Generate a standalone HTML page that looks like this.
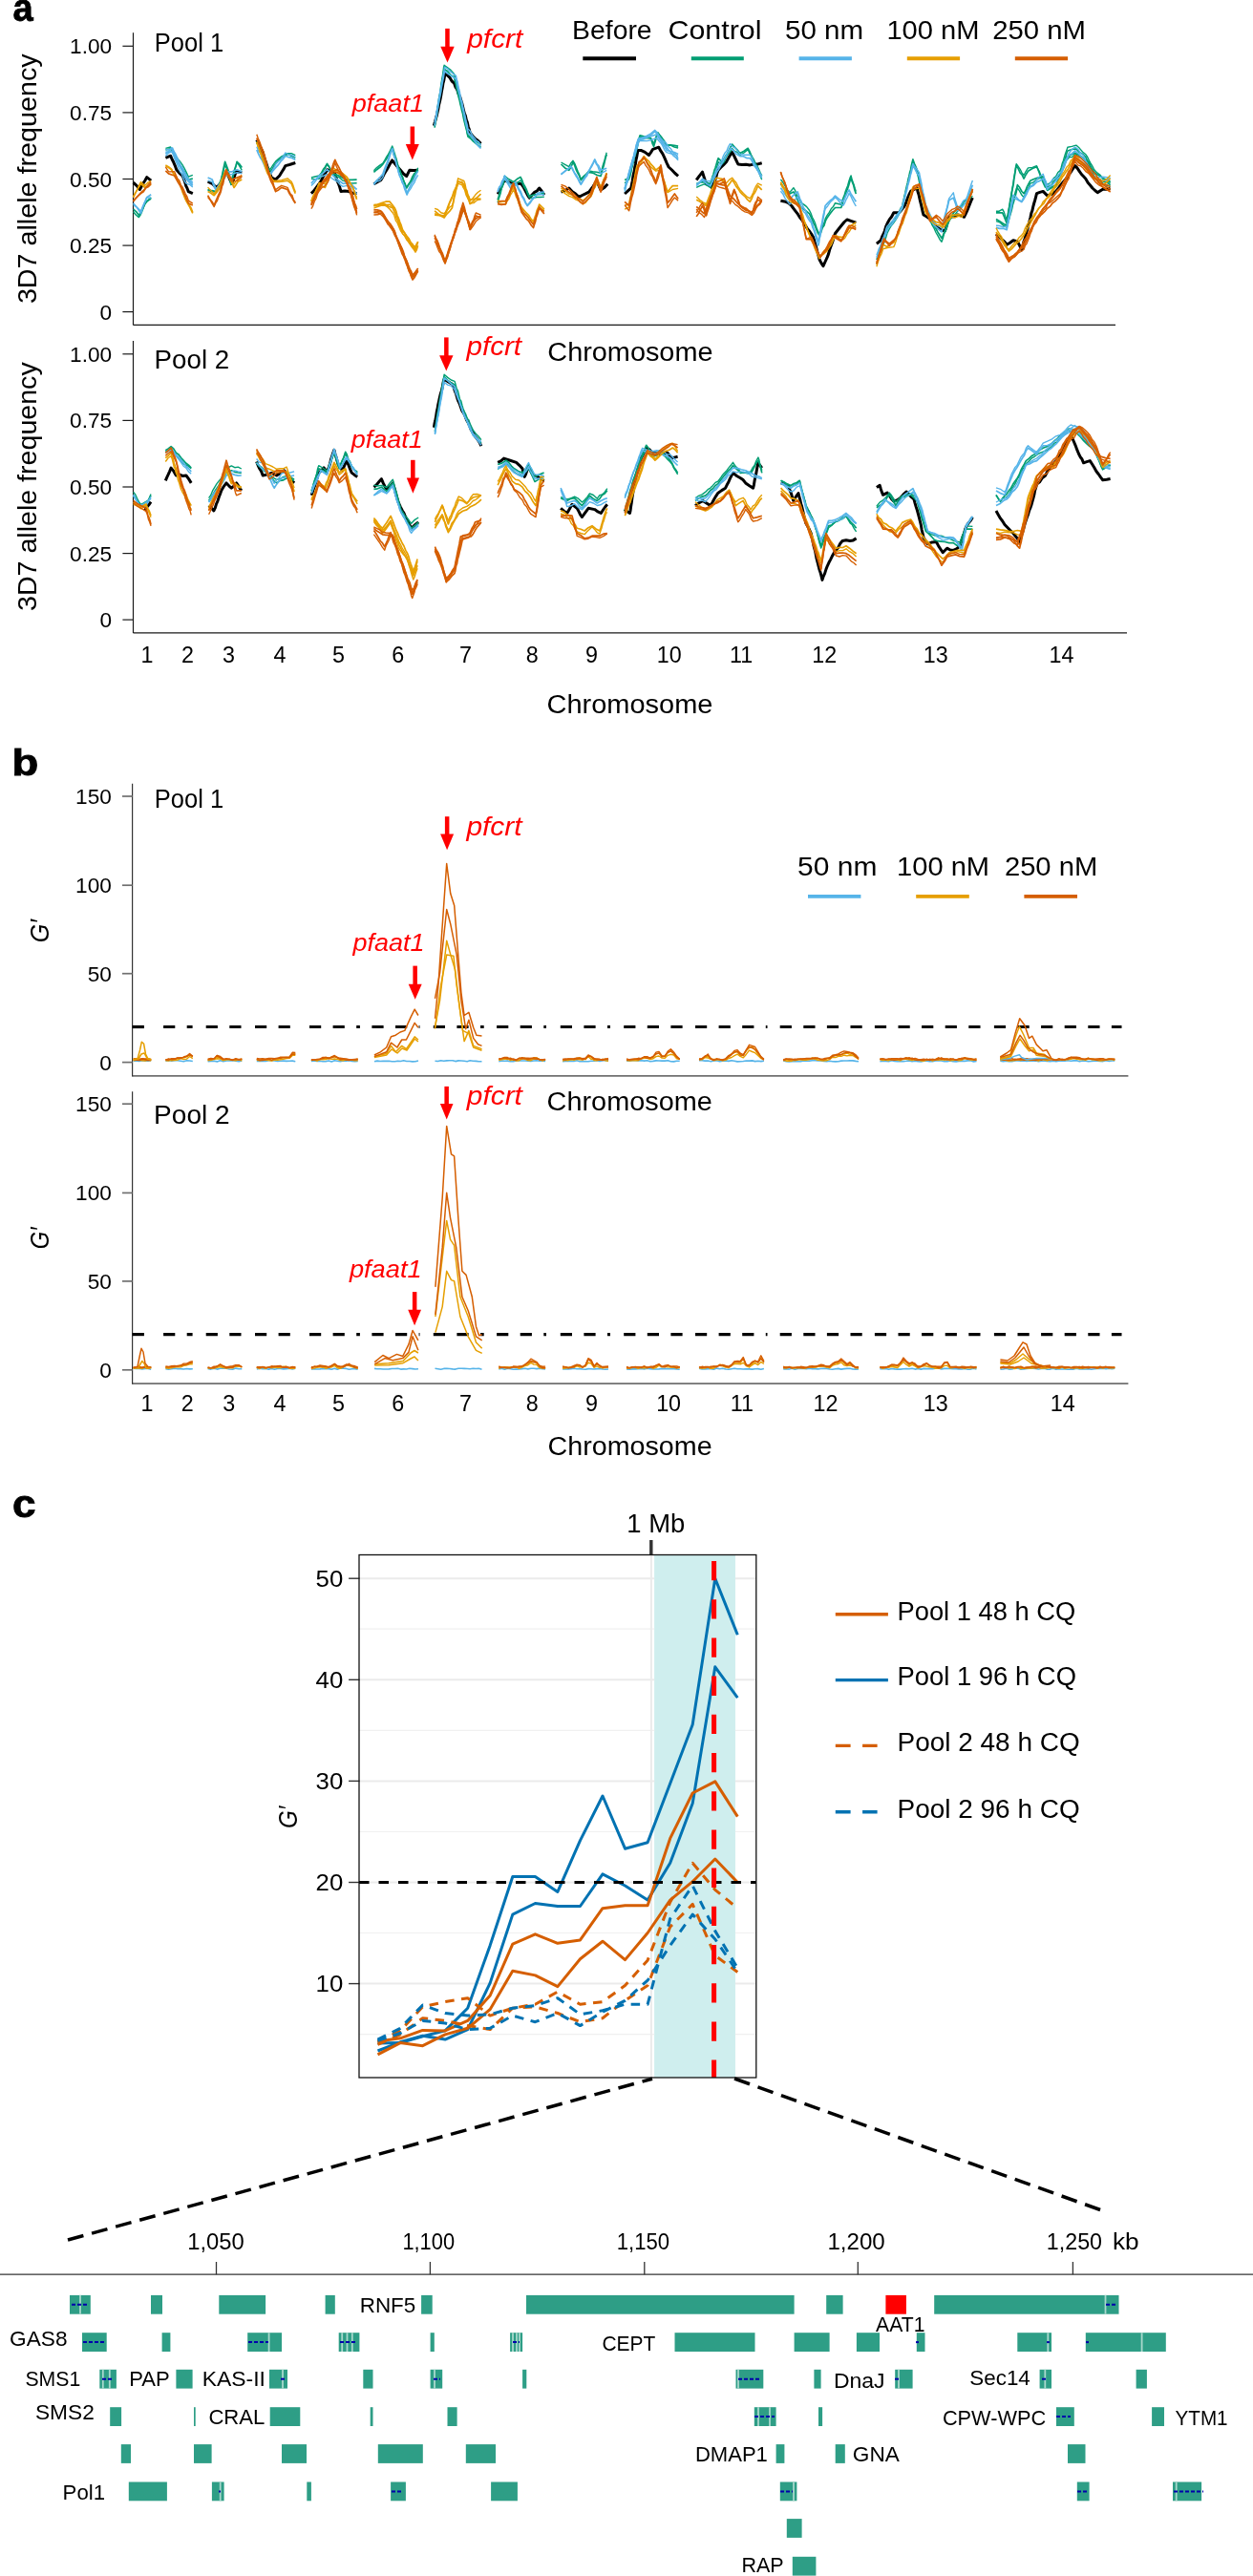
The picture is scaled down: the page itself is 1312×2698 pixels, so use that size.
<!DOCTYPE html>
<html><head><meta charset="utf-8"><style>
html,body{margin:0;padding:0;background:#fff;}
svg{display:block;font-family:"Liberation Sans", sans-serif;will-change:transform;}
</style></head><body>
<svg width="1312" height="2698" viewBox="0 0 1312 2698">
<rect width="1312" height="2698" fill="#fff"/>
<text x="13.6" y="21.5" font-size="41" fill="#000" text-anchor="start" font-weight="bold" textLength="21.2" lengthAdjust="spacingAndGlyphs" stroke="#000" stroke-width="0.8">a</text>
<line x1="139.5" y1="34.3" x2="139.5" y2="340.4" stroke="#1a1a1a" stroke-width="1.2" />
<line x1="139.5" y1="340.4" x2="1168" y2="340.4" stroke="#1a1a1a" stroke-width="1.2" />
<line x1="128.4" y1="48.3" x2="139.5" y2="48.3" stroke="#1a1a1a" stroke-width="1.2" />
<text x="117.1" y="56.3" font-size="22.6" fill="#000" text-anchor="end" >1.00</text>
<line x1="128.4" y1="117.9" x2="139.5" y2="117.9" stroke="#1a1a1a" stroke-width="1.2" />
<text x="117.1" y="125.9" font-size="22.6" fill="#000" text-anchor="end" >0.75</text>
<line x1="128.4" y1="187.5" x2="139.5" y2="187.5" stroke="#1a1a1a" stroke-width="1.2" />
<text x="117.1" y="195.5" font-size="22.6" fill="#000" text-anchor="end" >0.50</text>
<line x1="128.4" y1="257.1" x2="139.5" y2="257.1" stroke="#1a1a1a" stroke-width="1.2" />
<text x="117.1" y="265.1" font-size="22.6" fill="#000" text-anchor="end" >0.25</text>
<line x1="128.4" y1="326.6" x2="139.5" y2="326.6" stroke="#1a1a1a" stroke-width="1.2" />
<text x="117.1" y="334.6" font-size="22.6" fill="#000" text-anchor="end" >0</text>
<line x1="139.5" y1="357.1" x2="139.5" y2="662.9" stroke="#1a1a1a" stroke-width="1.2" />
<line x1="139.5" y1="662.9" x2="1180" y2="662.9" stroke="#1a1a1a" stroke-width="1.2" />
<line x1="128.4" y1="370.8" x2="139.5" y2="370.8" stroke="#1a1a1a" stroke-width="1.2" />
<text x="117.1" y="378.8" font-size="22.6" fill="#000" text-anchor="end" >1.00</text>
<line x1="128.4" y1="440.4" x2="139.5" y2="440.4" stroke="#1a1a1a" stroke-width="1.2" />
<text x="117.1" y="448.4" font-size="22.6" fill="#000" text-anchor="end" >0.75</text>
<line x1="128.4" y1="510" x2="139.5" y2="510" stroke="#1a1a1a" stroke-width="1.2" />
<text x="117.1" y="518" font-size="22.6" fill="#000" text-anchor="end" >0.50</text>
<line x1="128.4" y1="579.6" x2="139.5" y2="579.6" stroke="#1a1a1a" stroke-width="1.2" />
<text x="117.1" y="587.6" font-size="22.6" fill="#000" text-anchor="end" >0.25</text>
<line x1="128.4" y1="649.1" x2="139.5" y2="649.1" stroke="#1a1a1a" stroke-width="1.2" />
<text x="117.1" y="657.1" font-size="22.6" fill="#000" text-anchor="end" >0</text>
<text x="161.8" y="53.9" font-size="27.4" fill="#000" text-anchor="start" textLength="72.3" lengthAdjust="spacingAndGlyphs" >Pool 1</text>
<text x="161.6" y="385.7" font-size="27.4" fill="#000" text-anchor="start" textLength="78.6" lengthAdjust="spacingAndGlyphs" >Pool 2</text>
<text x="573.3" y="378.2" font-size="27" fill="#000" text-anchor="start" textLength="173.2" lengthAdjust="spacingAndGlyphs" >Chromosome</text>
<text x="37.7" y="318.1" font-size="28.5" fill="#000" text-anchor="start" textLength="261.7" lengthAdjust="spacingAndGlyphs" transform="rotate(-90 37.7 318.1)" >3D7 allele frequency</text>
<text x="37.7" y="640" font-size="28.5" fill="#000" text-anchor="start" textLength="260.7" lengthAdjust="spacingAndGlyphs" transform="rotate(-90 37.7 640)" >3D7 allele frequency</text>
<text x="599.1" y="40.7" font-size="27.4" fill="#000" text-anchor="start" textLength="83.5" lengthAdjust="spacingAndGlyphs" >Before</text>
<text x="699.5" y="40.7" font-size="27.4" fill="#000" text-anchor="start" textLength="98" lengthAdjust="spacingAndGlyphs" >Control</text>
<text x="822" y="40.7" font-size="27.4" fill="#000" text-anchor="start" textLength="82.2" lengthAdjust="spacingAndGlyphs" >50 nm</text>
<text x="928.4" y="40.7" font-size="27.4" fill="#000" text-anchor="start" textLength="97.2" lengthAdjust="spacingAndGlyphs" >100 nM</text>
<text x="1039.2" y="40.7" font-size="27.4" fill="#000" text-anchor="start" textLength="97.8" lengthAdjust="spacingAndGlyphs" >250 nM</text>
<line x1="610.3" y1="61.3" x2="666" y2="61.3" stroke="#000000" stroke-width="4" />
<line x1="723.8" y1="61.3" x2="778.8" y2="61.3" stroke="#009E73" stroke-width="4" />
<line x1="836.6" y1="61.3" x2="891.9" y2="61.3" stroke="#56B4E9" stroke-width="4" />
<line x1="949.8" y1="61.3" x2="1005.1" y2="61.3" stroke="#E69F00" stroke-width="4" />
<line x1="1062.8" y1="61.3" x2="1118.1" y2="61.3" stroke="#D55E00" stroke-width="4" />
<text x="154.1" y="693.7" font-size="23.3" fill="#000" text-anchor="middle" >1</text>
<text x="196.4" y="693.7" font-size="23.3" fill="#000" text-anchor="middle" >2</text>
<text x="239.6" y="693.7" font-size="23.3" fill="#000" text-anchor="middle" >3</text>
<text x="292.9" y="693.7" font-size="23.3" fill="#000" text-anchor="middle" >4</text>
<text x="354.6" y="693.7" font-size="23.3" fill="#000" text-anchor="middle" >5</text>
<text x="416.8" y="693.7" font-size="23.3" fill="#000" text-anchor="middle" >6</text>
<text x="487.4" y="693.7" font-size="23.3" fill="#000" text-anchor="middle" >7</text>
<text x="557.2" y="693.7" font-size="23.3" fill="#000" text-anchor="middle" >8</text>
<text x="619.4" y="693.7" font-size="23.3" fill="#000" text-anchor="middle" >9</text>
<text x="700.8" y="693.7" font-size="23.3" fill="#000" text-anchor="middle" >10</text>
<text x="776.2" y="693.7" font-size="23.3" fill="#000" text-anchor="middle" >11</text>
<text x="863.2" y="693.7" font-size="23.3" fill="#000" text-anchor="middle" >12</text>
<text x="979.8" y="693.7" font-size="23.3" fill="#000" text-anchor="middle" >13</text>
<text x="1111.5" y="693.7" font-size="23.3" fill="#000" text-anchor="middle" >14</text>
<text x="572.6" y="746.6" font-size="27" fill="#000" text-anchor="start" textLength="173.8" lengthAdjust="spacingAndGlyphs" >Chromosome</text>
<rect x="466.2" y="29.9" width="4.5" height="19.8" fill="#ff0000" />
<polygon points="461.3,48.7 475.7,48.7 468.5,65.5" fill="#ff0000"/>
<text x="489.2" y="50" font-size="27.5" fill="#ff0000" text-anchor="start" font-style="italic" textLength="58.2" lengthAdjust="spacingAndGlyphs" >pfcrt</text>
<rect x="429.6" y="132.5" width="4.5" height="19.4" fill="#ff0000" />
<polygon points="424.8,150.9 438.8,150.9 431.8,167.6" fill="#ff0000"/>
<text x="368.7" y="117.4" font-size="26.5" fill="#ff0000" text-anchor="start" font-style="italic" textLength="75.3" lengthAdjust="spacingAndGlyphs" >pfaat1</text>
<rect x="465.1" y="353.4" width="4.5" height="19.9" fill="#ff0000" />
<polygon points="460.1,372.3 474.5,372.3 467.3,388.5" fill="#ff0000"/>
<text x="488.5" y="372.3" font-size="27.5" fill="#ff0000" text-anchor="start" font-style="italic" textLength="57.6" lengthAdjust="spacingAndGlyphs" >pfcrt</text>
<rect x="430.1" y="481.8" width="4.5" height="19.7" fill="#ff0000" />
<polygon points="425.8,500.5 439,500.5 432.4,516.7" fill="#ff0000"/>
<text x="367.8" y="469.3" font-size="26.5" fill="#ff0000" text-anchor="start" font-style="italic" textLength="74.9" lengthAdjust="spacingAndGlyphs" >pfaat1</text>
<polyline points="139.6,191.2 143,194.4 146.4,198.5 148.2,195.3 150.1,191.8 151.9,189 153.7,185.6 158.2,189.1" fill="none" stroke="#000000" stroke-width="3.0" stroke-linejoin="round" />
<polyline points="173.4,165.3 178.6,163.2 180.2,167 181.7,169.8 183.2,173.3 184.8,177.7 187.9,181.4 191,184 192.3,186.9 193.5,190.2 194.8,194.8 196,197.2 197.3,200.6 201.8,202.6" fill="none" stroke="#000000" stroke-width="3.0" stroke-linejoin="round" />
<polyline points="217.6,190.2 222.2,192.3 226.3,196.4 229.4,193.8 232.5,190.2 233.9,186.7 235.3,183.5 236.7,179.8 238.8,183.4 240.8,188.3 242.9,192.3 244.3,188.7 245.7,184 247.1,179.8 253.3,180.8" fill="none" stroke="#000000" stroke-width="3.0" stroke-linejoin="round" />
<polyline points="268.8,146.6 270.5,150.5 272.3,153.8 274,157 275.3,160 276.5,164.9 277.8,168.3 279,171.6 280.3,175.6 281.7,178.3 283,183.1 284.4,186 288.6,188.1 292.7,184 294.8,180.5 296.8,177.4 298.9,173.6 303.1,172.5 309.3,170.5" fill="none" stroke="#000000" stroke-width="3.0" stroke-linejoin="round" />
<polyline points="325.9,202.6 328.7,199.8 331.4,196.1 334.2,192.3 336.3,189.3 338.4,184.8 340.4,181.8 342.5,177.7 346.6,179.7 350.8,181.9 352,186.3 353.3,190 354.5,192.5 355.8,196.3 357,200.6 361.1,200.1 365.3,200.6 369.5,202.3 373.6,202.6" fill="none" stroke="#000000" stroke-width="3.0" stroke-linejoin="round" />
<polyline points="391.4,192.8 395,190.6 398.7,188.7 400.7,185.4 402.7,181.4 404.7,178.3 406.7,174.7 408.7,171.1 410.7,167.9 413.6,171.5 416.5,175 419.4,178.3 422.5,182 425.7,184.5 428.8,178.3 433.2,178.6 437.7,178.3" fill="none" stroke="#000000" stroke-width="3.0" stroke-linejoin="round" />
<polyline points="454.3,131.6 455.2,128.8 456.1,125.1 457.1,121.8 458,117.8 458.9,114 459.6,109.7 460.3,107.1 461.1,103.5 461.8,99.7 462.5,95.4 463.2,91.9 463.9,87.4 464.7,84.6 465.4,80.5 466.1,76.6 468.5,78.9 470.8,81.1 473.1,85 475.5,87 477.1,91.4 478.6,93.6 480.1,98.4 481.7,101.5 482.6,104.8 483.6,107.7 484.5,111.4 485.5,115.5 486.4,119.1 487.4,121.2 488.3,125.5 489.3,128 490.2,132.4 491.2,135.2 492.1,138.9 495,142.4 497.8,145.4 500.6,147.5 503.5,150.3" fill="none" stroke="#000000" stroke-width="3.0" stroke-linejoin="round" />
<polyline points="521.1,203.2 522.9,200.4 524.8,195.6 526.6,191.6 528.4,188.7 533,190.9 537.7,192.8 541.9,192.1 546,192.8 548.1,195.9 550.1,199.9 552.2,203.9 554.3,207.3 556.9,204.2 559.5,201.4 562.1,200.2 564.7,197 567.3,200.3 569.9,204.2" fill="none" stroke="#000000" stroke-width="3.0" stroke-linejoin="round" />
<polyline points="587.5,201.1 591.6,199.8 595.8,197 599.3,200.7 602.7,203 606.2,206.3 609.7,204.5 613.1,202.9 616.6,201.1 618.7,198.5 620.8,195.6 622.8,192.6 624.9,189.7 627,194.5 629,199 632.6,196.6 636.3,192.8" fill="none" stroke="#000000" stroke-width="3.0" stroke-linejoin="round" />
<polyline points="654.1,203 657.5,199.9 660.8,196.8 661.5,193.1 662.1,190 662.8,185.6 663.4,182.2 664.1,179.7 664.7,175.3 665.4,171.8 666,167.4 666.7,164.4 667.3,161.1 668,157.4 671.6,157.6 675.3,159.4 679.4,162.5 681.5,159.6 683.6,156.3 689.8,154.2 691.9,158.2 693.9,161.2 696,165.7 698.1,170.6 700.2,175 703.5,178 706.8,181.5 710.1,184.3" fill="none" stroke="#000000" stroke-width="3.0" stroke-linejoin="round" />
<polyline points="729.2,188.5 732.4,184.1 735.5,180.2 736.9,184.7 738.2,188.8 739.6,192.6 742.7,193.9 745.8,196.8 747.1,192.4 748.3,189.6 749.6,186.3 750.8,181.4 752.1,178.1 754.9,175.3 757.6,172.7 760.4,169.8 762.5,166 764.5,162.6 766.6,159.4 768.7,163.3 770.7,167.5 772.8,171.9 777,172.4 781.1,172.2 785.3,172.9 789.4,172 793.6,171.9 797.7,170.8" fill="none" stroke="#000000" stroke-width="3.0" stroke-linejoin="round" />
<polyline points="817.4,210.3 822.6,211.3 825.7,212.6 828.8,215.5 832,219.8 835.1,223.8 837.2,227.3 839.2,229.7 841.3,232.7 843.4,236.2 845.5,239.8 847.5,242 849.6,245.1 851.7,248.7 852.7,252.4 853.8,256.6 854.8,259.5 855.8,263.6 856.9,267.4 857.9,271.5 860,275.6 862,278.7 864.1,274 866.2,269.4 867.4,266.4 868.6,261.8 869.8,258.5 870.9,255.4 872.1,252.2 873.3,248 874.5,244.5 878.6,239.3 881.4,235.8 884.1,232.5 886.9,230 891.6,231.6 896.3,233.1" fill="none" stroke="#000000" stroke-width="3.0" stroke-linejoin="round" />
<polyline points="917.9,255.2 922.3,251.8 923.7,247.7 925,245.2 926.4,241.7 927.7,237.1 929.1,234 931.3,229.9 933.6,227 935.8,222.8 941.3,222.8 944.1,219.7 946.9,216.1 948.6,212.7 950.2,208 951.9,203.7 953.6,200.4 957,198.4 960.3,197.1 961.1,201.1 962,203.7 962.8,207.3 963.6,210.9 964.5,214.4 965.3,217.9 966.2,222.2 967,225 970,226.7 973,228.7 976,231.7 979,235.4 981.9,238.3 984.9,240.7 989.4,241.8 990.5,239 991.6,234.4 992.8,231.6 993.9,227.3 998.3,226.8 1002.8,225 1006.1,225.7 1009.5,227.3 1011,224.3 1012.5,221.1 1014,217.5 1015.4,213.9 1016.9,210.2 1018.4,207.2" fill="none" stroke="#000000" stroke-width="3.0" stroke-linejoin="round" />
<polyline points="1043,245.1 1045.8,247.6 1048.6,250.3 1051.4,252.8 1054.2,256.3 1057.6,254.2 1060.9,251.8 1065.4,253 1067.6,257.1 1069.8,261.9 1070.9,258.2 1072,252.8 1073.2,249.9 1074.3,245.1 1075.2,241.9 1076.2,238.7 1077.1,235.1 1078,231.6 1079,227.6 1079.9,223.1 1080.8,220.8 1081.8,216.3 1082.7,213 1083.6,210 1084.6,206.3 1085.5,202.7 1088.8,201.4 1092.2,200.4 1096.6,204.9 1101.1,203.4 1105.6,200.4 1107.8,197.8 1110,194.6 1112.3,191.7 1114.5,189.3 1116.7,186.7 1119,183 1121.2,180.3 1123.5,176.5 1125.7,173.6 1127.9,175.9 1130.2,179.3 1132.4,182.5 1134.6,184.8 1136.8,187.2 1139.1,191.2 1141.3,193.7 1143.9,197 1146.6,199.5 1149.2,201.6 1154.7,198.2 1158.7,198.2 1162.6,197.1" fill="none" stroke="#000000" stroke-width="3.0" stroke-linejoin="round" />
<polyline points="139.6,219.2 142.5,221.6 145.4,225.5 147.5,222.1 149.6,218.8 151.6,213.8 153.7,210.9 158.2,206.8" fill="none" stroke="#009E73" stroke-width="1.7" stroke-linejoin="round" />
<polyline points="139.6,221.7 142.5,225.3 145.4,227.6 147.1,225.1 148.7,221.6 150.4,216.7 152,213.4 153.7,211.1 158.2,208.1" fill="none" stroke="#009E73" stroke-width="1.4" stroke-linejoin="round" />
<polyline points="173.4,157 178.6,155.9 180.7,159.7 182.7,162.8 184.8,167.4 186.9,170.8 188.9,173.6 191,176.7 193.1,179.8 195.2,183.4 197.3,188.1 201.8,187.1" fill="none" stroke="#009E73" stroke-width="1.7" stroke-linejoin="round" />
<polyline points="173.4,155.4 178.6,154 180.7,157.7 182.7,161.6 184.8,164.6 186.9,167.3 188.9,169.6 191,172.7 193.1,176.4 195.2,180.5 197.3,185.2 201.8,183.4" fill="none" stroke="#009E73" stroke-width="1.4" stroke-linejoin="round" />
<polyline points="217.6,198.5 221.9,199.7 226.3,200.6 228,196.9 229.8,192.1 231.5,188.1 232.3,184.8 233.1,180.8 234,176.8 234.8,172.9 235.6,169.4 237.2,173.5 238.8,177.7 239.8,182.2 240.9,185.9 241.9,190.2 242.9,187 244,183.2 245,179.4 246,176.4 247.1,173.2 248.1,169.4 250.7,171.8 253.3,175.6" fill="none" stroke="#009E73" stroke-width="1.7" stroke-linejoin="round" />
<polyline points="217.6,199 221.9,200.8 226.3,200.7 228,197.4 229.8,193.9 231.5,189.4 232.5,185.4 233.6,181 234.6,176.4 235.6,173.2 237.2,176.2 238.8,179.9 239.6,183.4 240.4,187.4 241.1,190.7 241.9,193.6 242.8,190.2 243.7,186.3 244.6,183.2 245.4,180.1 246.3,176.8 247.2,173.6 248.1,169.8 250.7,173.8 253.3,178.3" fill="none" stroke="#009E73" stroke-width="1.4" stroke-linejoin="round" />
<polyline points="268.8,148.7 270.3,153 271.7,155.9 273.2,160.5 274.6,162.9 276.1,167.4 277.7,170.4 279.2,174.6 280.8,178.6 282.3,181.9 284.4,178.1 286.5,174.6 288.6,171.5 291.7,167.7 294.8,165.3 297.9,164 301,161.1 305.1,163.3 309.3,165.3" fill="none" stroke="#009E73" stroke-width="1.7" stroke-linejoin="round" />
<polyline points="268.8,148 270.3,151.2 271.7,155.2 273.2,159.9 274.6,164.1 276.1,167.4 278.2,170.9 280.2,174.5 282.3,178.4 284.4,175.1 286.5,171.9 288.6,169.1 291.7,166.3 294.8,163.8 301,160.7 305.1,160.7 309.3,162.6" fill="none" stroke="#009E73" stroke-width="1.4" stroke-linejoin="round" />
<polyline points="325.9,186 330,185 334.2,184 336.3,181.6 338.4,177.6 340.4,175 342.5,171.5 344.6,174.4 346.6,178.7 348.7,181.9 355,184 359.1,186.5 363.3,188.1 368.5,188.4 373.6,188.1" fill="none" stroke="#009E73" stroke-width="1.7" stroke-linejoin="round" />
<polyline points="325.9,187.4 330,187.6 334.2,187.4 336.3,184.3 338.4,178.9 340.4,176.4 342.5,172 344.6,175.1 346.6,179.8 348.7,183.7 355,185.7 359.1,189.2 363.3,190.7 368.5,192 373.6,191.7" fill="none" stroke="#009E73" stroke-width="1.4" stroke-linejoin="round" />
<polyline points="391.4,180.4 394.5,177.7 397.7,175.3 400.8,172.1 402.8,169.1 404.8,166.2 406.7,162.5 408.7,159.3 410.7,155.9 411.8,160.1 412.9,163.3 414,165.7 415.2,169.1 416.3,173.3 417.4,176.2 418.8,179.2 420.2,183.2 421.5,186.2 422.9,190 424.3,194.1 425.7,197 427.7,193.8 429.7,191.1 431.7,188 433.7,184.1 435.7,181.5 437.7,178.3" fill="none" stroke="#009E73" stroke-width="1.7" stroke-linejoin="round" />
<polyline points="391.4,178.8 394.5,175.6 397.7,173.1 400.8,171.1 402.8,167.9 404.8,164.2 406.7,161.3 408.7,157.4 410.7,153 411.8,156.1 412.9,159.6 414,163.3 415.2,166.8 416.3,171.5 417.4,174.7 418.8,179.1 420.2,182.8 421.5,185 422.9,189.9 424.3,192.4 425.7,196.4 427.7,192.8 429.7,190 431.7,185.1 433.7,181.7 435.7,179.9 437.7,175.7" fill="none" stroke="#009E73" stroke-width="1.4" stroke-linejoin="round" />
<polyline points="455.1,133.7 455.7,129.8 456.3,126.3 456.9,123 457.5,119.6 458,114.9 458.6,111.8 459.2,108.4 459.8,104.9 460.4,100.8 461,97.8 461.6,94.8 462.2,90.3 462.7,87 463.3,82.7 463.9,79.3 464.5,76.4 465.1,72.5 468.6,74.6 472,78.7 475.5,80.8 476.3,84.9 477.1,87.1 477.9,91.9 478.7,94.4 479.5,98.5 480.3,101.9 481.1,104.7 481.9,108.7 482.8,112.1 483.6,115.8 484.4,118.4 485.2,122.7 486,126.5 486.8,129.5 487.6,132.7 488.4,135.5 489.2,139.5 490,143 492.7,145 495.4,147.9 498.1,150.1 500.8,152.2 503.5,154.4" fill="none" stroke="#009E73" stroke-width="1.7" stroke-linejoin="round" />
<polyline points="455.1,131.8 455.7,127.4 456.2,124.9 456.8,122.2 457.3,118 457.9,114.5 458.4,110.5 459,106.7 459.5,102.9 460.1,100 460.7,97.2 461.2,93.5 461.8,88.6 462.3,85.3 462.9,82.5 463.4,79.1 464,75.1 464.5,71 465.1,68.3 468.6,70.9 472,73.4 475.5,77.5 476.3,80.3 477.1,84.6 477.9,87.7 478.7,92.2 479.5,95.4 480.3,99.8 481.1,103.5 481.9,106 482.8,110.4 483.6,112.3 484.4,116.8 485.2,121.5 486,123.2 486.8,127.8 487.6,131.6 488.4,134.9 489.2,139.2 490,141.9 493.4,143.4 496.8,147.1 500.1,149.2 503.5,151.4" fill="none" stroke="#009E73" stroke-width="1.4" stroke-linejoin="round" />
<polyline points="521.1,209.4 522.1,206.1 523.2,202.1 524.2,199.5 525.3,194.6 526.3,191.8 527.4,188.6 528.4,184.5 531.5,187 534.6,188.7 537.7,190.7 541.4,187.6 545,185.5 546.5,188.3 548.1,192.7 549.6,195.2 551.2,198.4 552.8,202.5 554.3,205.3 558.2,204.4 562.1,203.6 566,203.4 569.9,202.1" fill="none" stroke="#009E73" stroke-width="1.7" stroke-linejoin="round" />
<polyline points="521.1,212.3 522.1,208.8 523.2,205.5 524.2,202.3 525.3,197.1 526.3,195.3 527.4,191.5 528.4,187.6 531.5,190.1 534.6,192.7 537.7,195.2 541.4,191.9 545,188.9 546.9,191.8 548.7,196.2 550.6,198.8 552.4,203.5 554.3,207.1 558.2,207.2 562.1,206.5 566,206.5 569.9,206.1" fill="none" stroke="#009E73" stroke-width="1.4" stroke-linejoin="round" />
<polyline points="587.5,172 591.6,175.9 595.8,178.3 597.9,174.8 600,170 601.7,173.2 603.3,177.9 605,181.4 606.6,184.2 608.3,188.7 611.1,185.7 613.8,182.7 616.6,180.4 620.7,181.1 624.9,183.2 629,184.5 630,181.4 631.1,176.6 632.1,173.7 633.1,169.6 634.2,164.9 635.2,161.7" fill="none" stroke="#009E73" stroke-width="1.7" stroke-linejoin="round" />
<polyline points="587.5,170 591.6,172.4 595.8,174.7 597.9,170.7 600,168.3 601.7,171.1 603.3,175 605,179.2 606.6,182.9 608.3,187.5 611.1,184.6 613.8,182.2 616.6,178.9 620.7,179.8 624.9,180.3 629,181.3 630,178.1 631.1,173.7 632.1,170.5 633.1,167.5 634.2,163.2 635.2,159.8" fill="none" stroke="#009E73" stroke-width="1.4" stroke-linejoin="round" />
<polyline points="654.1,188.5 658.7,186.4 659.6,182.5 660.5,180.2 661.3,176.5 662.2,172.5 663.1,169 664,165.9 664.8,162.5 665.7,158.5 666.6,154.7 667.5,151.6 668.3,149.1 669.2,144.7 670.1,141.8 673.9,142.8 677.7,143.4 681.5,144.9 684.6,151.1 686,146.5 687.4,142.3 688.8,138.7 691.1,141.9 693.5,144.9 695.8,148.1 698.1,152.2 702.1,151.9 706.1,152.3 710.1,153.2" fill="none" stroke="#009E73" stroke-width="1.7" stroke-linejoin="round" />
<polyline points="654.1,191.7 658.7,187.9 659.6,185.3 660.5,181.8 661.3,176.9 662.2,173.8 663.1,169.9 664,166.8 664.8,162.8 665.7,161.1 666.6,157 667.5,154 668.3,149.4 669.2,147.5 670.1,142.9 673.9,144.6 677.7,144.9 681.5,144.9 683,150.4 684.6,153.8 685.6,150.2 686.7,146.8 687.8,142.1 688.8,139.5 691.1,142.3 693.5,147 695.8,148.6 698.1,152.2 702.1,152.2 706.1,154 710.1,155" fill="none" stroke="#009E73" stroke-width="1.4" stroke-linejoin="round" />
<polyline points="729.2,192.6 733.4,190.9 737.5,190.6 743.8,192.6 744.8,189.4 745.9,185.2 746.9,182.8 748,178.4 749,175.8 750,172.4 751.1,168.6 752.1,165.7 756.2,169.8 757.9,166.7 759.7,163.3 761.4,161.1 763.1,157.7 764.9,154 766.6,151.1 769.4,154.2 772.1,157.1 774.9,160.5 779,158.2 783.2,155.3 784.8,158.3 786.4,162.1 788,165.2 789.6,168 791.3,172.1 792.9,174.1 794.5,177.7 796.1,181.1 797.7,184.3" fill="none" stroke="#009E73" stroke-width="1.7" stroke-linejoin="round" />
<polyline points="729.2,196.3 733.4,194.4 737.5,192.8 740.6,194.5 743.8,196.5 744.8,193.6 745.9,189.5 746.9,187.2 748,183.1 749,180.3 750,177.3 751.1,173.5 752.1,169.7 756.2,171.9 758.3,169.6 760.4,164.3 762.4,161.3 764.5,159.3 766.6,155.4 769.4,158.5 772.1,159.3 774.9,162.5 779,160 783.2,156.6 784.8,160.5 786.4,163.2 788,167.3 789.6,171.3 791.3,173.1 792.9,177.8 794.5,180.1 796.1,184.5 797.7,188.1" fill="none" stroke="#009E73" stroke-width="1.4" stroke-linejoin="round" />
<polyline points="817.4,192.6 819.8,195.8 822.1,198 824.4,201.2 826.8,203 830.9,200.9 832.6,203.4 834.2,207.1 835.9,211.3 837.5,214.8 839.2,217.5 843.4,220.4 847.5,223.8 849,226.8 850.5,230.2 852,234.1 853.4,236.4 854.9,240.4 856.4,244.1 857.9,246.6 859.6,243.6 861.2,238.5 862.9,236.2 864.5,231 866.2,227.9 869,224.1 871.7,220.5 874.5,217.5 880.7,217.5 881.9,214.6 883,210.6 884.2,207.1 885.3,204.3 886.5,199.9 887.6,197.4 888.8,193.8 889.9,189.8 891.1,186.4 892.4,190.7 893.7,194 895,199.3 896.3,203" fill="none" stroke="#009E73" stroke-width="1.7" stroke-linejoin="round" />
<polyline points="817.4,187.8 819.8,191 822.1,195 824.4,198.7 826.8,201.6 830.9,196.7 832.6,199.4 834.2,204.1 835.9,206.2 837.5,209.2 839.2,212.7 842,214.4 844.7,216.6 847.5,220.2 849,223.2 850.5,227.5 852,230.3 853.4,233.5 854.9,238.2 856.4,242.1 857.9,244.7 859.6,241.2 861.2,236.7 862.9,233.7 864.5,228.3 866.2,225.4 868.3,222.3 870.4,218.5 872.4,216.6 874.5,212.7 880.7,214.2 881.9,209.9 883,206.9 884.2,204 885.3,200.2 886.5,197 887.6,194.5 888.8,190 889.9,186.6 891.1,183.9 892.1,188 893.2,191.1 894.2,193.8 895.3,197.7 896.3,200.6" fill="none" stroke="#009E73" stroke-width="1.4" stroke-linejoin="round" />
<polyline points="917.9,272 919,269.2 920.1,265.1 921.3,261.4 922.4,258.8 923.5,255.1 924.6,252.5 925.7,249.3 926.9,245.1 928,241.9 929.1,238.4 932.5,234.3 935.8,231.7 937.6,229.3 939.4,224.7 941.1,223 942.9,218.5 944.7,216.1 945.5,212 946.3,209.1 947.1,204.9 947.9,202 948.7,198 949.5,194.5 950.3,191.5 951.1,187.2 951.9,184.4 952.7,180.5 953.5,177.9 954.3,173.4 955.1,170.3 955.9,166.9 957.4,171.3 958.8,174.3 960.3,178.1 961.1,181.1 961.9,185 962.8,189 963.6,191.6 964.4,195.2 965.2,199.3 966,202.5 966.8,206.4 967.7,209.1 968.5,213.3 969.3,216.1 970.6,219.6 972,224.1 973.3,226.4 974.7,231.2 976,234 978,236.8 980,239.5 982,243.2 984,246.3 986,249.6 987.3,246.8 988.6,243.3 990,240.2 991.3,236.2 992.6,232.1 993.9,229.5 996.1,226.9 998.3,223.3 1000.6,220.3 1002.8,218.3 1005.8,216.1 1008.7,211.6 1011.7,209.4 1013.9,207.2 1016.2,203.9 1018.4,200.4" fill="none" stroke="#009E73" stroke-width="1.7" stroke-linejoin="round" />
<polyline points="917.9,276.6 919.1,272.8 920.4,268.8 921.6,264.7 922.9,261.9 924.1,258.6 925.4,255.1 926.6,252 927.9,248.1 929.1,243.8 931.3,239.7 933.6,236 935.8,233.3 938,230.1 940.2,226.4 942.5,222.1 944.7,218.3 945.5,215.5 946.3,211.3 947.1,207.1 947.9,203.3 948.7,199.4 949.5,197.2 950.3,194.2 951.1,190.7 951.9,186.2 952.7,183 953.5,180 954.3,176.2 955.1,172.2 955.9,168.4 957.4,172.5 958.8,177 960.3,181.3 961.1,184 961.9,187.4 962.8,192 963.6,196.1 964.4,198.5 965.2,201.6 966,204.9 966.8,208.6 967.7,212.7 968.5,215.4 969.3,218.9 970.6,223.3 972,224.9 973.3,228.6 974.7,232.4 976,235.7 978,239 980,243.5 982,246.9 984,250.7 986,253.2 987.3,249.8 988.6,244.9 990,242.5 991.3,238.7 992.6,235 993.9,231.3 996.9,227.4 999.8,224.9 1002.8,221 1005.8,218.9 1008.7,214 1011.7,211.8 1015,208.8 1018.4,205.1" fill="none" stroke="#009E73" stroke-width="1.4" stroke-linejoin="round" />
<polyline points="1043,222.8 1049.7,222.8 1051.2,226.3 1052.7,230.3 1054.2,234 1054.8,231.1 1055.4,227.6 1056,223.6 1056.6,219.3 1057.1,216.9 1057.7,212.2 1058.3,208.9 1058.9,206.1 1059.5,201.7 1060.1,198.1 1060.7,195.6 1061.3,192.1 1061.8,187.5 1062.4,184.1 1063,180.4 1063.6,176.6 1064.2,173.6 1066.2,176.6 1068.2,181.1 1070.1,183 1072.1,187 1074.3,182.7 1076.5,179.2 1081,176.5 1085.5,174.7 1087,177.6 1088.5,181.8 1090,185.7 1091.4,189.4 1092.9,192.7 1094.4,196 1097.8,195.4 1101.1,193.7 1103.3,190.1 1105.6,187.8 1107.8,186.1 1110.1,182.6 1111.2,178.4 1112.3,175.2 1113.4,172 1114.6,168.2 1115.7,165.1 1116.8,160.8 1117.9,158 1122.3,156.5 1126.8,155.8 1130.2,159.5 1133.5,161.2 1136.9,164.7 1138.7,168.5 1140.4,170.4 1142.2,174.8 1143.9,177.5 1145.7,180.3 1148.7,182.8 1151.7,184.2 1154.7,187 1158.7,188.5 1162.6,191.5" fill="none" stroke="#009E73" stroke-width="1.7" stroke-linejoin="round" />
<polyline points="1043,221.3 1046.3,221.2 1049.7,219.2 1051.2,221.9 1052.7,226.4 1054.2,230.5 1054.8,226.2 1055.4,223.5 1056,219.1 1056.6,216.7 1057.1,214 1057.7,208.8 1058.3,207 1058.9,202.7 1059.5,199.8 1060.1,195.9 1060.7,193.1 1061.3,188.8 1061.8,185.2 1062.4,182.1 1063,178.1 1063.6,174.3 1064.2,171.6 1066.2,174.5 1068.2,177.3 1070.1,181.1 1072.1,183.5 1074.3,179.3 1076.5,175.9 1081,175.4 1085.5,173.7 1087,177.6 1088.5,179.9 1090,184.4 1091.4,188 1092.9,189.9 1094.4,193.6 1097.8,192.7 1101.1,190.3 1103.3,186.6 1105.6,184.7 1107.8,180.5 1110.1,178.6 1111.2,175.4 1112.3,170.9 1113.4,168.3 1114.6,164 1115.7,160.4 1116.8,157.6 1117.9,154.3 1122.3,153.4 1126.8,152.1 1130.2,155.1 1133.5,159 1136.9,161.8 1138.7,164.5 1140.4,168.1 1142.2,171.5 1143.9,174.1 1145.7,177.7 1148.7,180.9 1151.7,183 1154.7,186.6 1158.7,188.1 1162.6,189.8" fill="none" stroke="#009E73" stroke-width="1.4" stroke-linejoin="round" />
<polyline points="1043,229.5 1046.7,231.8 1050.5,234.2 1054.2,236.2 1055.1,232.8 1056.1,229.4 1057,226 1057.9,222.4 1058.9,218.2 1059.8,215.3 1060.7,211.2 1061.7,208.6 1062.6,204 1063.5,200.3 1064.5,197.4 1065.4,193.7 1067.6,196.3 1069.9,200.5 1072.1,202.7 1073.8,199.7 1075.4,195.6 1077.1,192.5 1078.8,189.3 1082.2,187.8 1085.5,186.5 1088.8,185.7 1092.2,184.8 1093.3,188.6 1094.4,191 1095.5,195 1096.6,198.2 1101.1,196 1105.6,193.7 1107,190.9 1108.4,185.7 1109.8,182.7 1111.2,179.3 1112.6,175.8 1114,171.6 1115.4,167.9 1116.8,164.7 1121.2,162.3 1125.7,160.2 1129,162 1132.4,164 1135.8,167 1139.1,169.2 1140.8,172.4 1142.4,177 1144,180.3 1145.7,184.8 1149.1,187 1152.5,188.2 1155.8,190.2 1159.2,191.1 1162.6,193.7" fill="none" stroke="#009E73" stroke-width="1.7" stroke-linejoin="round" />
<polyline points="1043,231.6 1046.7,232.8 1050.5,236.1 1054.2,238.2 1055.1,235.7 1056.1,231.4 1057,228.4 1057.9,225.1 1058.9,221.7 1059.8,218.4 1060.7,213.9 1061.7,211 1062.6,206.3 1063.5,204.6 1064.5,200 1065.4,196.8 1067.6,200.1 1069.9,204.3 1072.1,206.7 1073.8,202.6 1075.4,198.7 1077.1,196.5 1078.8,192.1 1082.2,190.8 1085.5,188.1 1088.8,186.4 1092.2,185.9 1093.3,189 1094.4,191.7 1095.5,196.9 1096.6,199.6 1101.1,196.9 1105.6,195.7 1107,191.7 1108.4,188.4 1109.8,185.2 1111.2,181.5 1112.6,178.5 1114,175 1115.4,171 1116.8,167.7 1119.8,164.6 1122.7,164.5 1125.7,161.3 1129,163.9 1132.4,164.7 1135.8,167.7 1139.1,170 1140.4,173.9 1141.7,177.7 1143.1,179 1144.4,182.2 1145.7,186.6 1149.1,188.3 1152.5,189.9 1155.8,192.7 1159.2,194.3 1162.6,195.3" fill="none" stroke="#009E73" stroke-width="1.4" stroke-linejoin="round" />
<polyline points="139.6,213 143.3,217 147.5,221.3 149.1,217.4 150.6,213.9 152.1,210.6 153.7,206.8 158.2,203.7" fill="none" stroke="#56B4E9" stroke-width="1.7" stroke-linejoin="round" />
<polyline points="139.6,214.5 143.3,217.3 145.4,220.6 147.5,223.8 148.7,220.5 150,216.1 151.2,213 152.5,210.1 153.7,206.8 158.2,207.3" fill="none" stroke="#56B4E9" stroke-width="1.4" stroke-linejoin="round" />
<polyline points="173.4,161.1 176.5,158.6 179.6,154.9 181.1,158.3 182.5,161.2 184,165.6 185.4,168.4 186.9,171.5 188.6,174.9 190.2,177.7 191.9,181.1 193.5,185.4 195.2,188.1 198.5,189.6 201.8,192.3" fill="none" stroke="#56B4E9" stroke-width="1.7" stroke-linejoin="round" />
<polyline points="173.4,163.3 176.5,160.3 179.6,158.7 181.1,161.2 182.5,165.4 184,168.6 185.4,171.8 186.9,175.9 188.6,180 190.2,181.8 191.9,186.4 193.5,190 195.2,192.3 198.5,193.3 201.8,196" fill="none" stroke="#56B4E9" stroke-width="1.4" stroke-linejoin="round" />
<polyline points="173.4,159.1 177.1,159.2 180.7,158 182.4,161.4 184,164.6 185.7,168.1 187.3,171.4 189,175.7 191.1,179.3 193.2,182.8 195.2,187.1 197.3,190.2 201.8,194.3" fill="none" stroke="#56B4E9" stroke-width="1.7" stroke-linejoin="round" />
<polyline points="173.4,156.6 177.1,156.8 180.7,154.9 182.4,159 184,161.5 185.7,165.3 187.3,168.6 189,172.9 191.1,175.8 193.2,180.2 195.2,183.3 197.3,187.6 201.8,190.5" fill="none" stroke="#56B4E9" stroke-width="1.4" stroke-linejoin="round" />
<polyline points="217.6,186 222.2,188.1 223.6,192.1 224.9,194.8 226.3,198.5 228.4,195 230.4,192.3 232.5,188.4 234.6,184 236.7,179.8 242.9,179.8 248.1,177.7 253.3,179.8" fill="none" stroke="#56B4E9" stroke-width="1.7" stroke-linejoin="round" />
<polyline points="217.6,189.2 222.2,190.6 224.2,195.9 226.3,199.4 230.4,196.1 232.5,192.5 234.6,187.4 236.7,183.9 242.9,182.5 248.1,180.7 253.3,181.6" fill="none" stroke="#56B4E9" stroke-width="1.4" stroke-linejoin="round" />
<polyline points="268.8,157 270.6,161.1 272.5,165 274.3,167.6 276.1,171.5 278.2,176.5 280.2,179.8 282.3,184 285.5,179.3 288.6,175.7 291.2,172.9 293.8,169.2 296.3,166.7 298.9,163.2 302.4,164.7 305.8,165.4 309.3,167.4" fill="none" stroke="#56B4E9" stroke-width="1.7" stroke-linejoin="round" />
<polyline points="268.8,153.7 270.6,158.1 272.5,160.4 274.3,163.9 276.1,168.5 277.7,172.5 279.2,175.5 280.8,178.4 282.3,182.3 284.4,179.8 286.5,176.5 288.6,172.3 291.2,169.3 293.8,167.2 296.3,163.8 298.9,160 302.4,162 305.8,162.6 309.3,164.5" fill="none" stroke="#56B4E9" stroke-width="1.4" stroke-linejoin="round" />
<polyline points="325.9,192.3 328.7,188.8 331.4,187.1 334.2,184 338.4,181.2 342.5,177.7 345.3,180.2 348,183.2 350.8,186 355,189.3 359.1,192.3 363.2,191.9 367.4,192.3 370.5,195.7 373.6,198.5" fill="none" stroke="#56B4E9" stroke-width="1.7" stroke-linejoin="round" />
<polyline points="325.9,194.5 328.7,191.7 331.4,188.3 334.2,185.6 338.4,184.4 342.5,182.3 345.3,184.7 348,187.1 350.8,188.9 353.6,190.3 356.3,193.6 359.1,195.4 363.2,194.4 367.4,195.1 370.5,199.2 373.6,203.1" fill="none" stroke="#56B4E9" stroke-width="1.4" stroke-linejoin="round" />
<polyline points="391.4,192.8 393.8,189.6 396.1,187.4 398.4,185.1 400.8,182.4 402,178.7 403.3,175.3 404.5,172.3 405.8,169.2 407,165.2 408.2,161.8 409.5,158.4 410.7,155.5 411.7,158.4 412.6,162.4 413.6,165.6 414.5,169.5 415.5,173.6 416.4,176.5 417.4,180.4 418.8,184.5 420.3,188.3 421.8,191.5 423.2,194.5 424.7,198.1 426.1,202.1 427.8,198.6 429.4,195.3 431.1,191.7 432.7,189.7 434.4,185.2 436,181.9 437.7,179.3" fill="none" stroke="#56B4E9" stroke-width="1.7" stroke-linejoin="round" />
<polyline points="391.4,193.4 394.5,190.1 397.7,189.3 400.8,185.9 402,182 403.3,178.3 404.5,174.9 405.8,171.2 407,168.4 408.2,163.5 409.5,159.5 410.7,156.2 411.7,159.2 412.6,164.1 413.6,166 414.5,169.2 415.5,173.6 416.4,176.1 417.4,180.7 418.6,184.7 419.9,186.6 421.1,191.3 422.4,193.5 423.6,198 424.9,201.2 426.1,204.2 428,200.2 430,197.6 431.9,194 433.8,191.4 435.8,186.6 437.7,183.4" fill="none" stroke="#56B4E9" stroke-width="1.4" stroke-linejoin="round" />
<polyline points="455.1,131.6 455.8,127.4 456.4,124 457.1,121.6 457.7,116.6 458.4,113.6 459,109.8 459.7,106 460.3,102.8 460.9,100 461.6,96.3 462.2,92 462.9,88.1 463.6,84.5 464.2,81.9 464.9,77.4 465.5,74.5 468.5,76.9 471.5,78.9 474.5,80.8 477.5,82.8 478.3,86.6 479.1,89.9 479.8,93.6 480.6,96.7 481.4,99.8 482.2,104.4 483,106.7 483.8,111.1 484.5,114.2 485.3,117.1 486.1,121.1 486.9,125.2 487.7,128.9 488.4,131.7 489.2,134.7 490,138.9 492.2,141.2 494.5,143.7 496.8,147.3 499,150.7 501.2,153.1 503.5,155.5" fill="none" stroke="#56B4E9" stroke-width="1.7" stroke-linejoin="round" />
<polyline points="455.1,128.2 455.8,124.3 456.4,122 457.1,116.4 457.7,114 458.4,109.5 459,105.5 459.7,102.6 460.3,99.3 460.9,94.9 461.6,91.8 462.2,88.3 462.9,85 463.6,82.1 464.2,77.1 464.9,74.6 465.5,70.1 468.5,71.8 471.5,74.9 474.5,77.3 477.5,79.3 478.3,83.4 479.1,85.6 479.8,89.6 480.6,93.3 481.4,96.3 482.2,101.2 483,104.7 483.8,106.4 484.5,110.7 485.3,113.8 486.1,117.7 486.9,120.6 487.7,124.7 488.4,127.7 489.2,130.7 490,135.1 492.2,137.1 494.5,141.7 496.8,144.4 499,147.4 501.2,148.7 503.5,152.7" fill="none" stroke="#56B4E9" stroke-width="1.4" stroke-linejoin="round" />
<polyline points="521.1,201.1 522.9,196.7 524.8,194 526.6,189.5 528.4,186.6 530.5,190.1 532.5,193.5 534.6,197 539.8,192.8 541.6,195.3 543.3,199.1 545.1,202.2 546.9,206.3 548.7,209.1 550.4,212.8 552.2,215.6 554.8,213 557.4,209.1 560,206.4 562.6,203.2 566.2,203.5 569.9,204.2" fill="none" stroke="#56B4E9" stroke-width="1.7" stroke-linejoin="round" />
<polyline points="521.1,200.1 522.6,196.1 524,194.6 525.5,189.9 526.9,187.9 528.4,183.8 530.5,187.2 532.5,190.5 534.6,193.9 539.8,190.6 541.6,193.8 543.3,197.6 545.1,200.1 546.9,204.8 548.7,207.6 550.4,212 552.2,214.9 554.8,211.6 557.4,208.3 560,206.5 562.6,202.4 566.2,201.3 569.9,201" fill="none" stroke="#56B4E9" stroke-width="1.4" stroke-linejoin="round" />
<polyline points="587.5,182.4 591,179.6 594.4,177.1 597.9,174.1 599.6,177.7 601.4,180.7 603.1,183 604.8,185.9 606.6,189.3 608.3,192.8 610.4,189.3 612.4,185.7 614.5,182.4 616.2,179.7 617.8,176.6 619.5,173.3 621.1,170.3 622.8,166.9 624.9,171.5 626.9,173.8 629,178.3 635.2,176.2" fill="none" stroke="#56B4E9" stroke-width="1.7" stroke-linejoin="round" />
<polyline points="587.5,183.1 591,179.9 594.4,177.2 597.9,174.5 599.6,176.6 601.4,181.3 603.1,184.5 604.8,186.9 606.6,190.8 608.3,193.5 610.4,190 612.4,186.8 614.5,184.4 616.2,180.5 617.8,177.1 619.5,174.7 621.1,171.5 622.8,167.9 624.3,171.9 625.9,174 627.5,178.9 629,181.8 632.1,180.1 635.2,178.4" fill="none" stroke="#56B4E9" stroke-width="1.4" stroke-linejoin="round" />
<polyline points="654.1,198.9 655,195.2 656,192 656.9,188.4 657.8,184.6 658.7,181.4 659.7,178.4 660.6,175 661.5,171.9 662.4,167.3 663.4,164.9 664.3,161.3 665.2,157.7 666.1,154.7 667.1,149.9 668,147 672.7,145.9 677.4,143.9 681.5,141.4 685.7,137.6 687.8,139.9 689.9,143.5 691.9,146.9 694,149.1 696.8,152.2 699.5,156.5 702.3,159.4 704.9,162.8 707.5,164.8 710.1,167.7" fill="none" stroke="#56B4E9" stroke-width="1.7" stroke-linejoin="round" />
<polyline points="654.1,197.8 655,194.6 656,190.5 656.9,187.5 657.8,183.3 658.7,179.6 659.7,176.3 660.6,172.9 661.5,169.8 662.4,167.3 663.4,163.9 664.3,159.2 665.2,156.6 666.1,151.7 667.1,149.3 668,145.7 672.7,144.5 677.4,142.1 681.5,139.9 685.7,136.3 688.5,139.3 691.2,144.2 694,147.3 696.8,149 699.5,153.2 702.3,155.7 704.9,159.9 707.5,162.1 710.1,166.1" fill="none" stroke="#56B4E9" stroke-width="1.4" stroke-linejoin="round" />
<polyline points="654.1,197.8 655.1,193.7 656.1,190.4 657.1,187.4 658.1,184.2 659.1,179.9 660.1,176.3 661.1,172.9 662.1,169.1 663.1,165.6 664.1,162.7 665.1,159.5 666.1,155.4 667.1,151.6 668.1,148.5 669.1,144.9 673.2,144 677.4,143.6 681.5,142.8 687.7,140.8 689.8,144.6 691.9,147.5 693.9,150.7 696,153.6 698.1,157.4 702.1,158.5 706.1,159.5 710.1,161.5" fill="none" stroke="#56B4E9" stroke-width="1.7" stroke-linejoin="round" />
<polyline points="654.1,200.7 655.1,197.3 656.1,192.6 657.1,190.9 658.1,186.2 659.1,182.3 660.1,179.1 661.1,175.1 662.1,172 663.1,168.9 664.1,165.1 665.1,161.4 666.1,157.7 667.1,154.6 668.1,151.7 669.1,147.6 673.2,147.2 677.4,147.6 681.5,146.7 687.7,144.5 689.8,147.5 691.9,149.7 693.9,152.9 696,157.4 698.1,159.7 702.1,160.9 706.1,161.8 710.1,163.3" fill="none" stroke="#56B4E9" stroke-width="1.4" stroke-linejoin="round" />
<polyline points="729.2,194.7 732.4,191.6 735.5,188.5 739.6,192.2 743.8,194.7 745.5,191.2 747.1,187.8 748.8,184.5 750.4,180.6 752.1,178.1 753.9,174.9 755.6,171.6 757.4,168.3 759.2,165 761,161.8 762.7,158.9 764.5,155.3 768,157.6 771.4,161.6 774.9,163.6 778.4,163.7 781.8,165.6 785.3,165.7 787.4,168.6 789.4,173.1 791.5,175.7 793.6,178.8 795.6,183 797.7,186.4" fill="none" stroke="#56B4E9" stroke-width="1.7" stroke-linejoin="round" />
<polyline points="729.2,193 732.4,190.8 735.5,187.2 739.6,189.6 743.8,189.7 745.9,186.3 748,182.9 750,178.4 752.1,174.4 753.9,170.1 755.6,168.5 757.4,163.3 759.2,159.9 761,158.1 762.7,153.5 764.5,150.5 767.1,153.6 769.7,154.9 772.3,158.1 774.9,161.4 780.1,162.3 785.3,162.3 787.1,164.4 788.8,168.6 790.6,172.7 792.4,174.2 794.2,178.4 795.9,181.6 797.7,184.2" fill="none" stroke="#56B4E9" stroke-width="1.4" stroke-linejoin="round" />
<polyline points="817.4,196.8 819.8,200.1 822.1,203.4 824.4,206.4 826.8,209.2 829.6,205.7 832.3,203.2 835.1,200.9 836.3,204.3 837.6,208.3 838.8,210.4 840.1,214.3 841.3,217.5 843.4,220.6 845.5,225.4 847.5,228.4 849.6,232.1 850.8,235.6 852,239.3 853.2,241.9 854.5,246.3 855.7,249.8 856.9,252.8 857.6,249.6 858.3,245 859.1,241.2 859.8,237.3 860.5,234.8 861.2,230.3 861.9,226.5 862.7,223 863.4,219.5 864.1,215.5 866.7,212.6 869.3,210 871.9,208.1 874.5,205.1 878.6,208.6 882.8,211.3 884.9,206.8 886.9,202.4 889,198.9 890.8,202.7 892.6,205.5 894.5,208.4 896.3,211.3" fill="none" stroke="#56B4E9" stroke-width="1.7" stroke-linejoin="round" />
<polyline points="817.4,200.3 819.8,203.1 822.1,207.9 824.4,210.6 826.8,213.9 829.6,211.8 832.3,209.3 835.1,206 836.6,210.4 838.2,214.5 839.8,218.7 841.3,221.4 843.4,223.6 845.5,227.9 847.5,231.2 849.6,233.6 850.6,237.6 851.7,240.1 852.7,242.9 853.8,247.8 854.8,250.9 855.9,254.8 856.9,257.2 857.6,254.6 858.2,249.6 858.9,247.8 859.5,244.1 860.2,240 860.8,235.6 861.5,233.1 862.1,228.3 862.8,225.4 863.4,221.5 864.1,218.7 866.7,215.7 869.3,211.8 871.9,209.4 874.5,206.8 877.3,209.2 880,212.7 882.8,215.3 884.3,213 885.9,209.2 887.5,206.3 889,202.5 890.8,205.1 892.6,209.2 894.5,212.8 896.3,216" fill="none" stroke="#56B4E9" stroke-width="1.4" stroke-linejoin="round" />
<polyline points="917.9,269.7 919.3,265.8 920.7,263.2 922.1,258.8 923.5,254.8 924.9,251.1 926.3,247.2 927.7,244.9 929.1,240.7 931.3,237.2 933.5,235.6 935.8,231.8 938,229.5 940.2,225.7 942.5,221.8 944.7,218.3 945.6,214.3 946.4,211.2 947.3,208.5 948.1,204.5 949,201.1 949.9,197.7 950.7,193.4 951.6,190.9 952.5,187.6 953.3,183.6 954.2,180.6 955,177.1 955.9,173.6 958.1,177.1 960.4,181.5 962.6,184.8 963.3,188.3 964.1,192 964.8,195.9 965.6,200 966.3,203.3 967.1,207.1 967.8,210.7 968.6,213.8 969.3,218.3 971.1,222.1 972.9,225.9 974.6,228.4 976.4,233.3 978.2,236.2 982.1,239.4 986,242.9 986.9,239 987.8,234.7 988.6,232.5 989.5,228.5 990.4,224.1 991.3,219.8 992.1,217.1 993,213 993.9,209.4 998.3,207.2 999.4,210.1 1000.5,213.2 1001.7,217.1 1002.8,220.6 1005.8,218.3 1008.7,215.3 1011.7,211.6 1013,207.5 1014.4,205.1 1015.7,200.6 1017.1,197.1 1018.4,193.7" fill="none" stroke="#56B4E9" stroke-width="1.7" stroke-linejoin="round" />
<polyline points="917.9,267.1 919.1,263.9 920.4,260.3 921.6,258 922.9,254.5 924.1,250.5 925.4,247.7 926.6,244.4 927.9,239.4 929.1,236.8 932.1,234 935,230.4 938,226.2 940.2,223.8 942.5,219.9 944.7,215.9 945.6,212.3 946.4,208.5 947.3,206 948.1,201.6 949,199.4 949.9,195.6 950.7,192.7 951.6,188.3 952.5,184.7 953.3,182.6 954.2,178.7 955,174.7 955.9,171.5 958.1,174.8 960.4,177.6 962.6,180.9 963.3,185 964.1,188.4 964.8,191.6 965.6,196.8 966.3,200.3 967.1,203.8 967.8,206.4 968.6,210 969.3,214.4 971.1,218.7 972.9,222.6 974.6,226.1 976.4,228.9 978.2,233.3 982.1,236.4 986,238.5 986.9,235.1 987.8,231.3 988.6,228.4 989.5,224.6 990.4,221.6 991.3,218.4 992.1,215.5 993,210.2 993.9,207.6 996.1,204.9 998.3,201.8 999.4,206.8 1000.5,210.2 1001.7,214 1002.8,217.8 1005.8,215.4 1008.7,210.4 1011.7,208.2 1013,205 1014.4,200.8 1015.7,196.9 1017.1,192.5 1018.4,189.1" fill="none" stroke="#56B4E9" stroke-width="1.4" stroke-linejoin="round" />
<polyline points="1043,238.4 1046.7,239.4 1050.5,239.3 1054.2,240.7 1054.9,237 1055.7,232.9 1056.4,230.2 1057.2,226.3 1057.9,222 1058.7,218.8 1059.4,214.5 1060.2,211 1060.9,207.2 1065.3,208.9 1069.8,211.6 1071.6,209.1 1073.4,205.8 1075.2,202.7 1077,198.5 1078.8,196 1082.2,194.3 1085.5,190.7 1088.8,189.4 1092.2,187 1093.7,190.7 1095.1,193.8 1096.6,198.2 1099.3,195.4 1102,193.5 1104.7,190.4 1107.4,187.2 1110.1,184.8 1111.6,181.6 1113.1,177.1 1114.5,174.3 1116,169.8 1117.5,165.5 1119,162.5 1122.3,161 1125.7,158 1128.7,160.3 1131.6,163.5 1134.6,166.9 1136.4,170.7 1138.3,173 1140.2,177 1142,180.9 1143.8,183.8 1145.7,187 1150.2,187.9 1154.7,189.3 1158.7,188.6 1162.6,187" fill="none" stroke="#56B4E9" stroke-width="1.7" stroke-linejoin="round" />
<polyline points="1043,236.2 1046.7,236.5 1050.5,237.8 1054.2,237.3 1054.9,234.3 1055.7,229.3 1056.4,226.9 1057.2,222.4 1057.9,218.3 1058.7,214.2 1059.4,212 1060.2,208 1060.9,204.2 1063.9,206 1066.8,209.4 1069.8,210.9 1071.6,207.1 1073.4,204.5 1075.2,200.6 1077,198 1078.8,195.2 1081.5,193.5 1084.2,190.1 1086.8,186.7 1089.5,184.3 1092.2,182.3 1093.7,186.7 1095.1,189.8 1096.6,194.3 1099.3,192.5 1102,188 1104.7,187.2 1107.4,184 1110.1,181 1111.6,178.4 1113.1,174 1114.5,170.1 1116,167 1117.5,164.6 1119,161 1122.3,156.5 1125.7,154.1 1128.7,156.2 1131.6,160.6 1134.6,162.9 1136.2,167 1137.8,170.1 1139.4,173.3 1140.9,175.9 1142.5,179.8 1144.1,182.6 1145.7,185.4 1150.2,185.5 1154.7,185.3 1158.7,185.6 1162.6,186.3" fill="none" stroke="#56B4E9" stroke-width="1.4" stroke-linejoin="round" />
<polyline points="139.6,206.8 141.6,202.4 143.6,198.9 145.5,195.5 147.5,192.3 151.6,196.4 154.9,194.8 158.2,193.3" fill="none" stroke="#E69F00" stroke-width="1.7" stroke-linejoin="round" />
<polyline points="139.6,205.9 141.6,202.4 143.6,199 145.5,194.4 147.5,190.5 151.6,194.5 154.9,191.2 158.2,189.6" fill="none" stroke="#E69F00" stroke-width="1.4" stroke-linejoin="round" />
<polyline points="173.4,173.6 176.5,175.6 179.6,177.7 181.4,181.4 183.2,184.6 185.1,187.8 186.9,190.2 188.3,192.9 189.7,196.9 191.1,201.1 192.4,204.1 193.8,208 195.2,210.9 196.8,213.5 198.5,216.5 200.2,220.2 201.8,223.4" fill="none" stroke="#E69F00" stroke-width="1.7" stroke-linejoin="round" />
<polyline points="173.4,172.9 176.5,174.5 179.6,177 181.4,181 183.2,182.7 185.1,187.6 186.9,190 188.6,194 190.2,196.6 191.9,202.3 193.5,204.6 195.2,208.8 196.8,211.2 198.5,215 200.2,217.8 201.8,222.2" fill="none" stroke="#E69F00" stroke-width="1.4" stroke-linejoin="round" />
<polyline points="217.6,200.6 220.9,202.3 224.2,204.7 227.3,200.9 230.4,196.4 231.7,193.9 232.9,190 234.2,187 235.4,183.6 236.7,179.8 238.4,183.5 240,186.3 241.7,189.4 243.3,192.5 245,196.4 247.1,193.4 249.1,190.2 253.3,188.1" fill="none" stroke="#E69F00" stroke-width="1.7" stroke-linejoin="round" />
<polyline points="217.6,196.1 220.9,199.7 224.2,203 226.3,199.6 228.3,196.2 230.4,192.8 232,188.2 233.6,185 235.1,180.7 236.7,178 238.8,182.6 240.8,186.1 242.9,189.4 245,193.1 247.1,189.6 249.1,187 253.3,183.6" fill="none" stroke="#E69F00" stroke-width="1.4" stroke-linejoin="round" />
<polyline points="268.8,148.7 269.9,151.6 271.1,154.9 272.2,159 273.4,161.8 274.6,166 275.7,168.8 276.9,171.6 278,175.6 279.2,179.3 280.3,181.9 283.4,185.5 286.5,190.2 290.6,190.5 294.8,190.2 301,189.1 305.2,192.3 306.6,196 307.9,199.3 309.3,202.6" fill="none" stroke="#E69F00" stroke-width="1.7" stroke-linejoin="round" />
<polyline points="268.8,148.8 270.1,153.2 271.4,155.7 272.6,159.7 273.9,162 275.2,166.3 276.5,169.5 277.7,173.2 279,177 280.3,179.5 282.4,181.8 284.4,187 286.5,189.2 290.6,189.2 294.8,188.7 301,186.8 305.2,190.2 306.6,193.3 307.9,197.3 309.3,201" fill="none" stroke="#E69F00" stroke-width="1.4" stroke-linejoin="round" />
<polyline points="325.9,210.9 327.6,206.5 329.2,203 330.9,200.3 332.5,196.4 334.2,192.3 337.3,194.9 340.4,196.4 342.1,192.1 343.7,188.3 345.4,185 347,181.4 348.7,177.7 351.9,180.1 355,181.9 359.1,183.6 363.3,186 365.4,189.8 367.4,193.1 369.5,196.4 370.9,200.2 372.2,205.2 373.6,208.9" fill="none" stroke="#E69F00" stroke-width="1.7" stroke-linejoin="round" />
<polyline points="325.9,210.7 327.6,205.8 329.2,203.5 330.9,198.9 332.5,196.1 334.2,191.4 340.4,192.8 342.1,189.2 343.7,185.3 345.4,183.2 347,179.4 348.7,175.6 351.9,177.9 355,179.7 359.1,181.7 363.3,185.4 365.4,189.1 367.4,193.4 369.5,196.1 370.9,200.6 372.2,204.2 373.6,206.8" fill="none" stroke="#E69F00" stroke-width="1.4" stroke-linejoin="round" />
<polyline points="391.4,214.6 395.5,214.1 399.7,212.6 403.9,211.2 408,211.1 410.6,214.2 413.2,217.7 414.6,220.8 416,225.8 417.4,228.7 418.7,232.6 420.1,235.9 421.5,240.5 423.4,243.4 425.4,247.1 427.3,250.5 429.2,253.6 431.1,256.8 433.1,258.4 435,262.3 436.4,257.2 437.7,253" fill="none" stroke="#E69F00" stroke-width="1.7" stroke-linejoin="round" />
<polyline points="391.4,215.5 395.5,216.1 399.7,214.1 403.9,214.4 408,214.3 413.2,218.4 414.4,221.4 415.6,226.4 416.8,228.7 417.9,232.4 419.1,236.2 420.3,241.6 421.5,244.6 423.8,247.3 426,250.7 428.2,254.2 430.5,257.7 432.8,260.7 435,264.2 436.4,261.7 437.7,257.4" fill="none" stroke="#E69F00" stroke-width="1.4" stroke-linejoin="round" />
<polyline points="391.4,215.6 395.2,214.7 399,214.2 402.8,213.6 407,216.2 411.1,217.7 412.5,220.8 413.9,224.1 415.2,228.6 416.6,231.3 418,235.7 419.4,238.5 421.5,242 423.7,244.2 425.8,247.1 428,249.7 430.1,253.9 432.3,256.2 434.4,259.2 437.1,254" fill="none" stroke="#E69F00" stroke-width="1.7" stroke-linejoin="round" />
<polyline points="391.4,218.2 395.2,216.7 399,215.3 402.8,215.1 405.6,216.7 408.3,219.3 411.1,222.7 412.8,225.5 414.4,231.1 416.1,233.4 417.7,237.4 419.4,241.6 421.5,244.7 423.7,246.6 425.8,251.2 428,253.5 430.1,256.5 432.3,258.8 434.4,261.6 437.1,257" fill="none" stroke="#E69F00" stroke-width="1.4" stroke-linejoin="round" />
<polyline points="455.1,220.8 458.4,223.6 461.8,226.2 465.1,228.1 467.9,224.1 470.6,221.4 473.4,217.7 474.2,213.9 474.9,211.4 475.7,206.8 476.5,204 477.3,199.7 478.1,197 478.8,192.8 479.6,189.7 485.8,192.8 486.9,195.9 487.9,199.4 489,203 490,207.5 491.1,209.9 492.1,213.6 495,211.1 497.8,208.1 500.6,205.9 503.5,203.2" fill="none" stroke="#E69F00" stroke-width="1.7" stroke-linejoin="round" />
<polyline points="455.1,218.4 458.4,219.5 461.8,222.8 465.1,223.7 467.9,220.6 470.6,217.2 473.4,215.2 474.2,212.7 474.9,208.1 475.7,205 476.5,200.7 477.3,196.7 478.1,193.5 478.8,191.1 479.6,186.8 485.8,189.5 486.9,192.5 487.9,197.5 489,199.7 490,204.5 491.1,206.4 492.1,210.6 495,207.7 497.8,204.1 500.6,201.3 503.5,199.2" fill="none" stroke="#E69F00" stroke-width="1.4" stroke-linejoin="round" />
<polyline points="455.1,223.9 460.1,225 465.1,226 466.6,222.3 468,219 469.5,215 470.9,211.6 472.4,208.1 473.8,205.5 475.2,200.6 476.7,197.6 478.2,194.8 479.6,190.7 483.8,190.7 485.5,194.6 487.1,197.8 488.8,202.7 490.4,205 492.1,209.4 495.9,208.5 499.7,208 503.5,208.4" fill="none" stroke="#E69F00" stroke-width="1.7" stroke-linejoin="round" />
<polyline points="455.1,225.2 460.1,225.9 465.1,226.9 466.6,224 468,220.9 469.5,217 470.9,212.3 472.4,209.6 473.8,205.6 475.2,202.3 476.7,199.1 478.2,196.8 479.6,192.3 483.8,193.7 485.2,196.7 486.6,199 488,204.1 489.3,206.7 490.7,209.3 492.1,213 495.9,212.6 499.7,209.5 503.5,208.9" fill="none" stroke="#E69F00" stroke-width="1.4" stroke-linejoin="round" />
<polyline points="521.1,210 525.2,211 529.4,211 531.1,207 532.7,205 534.4,200.9 536,198.7 537.7,195 539.1,198.8 540.5,201.7 541.9,205.2 543.2,209.5 544.6,213.6 546,217 548.5,220 551,223 553.5,225.3 556,229.4 558.5,232 559.7,228.6 561,224.8 562.2,220.4 563.5,217.7 564.7,214 567.3,216.6 569.9,219" fill="none" stroke="#E69F00" stroke-width="1.7" stroke-linejoin="round" />
<polyline points="521.1,213.3 525.2,213.4 529.4,214.3 531.1,210.2 532.7,208.8 534.4,204.4 536,201.9 537.7,198.7 539.1,202 540.5,206.3 541.9,208.7 543.2,213.5 544.6,216.2 546,220.7 548.5,224.5 551,225.4 553.5,229 556,231.4 558.5,234.7 559.7,231.2 561,227.8 562.2,223.9 563.5,220.6 564.7,217.4 569.9,220.4" fill="none" stroke="#E69F00" stroke-width="1.4" stroke-linejoin="round" />
<polyline points="587.5,197 591.6,199.6 595.8,203 599.4,204.3 603,207.3 606.7,208 610.3,210 613.1,208.3 615.8,205.3 618.6,203 620.2,199 621.8,194.2 623.3,190 624.9,186.7 627,191.4 629,196 630.5,192.4 632.1,188.2 633.7,184.9 635.2,181" fill="none" stroke="#E69F00" stroke-width="1.7" stroke-linejoin="round" />
<polyline points="587.5,199.4 591.6,202.6 595.8,205.4 599.4,206.7 603,209.1 606.7,210.7 610.3,213.7 613.1,212.3 615.8,208.8 618.6,206.3 620.2,203 621.8,198.1 623.3,195.8 624.9,190.9 627,195.2 629,198.6 630.5,193.4 632.1,189.4 633.7,186.3 635.2,182.3" fill="none" stroke="#E69F00" stroke-width="1.4" stroke-linejoin="round" />
<polyline points="654.1,215.5 658.7,213.4 659.5,209.5 660.2,206.5 661,203.2 661.7,199 662.5,194.9 663.2,192 664,187.7 664.7,185.3 665.5,180.6 666.2,177 667,174 669.4,170.7 671.8,167.4 674.2,163.6 676.6,166.5 679.1,168.6 681.5,171.9 684.1,174.5 686.7,178.1 690.8,175 692,178.6 693.2,182.9 694.4,186.8 695.5,189.8 696.7,194.1 697.9,197.5 699.1,200.9 701.7,197.5 704.3,194.7 710.1,194.7" fill="none" stroke="#E69F00" stroke-width="1.7" stroke-linejoin="round" />
<polyline points="654.1,219.1 658.7,217 659.5,212.9 660.2,209 661,206.3 661.7,202.4 662.5,199.2 663.2,194.3 664,192.3 664.7,187.7 665.5,184.1 666.2,181.1 667,177 669.4,173.5 671.8,169.5 674.2,165.9 676.6,168.5 679.1,171.8 681.5,174.9 686.7,179.1 690.8,178.4 692,180.7 693.2,184.5 694.4,189.1 695.5,190.8 696.7,194.1 697.9,199.1 699.1,201.6 704.3,198.5 710.1,197.4" fill="none" stroke="#E69F00" stroke-width="1.4" stroke-linejoin="round" />
<polyline points="729.2,209.2 732.7,211.1 736.1,213.4 739.6,215.5 741.1,212.1 742.6,208.7 744.1,204.5 745.5,201.7 747,196.9 748.5,194.7 750,190.6 756.2,188.5 758.3,192.3 760.4,196.8 763.5,192.9 766.6,188.5 768.7,191.3 770.8,195.1 772.8,197.6 774.9,200.9 777.5,203.7 780.1,205.8 782.7,209.2 785.3,211.3 787,208.4 788.6,204.2 790.3,201.8 791.9,198.7 793.6,194.7 797.7,198.9" fill="none" stroke="#E69F00" stroke-width="1.7" stroke-linejoin="round" />
<polyline points="729.2,206 732.7,209.2 736.1,211.8 739.6,213.5 740.9,209.9 742.2,206.4 743.5,203.2 744.8,199.3 746.1,196.4 747.4,193.9 748.7,188.7 750,186.2 756.2,187.3 760.4,191.9 763.5,188.4 766.6,186.2 768.7,189 770.8,191.3 772.8,195.4 774.9,198.6 778.4,202.5 781.8,205.8 785.3,207.9 787,205.1 788.6,202.1 790.3,197.5 791.9,194.4 793.6,192.1 797.7,194.2" fill="none" stroke="#E69F00" stroke-width="1.4" stroke-linejoin="round" />
<polyline points="817.4,190.6 819.3,193.9 821.2,197.2 823,200.8 824.9,203.6 826.8,207.2 830.2,210.1 833.7,212.1 837.1,215.5 838.3,219.2 839.5,222.8 840.7,225.9 841.8,230.4 843,233.6 844.2,236.9 845.4,240.4 846.8,244.2 848.2,247.2 849.6,250.7 851,253.9 852.3,256.5 853.7,259.8 855.1,262.8 856.5,266.2 857.9,269.4 860.5,266.2 863.1,262.5 865.7,260.8 868.3,257 870.4,253.2 872.4,249.8 874.5,246.6 878.6,248.2 882.8,248.7 884.9,245.3 887,242.6 889,238.7 891.1,236.2 896.3,233.1" fill="none" stroke="#E69F00" stroke-width="1.7" stroke-linejoin="round" />
<polyline points="817.4,191.7 819.3,196 821.2,198.6 823,203.6 824.9,207.4 826.8,210.2 830.2,212.6 833.7,213.9 837.1,217.4 838.3,219.9 839.5,224.7 840.7,228.3 841.8,231.4 843,234.3 844.2,237.8 845.4,241.1 846.8,243.5 848.2,247.9 849.6,252.1 851,253.7 852.3,257.9 853.7,261.7 855.1,264.6 856.5,267.2 857.9,270.9 860.5,267.4 863.1,265.6 865.7,263.2 868.3,259.3 870.4,256.4 872.4,251.7 874.5,248.1 878.6,250.2 882.8,251.1 884.9,248.9 887,245.1 889,243.1 891.1,239.6 896.3,235.7" fill="none" stroke="#E69F00" stroke-width="1.4" stroke-linejoin="round" />
<polyline points="917.9,276.4 919,272.9 920.1,269.2 921.2,265.6 922.4,263.4 923.5,260.1 924.6,256.3 929.1,258.5 932.5,255.6 935.8,254.1 937.5,249.5 939.1,246 940.8,241.9 942.5,238.4 943.6,235.4 944.7,231.2 945.9,228.5 947,225.1 948.1,221.4 949.2,218.3 950.3,215.2 951.4,210.8 952.5,207.2 953.7,203.7 954.8,199.6 955.9,196 959.2,194.3 962.6,193.7 963.6,198.3 964.5,201.8 965.5,205.3 966.4,209.1 967.4,213.1 968.3,216.4 969.3,220.6 971.5,222.9 973.8,226.6 976,229.5 979.7,232.4 983.5,233.3 987.2,236.2 989.4,234.2 991.7,230.4 993.9,228.6 996.1,225 999.8,225.4 1003.6,224.6 1007.3,225 1008.7,221.2 1010.1,218.9 1011.5,215.7 1012.8,212.1 1014.2,208.4 1015.6,205 1017,202 1018.4,198.2" fill="none" stroke="#E69F00" stroke-width="1.7" stroke-linejoin="round" />
<polyline points="917.9,279.3 919.2,274.8 920.6,270.8 921.9,267.9 923.3,265.1 924.6,260.7 929.1,259.5 935.8,258.6 937.1,255.6 938.5,251.5 939.8,247.4 941.2,244.6 942.5,240.3 943.8,236.2 945.2,234 946.5,229.7 947.9,225.4 949.2,223 950.2,219 951.1,216.4 952.1,211.9 953,209.4 954,205.7 954.9,200.9 955.9,198.4 962.6,197.1 963.6,200.5 964.5,204.8 965.5,209.2 966.4,211.2 967.4,216.1 968.3,220.1 969.3,223.3 971.5,225.8 973.8,230.6 976,232.7 979.7,235.5 983.5,235.6 987.2,238.4 989.4,236.4 991.7,232.2 993.9,230.5 996.1,227.1 999.8,228 1003.6,226.3 1007.3,227.4 1008.7,223.4 1010.1,220.8 1011.5,216.9 1012.8,214.8 1014.2,210.5 1015.6,205.8 1017,203.2 1018.4,199.9" fill="none" stroke="#E69F00" stroke-width="1.4" stroke-linejoin="round" />
<polyline points="1043,242.9 1045.2,245.9 1047.5,249.2 1049.7,253.2 1051.9,257 1054.2,259.9 1056.4,263 1059.1,260.9 1061.8,257.9 1064.4,254.9 1067.1,252.7 1069.8,249.6 1071.6,247 1073.4,243.9 1075.2,240 1077,237 1078.8,234 1080.6,230.7 1082.4,227.6 1084.1,224.7 1085.9,220.8 1087.7,218.3 1090.4,215.3 1093.1,212.8 1095.7,208.2 1098.4,206.3 1101.1,202.7 1103.3,198.9 1105.6,195.3 1107.8,193.3 1110,190 1112.3,185.4 1114.5,182.6 1116.4,179.6 1118.2,177.4 1120.1,173.8 1122,170.9 1123.8,167.1 1125.7,164.7 1128.7,167.9 1131.6,170.1 1134.6,173.6 1137.4,177.5 1140.2,180.5 1142.9,184.2 1145.7,187 1148.7,188.5 1151.7,191.1 1154.7,193.7 1158.7,191 1162.6,187" fill="none" stroke="#E69F00" stroke-width="1.7" stroke-linejoin="round" />
<polyline points="1043,238.7 1044.9,242.5 1046.8,245.3 1048.7,247.9 1050.7,252.7 1052.6,255.4 1054.5,259.4 1056.4,261.7 1059.1,258 1061.8,255 1064.4,252.8 1067.1,248.7 1069.8,246.4 1071.6,243.9 1073.4,239.1 1075.2,235.6 1077,232.8 1078.8,230 1081,228 1083.2,223.9 1085.5,222 1087.7,218 1089.9,216 1092.2,211.2 1094.4,209.3 1096.6,206.7 1098.9,202.9 1101.1,199.6 1103.3,196.4 1105.6,192.6 1107.8,190.4 1110,186.6 1112.3,182.7 1114.5,179.7 1116.7,175.2 1119,173.1 1121.2,168.3 1123.5,166.2 1125.7,162.4 1128.7,165.2 1131.6,169.1 1134.6,171.4 1136.8,173.3 1139,176.4 1141.3,179.2 1143.5,182.5 1145.7,185.6 1150.2,186.8 1154.7,189.9 1158.7,187.7 1162.6,183.6" fill="none" stroke="#E69F00" stroke-width="1.4" stroke-linejoin="round" />
<polyline points="139.6,211 142.2,207.7 144.9,205 147.5,202.6 150.2,200.8 152.8,196.8 155.5,195.4 158.2,192.3" fill="none" stroke="#D55E00" stroke-width="1.7" stroke-linejoin="round" />
<polyline points="139.6,210 142.2,207.4 144.9,204.5 147.5,201.6 150.2,199.4 152.8,196.5 155.5,192.9 158.2,190.6" fill="none" stroke="#D55E00" stroke-width="1.4" stroke-linejoin="round" />
<polyline points="173.4,178.8 176.5,181.9 182.7,184 184.8,187.9 186.8,191.6 188.9,194.8 191,198.5 192.6,202.8 194.2,205.5 195.7,209.5 197.3,213 201.8,215.1" fill="none" stroke="#D55E00" stroke-width="1.7" stroke-linejoin="round" />
<polyline points="173.4,174.8 176.5,179.9 182.7,179.8 184.4,183.8 186,187.3 187.7,188.9 189.3,193.6 191,195.9 192.6,199.4 194.2,203 195.7,205.5 197.3,210.1 201.8,213.2" fill="none" stroke="#D55E00" stroke-width="1.4" stroke-linejoin="round" />
<polyline points="217.6,204.7 219.8,208.7 222,211.2 224.2,215.1 225.8,211.1 227.3,207.5 228.9,203.8 230.5,200.6 231.5,196.4 232.6,192.6 233.6,189.2 234.6,185.1 235.7,181.9 236.7,177.7 238.8,181.9 240.8,185.3 242.9,188.1 248.1,186 253.3,184" fill="none" stroke="#D55E00" stroke-width="1.7" stroke-linejoin="round" />
<polyline points="217.6,206.6 219.8,208.9 222,212.8 224.2,216.6 225.8,212.7 227.3,210.7 228.9,206.3 230.5,203 231.5,200.2 232.6,194.8 233.6,193 234.6,187.6 235.7,184.8 236.7,180.9 238.8,183.6 240.8,187.8 242.9,190.1 248.1,189.4 253.3,185.2" fill="none" stroke="#D55E00" stroke-width="1.4" stroke-linejoin="round" />
<polyline points="268.8,144.5 270.3,148.6 271.7,152.2 273.2,155.4 274.6,159.9 276.1,163.2 277.1,166.5 278.2,170 279.2,174.4 280.2,177.7 281.3,182.7 282.3,186 283.9,190.2 285.5,193 287,196.7 288.6,200.6 291.7,198.9 294.8,196.4 301,198.5 303.1,202.8 305.1,205.8 307.2,209.7 309.3,213" fill="none" stroke="#D55E00" stroke-width="1.7" stroke-linejoin="round" />
<polyline points="268.8,140.8 270.3,145 271.7,148 273.2,152.3 274.6,155.8 276.1,159.1 277,162.2 277.9,165.3 278.8,169.2 279.6,173.4 280.5,176.9 281.4,179.4 282.3,183.2 283.9,187.2 285.5,190 287,195 288.6,198.7 291.7,196.4 294.8,194.3 301,196.3 302.7,200 304.3,203.3 306,204.6 307.6,209.7 309.3,211.8" fill="none" stroke="#D55E00" stroke-width="1.4" stroke-linejoin="round" />
<polyline points="325.9,215.1 327.6,210.8 329.2,208.4 330.9,204.7 332.5,199.7 334.2,196.4 337,193.3 339.7,190.3 342.5,188.1 343.9,185.3 345.3,181.6 346.6,178.5 348,174.8 349.4,170.6 350.8,167.4 352.9,172 354.9,175.4 357,179.8 359.1,183 361.2,186.6 363.3,190.2 364.4,194.2 365.6,197.3 366.7,201.4 367.9,205.1 369,209.1 370.2,212.3 371.3,215.9 372.5,219.8 373.6,223.4" fill="none" stroke="#D55E00" stroke-width="1.7" stroke-linejoin="round" />
<polyline points="325.9,218.7 327.6,215.8 329.2,211 330.9,208 332.5,202.9 334.2,200 337,196.5 339.7,195.1 342.5,192 343.9,189.4 345.3,184.5 346.6,181.6 348,177.5 349.4,175.1 350.8,170.5 352.4,174.6 353.9,177.7 355.4,180.5 357,183.7 360.1,186.3 363.3,190.9 364.3,194.6 365.4,197.4 366.4,201.3 367.4,203.9 368.5,208.3 369.5,212.3 370.5,215.9 371.5,218.6 372.6,221.2 373.6,225.4" fill="none" stroke="#D55E00" stroke-width="1.4" stroke-linejoin="round" />
<polyline points="325.9,213 327.6,210.2 329.4,206 331.1,201.9 332.8,199.7 334.6,196.1 336.3,192.3 339.1,188.5 341.8,185.6 344.6,181.9 348.8,179.2 352.9,177.7 356,180.6 359.1,184 361.2,186.9 363.2,190.7 365.3,194.9 367.4,198.5 368.4,201.8 369.5,205.5 370.5,209.5 371.5,213.1 372.6,215.5 373.6,219.2" fill="none" stroke="#D55E00" stroke-width="1.7" stroke-linejoin="round" />
<polyline points="325.9,214.4 327.6,211.3 329.4,206.9 331.1,204.5 332.8,200.5 334.6,198.2 336.3,195.1 338.4,191.5 340.5,188.7 342.5,185.9 344.6,183.4 348.8,181.1 352.9,180.3 356,182 359.1,184.6 360.8,188.1 362.4,190.8 364.1,195.3 365.7,199.6 367.4,202.2 368.6,206.5 369.9,210.9 371.1,212.9 372.4,218 373.6,221.6" fill="none" stroke="#D55E00" stroke-width="1.4" stroke-linejoin="round" />
<polyline points="391.4,219.8 395,219.9 398.7,220.8 400.8,224.4 402.8,226.7 404.9,230 407,233 409,235 411.1,238.5 412.8,241.6 414.4,246.4 416.1,250.2 417.7,253.3 419.4,257.1 420.8,259.8 422.2,263.3 423.6,268 425,271.3 426.3,274.2 427.7,278.2 429.1,281.9 430.5,284 431.9,288.3 434.8,285 437.7,281" fill="none" stroke="#D55E00" stroke-width="1.7" stroke-linejoin="round" />
<polyline points="391.4,222.8 395,222.7 398.7,224.5 401.2,226.9 403.7,230.6 406.1,234.9 408.6,237 411.1,240.2 412.5,244.6 413.9,246.6 415.2,250.3 416.6,253.9 418,257.5 419.4,261.5 420.8,265.6 422.2,268.1 423.6,271.4 425,275.6 426.3,278.5 427.7,282.8 429.1,285.8 430.5,289.5 431.9,292.2 434.8,287.9 437.7,283.9" fill="none" stroke="#D55E00" stroke-width="1.4" stroke-linejoin="round" />
<polyline points="391.4,222 395.7,221.8 400,222 402,224.9 404,228.8 406,231.7 408,234.1 410,237 412,240 413.5,243 415,247.9 416.5,251.2 418,254.5 419.5,257.8 421,262 422.4,265.5 423.8,269.3 425.1,272.1 426.5,275.6 427.9,279.5 429.2,283 430.6,285.7 432,290 434.9,285.8 437.7,283" fill="none" stroke="#D55E00" stroke-width="1.7" stroke-linejoin="round" />
<polyline points="391.4,225 395.7,224.8 400,223.2 402,227.2 404,229.9 406,233.8 408,237 410,239.9 412,242.8 413.5,247 415,249 416.5,252.1 418,257.3 419.5,260.7 421,263.3 422.2,266.6 423.4,270.1 424.7,272.5 425.9,276.9 427.1,280.6 428.3,284.3 429.6,286.5 430.8,290.5 432,293.2 433.9,291.1 435.8,287.6 437.7,284.1" fill="none" stroke="#D55E00" stroke-width="1.4" stroke-linejoin="round" />
<polyline points="455.1,246.8 456.5,249.8 457.9,253.7 459.2,257.5 460.6,261.3 462,264.6 463.4,268.2 464.7,272.2 466.1,275.8 467.3,272.1 468.5,269.2 469.6,264.8 470.8,261.5 472,257.1 473.1,253.6 474.3,250.3 475.5,246.8 476.5,242.6 477.6,239.2 478.6,236.4 479.6,233.2 480.7,229.5 481.7,225.4 482.7,222.4 483.8,218.4 484.8,215.6 485.8,219.5 486.9,222 487.9,225.6 489,229.3 490,232.6 491.1,236.4 492.1,240.5 493.7,236.7 495.2,233 496.8,229.9 498.3,226 503.5,228.1" fill="none" stroke="#D55E00" stroke-width="1.7" stroke-linejoin="round" />
<polyline points="455.1,245.8 456.5,249.9 457.9,251.7 459.2,254.9 460.6,259.2 462,262.6 463.4,265.3 464.7,269.3 466.1,272.9 467.3,270 468.5,266.7 469.6,263.3 470.8,259.5 472,254.4 473.1,251.5 474.3,248.1 475.5,244.7 476.5,240.1 477.6,238.1 478.6,233.4 479.6,230.9 480.7,227 481.7,222.5 482.7,219 483.8,215.6 484.8,212.1 485.7,214.9 486.6,217.9 487.5,222.2 488.5,225.2 489.4,228.7 490.3,233.2 491.2,236.6 492.1,239.5 493.3,236 494.6,231.8 495.8,230.2 497.1,225.8 498.3,223 503.5,225.2" fill="none" stroke="#D55E00" stroke-width="1.4" stroke-linejoin="round" />
<polyline points="455.1,249 456.7,251.8 458.2,256.3 459.8,259.9 461.4,262.3 463,266.2 464.5,270.2 466.1,273 467.3,269.4 468.6,265.5 469.8,261.6 471.1,257.7 472.3,255.5 473.5,251.7 474.8,247.1 476,244 477.4,240.5 478.7,236.1 480.1,233.3 481.4,228.9 482.8,225.7 484.1,221.8 485.5,218 486.9,221.1 488.3,225.7 489.7,229.6 491.1,232.5 492.5,237 495.4,232.3 498.3,229 503.5,226" fill="none" stroke="#D55E00" stroke-width="1.7" stroke-linejoin="round" />
<polyline points="455.1,252.5 456.7,255.4 458.2,259.6 459.8,263.5 461.4,265.2 463,269 464.5,272.9 466.1,275.8 467.2,271.5 468.3,269.8 469.4,266.4 470.5,263 471.6,259.7 472.7,255.4 473.8,251.3 474.9,249.5 476,245.3 477.4,242.2 478.7,238.1 480.1,234.2 481.4,231.6 482.8,227.2 484.1,223.1 485.5,219.7 486.7,223.4 487.8,226.1 489,229.5 490.2,233 491.3,237 492.5,240.5 495.4,236.6 498.3,231.8 503.5,227.7" fill="none" stroke="#D55E00" stroke-width="1.4" stroke-linejoin="round" />
<polyline points="521.1,213.6 525.2,214.4 529.4,213.6 530.8,210.1 532.2,206.2 533.5,204 534.9,199.3 536.3,195.5 537.7,192.8 538.7,195.8 539.8,199.8 540.8,204.2 541.9,207.7 542.9,211.1 543.9,214.3 545,218.2 546,221.9 548.5,225.6 551,229.1 553.5,231.3 556,235.6 558.5,238.5 559.5,235.2 560.6,232.1 561.6,227.3 562.6,224.9 563.7,221.1 564.7,217.7 567.3,221 569.9,223.9" fill="none" stroke="#D55E00" stroke-width="1.7" stroke-linejoin="round" />
<polyline points="521.1,212.4 525.2,210.5 529.4,210.5 531.1,206 532.7,203 534.4,198.8 536,194.4 537.7,191.6 538.7,195.7 539.8,197.9 540.8,202.6 541.9,204.8 542.9,207.7 543.9,211.6 545,215.9 546,218.5 548.5,222.8 551,225.4 553.5,228.1 556,232 558.5,235.3 559.7,231 561,227.5 562.2,222.9 563.5,219.2 564.7,216.5 567.3,219.9 569.9,221.4" fill="none" stroke="#D55E00" stroke-width="1.4" stroke-linejoin="round" />
<polyline points="587.5,194.9 591.6,198.4 595.8,201.1 598.7,203.2 601.6,206.3 604.5,207.9 607.4,211.6 610.3,213.6 613.1,211 615.8,208.4 618.6,205.3 619.9,201.9 621.1,198.6 622.4,195.8 623.6,191.7 624.9,188.7 626.3,192.2 627.6,196.4 629,201.1 630.2,198.4 631.5,194.1 632.7,190.4 634,187.9 635.2,184.5" fill="none" stroke="#D55E00" stroke-width="1.7" stroke-linejoin="round" />
<polyline points="587.5,193.4 591.6,194.9 595.8,198.3 598.7,200.9 601.6,203.8 604.5,206.8 607.4,208.3 610.3,211.4 613.1,208.1 615.8,205.1 618.6,201.9 619.9,198.2 621.1,195.3 622.4,190.9 623.6,188.5 624.9,185.1 626.3,190 627.6,194.2 629,197.7 630.5,193.4 632.1,188.7 633.7,186.5 635.2,181.8" fill="none" stroke="#D55E00" stroke-width="1.4" stroke-linejoin="round" />
<polyline points="654.1,211.3 658.7,215.5 659.5,212.3 660.3,207.8 661.1,204.7 661.9,201 662.7,198.4 663.5,194.1 664.3,191.2 665.1,187.1 665.9,183.6 666.7,180.4 667.5,177.3 668.3,173.6 669.1,169.8 671.7,167.9 674.2,164.6 676,167.4 677.9,171.7 679.7,174.1 681.5,178.1 683.2,182.9 685,186.2 686.7,190.6 687.7,187.3 688.8,182.8 689.8,180.4 690.9,176 691.9,172.9 692.6,176.1 693.2,180.6 693.9,184.1 694.5,187.5 695.2,190.2 695.8,193.8 696.5,197.4 697.1,201.4 697.8,204.5 698.4,208.6 699.1,212.3 701.5,209.9 704,206.3 706.4,203 710.1,208.2" fill="none" stroke="#D55E00" stroke-width="1.7" stroke-linejoin="round" />
<polyline points="654.1,214.6 656.4,218 658.7,220.7 659.5,217.5 660.3,212.6 661.1,209.3 661.9,205.9 662.7,203.6 663.5,200.2 664.3,196.3 665.1,192.6 665.9,189 666.7,183.7 667.5,180 668.3,176.5 669.1,173.9 674.2,169.4 676,173.1 677.9,175.5 679.7,178.5 681.5,182.6 683.2,185 685,189.5 686.7,192.7 688,189.6 689.3,185.9 690.6,181.3 691.9,177.5 692.6,181.6 693.2,184.9 693.9,188.4 694.5,191.7 695.2,194.7 695.8,199.3 696.5,202.6 697.1,205.6 697.8,209.3 698.4,213.5 699.1,217.6 701.5,213.9 704,209.8 706.4,207 710.1,210.1" fill="none" stroke="#D55E00" stroke-width="1.4" stroke-linejoin="round" />
<polyline points="729.2,226.9 731.3,223.7 733.4,219.7 735.5,215.5 736.9,218.6 738.2,222.8 739.6,225.8 740.8,221.6 741.9,218.5 743.1,214.5 744.2,210.4 745.4,207.3 746.5,203.1 747.7,200.2 748.8,197 750,192.6 754.1,192.4 758.3,190.6 759.3,193.6 760.4,198.2 761.4,202.8 762.4,206.1 763.5,209.5 764.5,213.4 765.5,209.7 766.6,205.6 767.7,203.1 768.7,198.9 769.9,202.2 771.2,204.9 772.4,209.2 773.7,212.9 774.9,215.5 778,218.1 781.1,220.4 784.2,221 787.3,223.8 788.9,220 790.5,216.4 792,212.2 793.6,209.2 797.7,211.3" fill="none" stroke="#D55E00" stroke-width="1.7" stroke-linejoin="round" />
<polyline points="729.2,223 731.3,219 733.4,215.2 735.5,212.5 736.9,215.5 738.2,218.9 739.6,223.1 740.8,218.4 741.9,215.1 743.1,212.9 744.2,207.9 745.4,204.6 746.5,200.8 747.7,198.2 748.8,194.5 750,190.1 754.1,189.4 758.3,186.8 759.3,189.8 760.4,194 761.4,197.2 762.4,201.8 763.5,206.6 764.5,209.7 765.9,205.6 767.3,202 768.7,198.2 769.9,200.7 771.2,204.6 772.4,208.1 773.7,210.9 774.9,215.3 778,217.9 781.1,218.1 784.2,221.4 787.3,222.5 788.6,219.7 789.8,215 791.1,211.7 792.3,210.4 793.6,206.2 797.7,209.8" fill="none" stroke="#D55E00" stroke-width="1.4" stroke-linejoin="round" />
<polyline points="729.2,216.5 732,218.6 734.7,221.5 737.5,223.8 738.9,219.9 740.3,216.5 741.7,213 743.1,209.7 744.4,205.6 745.8,202.9 747.2,199.2 748.6,195.6 750,191.6 753.5,193.1 756.9,193.8 760.4,194.7 761.8,198.4 763.1,201.7 764.5,205.1 767.3,207.3 770,210.2 772.8,213.4 776.4,216 780,217.9 783.7,220.4 787.3,222.7 789.9,219.5 792.5,215.6 795.1,213.2 797.7,209.2" fill="none" stroke="#D55E00" stroke-width="1.7" stroke-linejoin="round" />
<polyline points="729.2,219 732,222.7 734.7,224.5 737.5,227.6 738.8,224.3 740,220.8 741.2,217.7 742.5,215 743.8,211 745,207 746.2,204.3 747.5,201.7 748.8,197.6 750,194.3 753.5,196.1 756.9,197 760.4,198.2 761.8,202 763.1,206.1 764.5,209.5 767.3,211.1 770,214.4 772.8,216.2 776.4,219.6 780,221.8 783.7,222.9 787.3,225.4 789.4,223.3 791.5,218.7 793.5,215.7 795.6,214.2 797.7,210.6" fill="none" stroke="#D55E00" stroke-width="1.4" stroke-linejoin="round" />
<polyline points="817.4,180.2 819,185 820.5,188.5 821.8,191.9 823,195.4 824.3,199.3 825.5,204 826.8,207.2 829.4,210.4 832,212.8 834.5,214.5 837.1,217.5 837.9,220.7 838.7,224.5 839.5,229.3 840.3,231.7 841.2,236.1 842,239.6 842.8,243.9 843.6,247.8 844.4,250.7 849.6,250.7 851.5,254.9 853.3,258 855.2,261.9 857,265.9 858.9,269.4 861.3,266.1 863.8,263.4 866.2,261.1 867.8,257.5 869.3,253.4 870.9,250 872.4,246.6 876.5,250.3 880.7,252.8 882.8,249.4 884.9,245.2 886.9,242.3 889,238.3 892.6,238.8 896.3,240.4" fill="none" stroke="#D55E00" stroke-width="1.7" stroke-linejoin="round" />
<polyline points="817.4,179.9 819,185 820.5,188.4 821.8,190.9 823,194.8 824.3,199.2 825.5,200.6 826.8,205 829.4,208.4 832,209.7 834.5,212.6 837.1,215.4 837.8,218.4 838.6,222.1 839.3,226 840,228.7 840.8,233.3 841.5,236.1 842.2,240.2 842.9,242.8 843.7,247.4 844.4,250.3 849.6,248.1 851.1,251 852.7,255.3 854.2,258.7 855.8,262.5 857.4,265.8 858.9,269 861.3,264.9 863.8,262.1 866.2,257.9 868.3,253.5 870.3,250.6 872.4,246.6 876.5,248.2 880.7,251.8 882.4,249.4 884,245.8 885.7,242 887.3,238.7 889,236.1 892.6,236.7 896.3,238.6" fill="none" stroke="#D55E00" stroke-width="1.4" stroke-linejoin="round" />
<polyline points="917.9,276.4 919,272.5 920.1,268.7 921.2,265.2 922.4,263.1 923.5,258.3 924.6,255.1 925.7,251.8 928.5,254 931.3,257.4 934.6,253.6 938,249.6 939.3,246 940.7,242.1 942,238.7 943.4,236 944.7,231.7 946,228.5 947.4,224.9 948.7,221.1 950.1,216.7 951.4,213.9 952.8,210.1 954.2,206.2 955.6,201.5 957,198.2 959.8,195.7 962.6,193.7 963.7,197.2 964.8,201.6 965.9,204.7 967,209.4 968.1,212.6 969.2,217.3 970.4,221 971.5,224.4 972.6,227.6 973.7,231.7 977,229 980.4,227.3 983.8,231.6 987.2,235.1 989.4,232.3 991.7,227.6 993.9,225 996.9,222.2 999.8,221 1002.8,218.3 1006.1,221.3 1009.5,225 1010.6,221.1 1011.7,218.8 1012.8,214.8 1014,211.4 1015.1,208 1016.2,205.3 1017.3,201.9 1018.4,198.2" fill="none" stroke="#D55E00" stroke-width="1.7" stroke-linejoin="round" />
<polyline points="917.9,274.4 919,271.3 920.1,267.6 921.2,264.2 922.4,259.5 923.5,255.6 924.6,252.2 925.7,249.6 928.5,253.2 931.3,255.1 934.6,252.3 938,249.5 939.1,247.1 940.2,242.2 941.4,238.9 942.5,236 943.6,232.9 944.7,228.7 946.4,224.7 948,221 949.7,216.9 951.4,213.4 952.5,209.1 953.6,206.9 954.8,203.2 955.9,198.4 957,194.9 962.6,192.6 963.7,195.4 964.8,200.7 965.9,203.5 967,207.3 968.1,211.5 969.2,214.5 970.4,217.4 971.5,222.5 972.6,224.8 973.7,229.4 977,228.3 980.4,225.3 983.8,227.8 987.2,231.7 989.4,228.1 991.7,224.1 993.9,222 996.9,219.4 999.8,218.4 1002.8,216 1006.1,218.1 1009.5,221.9 1010.8,217.6 1012,214 1013.3,210.4 1014.6,208.1 1015.9,204 1017.1,201.7 1018.4,197.7" fill="none" stroke="#D55E00" stroke-width="1.4" stroke-linejoin="round" />
<polyline points="1043,249.6 1044.7,253 1046.3,255.8 1048,259.5 1049.7,262.7 1051.4,264.7 1053.1,268.5 1054.7,271.4 1056.4,274.2 1059.4,270.7 1062.4,268.7 1065.4,265.3 1067.6,261.2 1069.8,258.8 1072.1,255.8 1074.3,251.8 1075.9,248.9 1077.5,245.7 1079.1,242.5 1080.7,238.9 1082.3,235.2 1083.9,232.5 1085.5,229.5 1088.3,226.4 1091,224.4 1093.8,221.7 1096.6,218.3 1099.3,216.4 1102,212.7 1104.7,210.9 1107.4,208.2 1110.1,204.9 1111.9,200.6 1113.7,197.8 1115.4,193.5 1117.2,189.9 1119,187 1120.1,183.2 1121.2,179.9 1122.3,175.3 1123.5,171.8 1124.6,168.4 1125.7,164.7 1128.7,167 1131.6,168.6 1134.6,171.4 1136.8,173.7 1139.1,176.2 1141.3,179.5 1143.6,182.6 1146.4,186.7 1149.2,188.8 1151.9,193.1 1154.7,196 1158.7,198.4 1162.6,200.4" fill="none" stroke="#D55E00" stroke-width="1.7" stroke-linejoin="round" />
<polyline points="1043,244.7 1044.7,248.9 1046.3,252 1048,254.7 1049.7,257.9 1051.4,261.3 1053.1,263.9 1054.7,266.6 1056.4,270.4 1059.4,268.4 1062.4,266.9 1065.4,263.5 1067.6,260.8 1069.8,257.1 1072.1,252.1 1074.3,249.3 1076.2,245.3 1078,241.6 1079.9,238.7 1081.8,235.8 1083.6,231.7 1085.5,227.8 1087.7,225.1 1089.9,221.9 1092.2,218.4 1094.4,215.7 1096.6,213.3 1100,211.8 1103.3,209.1 1106.7,206 1110.1,203.1 1111.6,200.3 1113.1,196 1114.5,192.3 1116,189 1117.5,185.7 1119,183.5 1120.1,179.4 1121.2,177.6 1122.3,173.3 1123.5,169 1124.6,165.3 1125.7,162.7 1128.7,163.6 1131.6,165.6 1134.6,168.6 1137.6,171.3 1140.6,175.1 1143.6,178.9 1145.8,181 1148,184 1150.3,187.6 1152.5,189.4 1154.7,193 1158.7,193.4 1162.6,195.4" fill="none" stroke="#D55E00" stroke-width="1.4" stroke-linejoin="round" />
<polyline points="1043,247.4 1044.7,250.9 1046.3,253.2 1048,256.8 1049.7,259.4 1051.4,263.1 1053.1,265.1 1054.7,268.6 1056.4,272 1059.5,269.9 1062.7,266.3 1065.8,264.1 1069,260.7 1072.1,258.5 1073.5,254.5 1074.9,251.7 1076.3,248.4 1077.7,244.4 1079,241.8 1080.4,238.3 1081.8,234.8 1083.2,231.7 1085.4,228.9 1087.7,225.9 1089.9,222 1092.2,218.6 1094.4,216.2 1096.7,213 1098.9,209.4 1101.6,206.3 1104.3,203.3 1106.9,199.7 1109.6,197.2 1112.3,193.7 1114,190.5 1115.7,187.6 1117.3,183.3 1119,179.6 1120.7,177.5 1122.3,173.7 1124,170.7 1125.7,166.9 1128.5,169.5 1131.3,171.8 1134.1,173.4 1136.9,175.9 1139.6,179.6 1142.3,182.3 1144.9,185.1 1147.6,187.8 1150.3,191.5 1153.4,192.5 1156.4,194.4 1159.5,196.2 1162.6,198.2" fill="none" stroke="#D55E00" stroke-width="1.7" stroke-linejoin="round" />
<polyline points="1043,250.7 1044.9,253.6 1046.8,256.1 1048.7,261.2 1050.7,262.6 1052.6,265.6 1054.5,268.6 1056.4,272.7 1059.5,269.9 1062.7,268.7 1065.8,265.2 1069,263.5 1072.1,261.3 1073.5,256.9 1074.9,255.5 1076.3,251.9 1077.7,248.8 1079,244.4 1080.4,241.6 1081.8,237.4 1083.2,234.9 1085.2,232.8 1087.1,228.8 1089.1,226.5 1091.1,222.3 1093,219.7 1095,218.1 1096.9,213.7 1098.9,211.6 1101.1,208.6 1103.4,205.6 1105.6,202.6 1107.8,200.3 1110.1,197.7 1112.3,193.7 1114.2,190 1116.1,186 1118,183.7 1120,180.7 1121.9,176.1 1123.8,173.6 1125.7,169.3 1128.5,172.8 1131.3,173.8 1134.1,176 1136.9,179.7 1139.6,181.4 1142.3,184.5 1144.9,187.9 1147.6,191.2 1150.3,193.6 1153.4,195.2 1156.4,196.9 1159.5,198.8 1162.6,201.1" fill="none" stroke="#D55E00" stroke-width="1.4" stroke-linejoin="round" />
<polyline points="151.4,534.9 153.6,531.4 155.8,528.8 158,525.7" fill="none" stroke="#000000" stroke-width="3.0" stroke-linejoin="round" />
<polyline points="173.3,503.3 174.8,499.8 176.2,496.9 177.7,493.6 179.1,490.1 181.8,493.4 184.4,498 187.9,497.2 191.4,498.5 194.9,498 197.6,501.6 200.2,505.9" fill="none" stroke="#000000" stroke-width="3.0" stroke-linejoin="round" />
<polyline points="218.6,529.6 221.2,531.8 223.9,534.9 225.2,532.2 226.5,527.8 227.9,524.9 229.2,520.8 230.5,517.5 231.8,513.8 234.4,509.3 237,505.9 239.7,508.8 242.3,511.2 244.9,509.1 247.6,505.9 250.2,509.9 252.8,513.8" fill="none" stroke="#000000" stroke-width="3.0" stroke-linejoin="round" />
<polyline points="268.6,483.5 270.2,487.5 271.9,491 273.6,493.7 275.2,498 279.8,497.1 284.4,495.4 289.7,498 293.6,495.5 297.6,492.8 300.2,495.8 302.9,498.6 305.5,503.2 308.1,505.9" fill="none" stroke="#000000" stroke-width="3.0" stroke-linejoin="round" />
<polyline points="326.2,518.8 327.3,515.4 328.3,512.4 329.4,509.2 330.5,505.6 331.6,502.5 332.6,498.3 333.7,495.1 336.4,492.9 339.1,489.8 342.3,495.1 343.4,491.6 344.5,489 345.6,485.5 346.6,480.9 347.7,477.6 348.8,474.3 349.9,471.4 351,475.9 352,478.8 353.1,482.9 354.2,486.5 356.4,489.4 358.5,493 359.9,489.4 361.4,485.6 362.8,482.2 364.6,486.3 366.4,490.9 368.2,495.1 371.2,497.4 374.2,499.4" fill="none" stroke="#000000" stroke-width="3.0" stroke-linejoin="round" />
<polyline points="391.4,510.2 394.1,508 396.7,504.8 399.4,501.6 401.2,505.9 403,509.4 404.8,512.4 408.1,509.9 411.3,505.9 412.4,509.8 413.4,512.6 414.5,517.3 415.6,521 416.6,524.5 417.7,527.5 419.4,531.1 421.2,534.7 422.9,537.4 424.7,541.8 426.4,544.7 428.5,549.1 430.7,553.3 434.4,549.8 438.2,546.9" fill="none" stroke="#000000" stroke-width="3.0" stroke-linejoin="round" />
<polyline points="454.4,447.7 455.1,443.1 455.8,440.4 456.5,436.6 457.3,431.2 458,428.4 458.7,424 459.6,420 460.5,415.8 461.4,412.1 462.4,409.1 463.3,405.4 464.2,400.2 465.1,397.1 469.5,400 473.8,402.5 475,405.2 476.3,409.6 477.5,412.4 478.7,416.7 479.9,420.2 481.2,422.8 482.4,426.2 483.9,430.4 485.5,432.7 487,435.7 488.6,439.9 490.1,442.4 491.7,446 493.2,449.9 495.3,453.2 497.5,457 499.6,459.7 501.8,462.9 503.9,467.1" fill="none" stroke="#000000" stroke-width="3.0" stroke-linejoin="round" />
<polyline points="521.2,484.4 524.4,482.8 527.6,480.1 534.1,482.2 540.6,484.4 543.8,487.3 547,490.8 548.1,495.8 549.2,499.4 550.6,496.5 552.1,492.1 553.5,488.7 555.6,492.9 557.8,497.3 563.2,499.4 566.4,501.6 569.6,503.8" fill="none" stroke="#000000" stroke-width="3.0" stroke-linejoin="round" />
<polyline points="587.1,532.3 590.4,535.1 593.7,537.5 595.5,534.6 597.2,531.5 599,528.3 604.2,532.3 606,535.6 607.7,539.1 609.5,541.5 611.7,538.4 613.9,535.3 616.1,532.3 622.7,533.6 626,535.9 629.3,537.5 631.5,534 633.6,531 635.8,528.3" fill="none" stroke="#000000" stroke-width="3.0" stroke-linejoin="round" />
<polyline points="653.7,533.6 659.5,537.5 660.1,534.5 660.7,529.9 661.3,526.2 661.9,521.5 662.4,518.4 663,514.8 663.6,510.1 664.2,507.3 664.8,503.3 665.7,500.1 666.7,495.8 667.6,493.3 668.6,489.7 669.5,486.7 670.5,482.7 671.4,479.6 673.2,476.4 674.9,472.9 676.7,469 680,470.9 683.2,474.3 687.2,474.2 691.1,475.6 695,475.2 699,474.3 701.6,477.7 704.3,479.6 709.6,478.3" fill="none" stroke="#000000" stroke-width="3.0" stroke-linejoin="round" />
<polyline points="728,529.6 732,526.6 735.9,524.4 739.8,526.9 743.8,529.6 745.8,526.5 747.8,522.8 749.7,519.6 751.7,516.5 755.7,513.6 759.6,511.2 761.2,507.8 762.8,505 764.3,501.4 765.9,498.4 767.5,495.4 771.5,498.5 775.4,500.7 778,502.5 780.7,505.9 784.7,508.7 788.6,511.2 789.4,507.8 790.1,503.4 790.9,499.5 791.6,496.7 792.4,492 793.1,488.2 793.9,484.9 797.8,490.1" fill="none" stroke="#000000" stroke-width="3.0" stroke-linejoin="round" />
<polyline points="817.6,505.9 821.5,507.1 825.5,508.5 826.8,512.8 828.1,515.8 829.4,520.1 830.7,524.4 833.4,520.2 836,516.5 836.9,520.5 837.8,523.4 838.6,527.6 839.5,530 840.4,533.8 841.3,537.8 842.1,541.7 843,544.5 843.9,548.1 845.7,551.2 847.4,554.5 849.2,558.6 850,562.3 850.8,565.4 851.6,570 852.5,573.6 853.3,576.2 854.1,580 854.9,584.5 855.7,587.6 856.8,591.8 857.8,596 858.9,599.2 859.9,602.8 861,607.4 862.3,603.4 863.6,600.6 865,596.1 866.3,592.8 867.9,589.3 869.6,586.1 871.2,582.8 872.9,579.7 875.2,576.3 877.5,573.8 879.8,569.2 882.1,566.5 886,565.7 890,566.5 893.3,565.9 896.6,563.9" fill="none" stroke="#000000" stroke-width="3.0" stroke-linejoin="round" />
<polyline points="917.9,510.5 921.2,508.3 922.3,512.2 923.5,515.7 924.6,518.3 929.1,516.1 931.3,519 933.6,522.8 935.8,525 939.1,524 942.5,521.7 945.9,517.9 949.2,515 951.8,518 954.4,520.7 957,522.8 958.1,527.1 959.2,530.9 960.4,534.5 961.5,538.6 962.6,542.9 963.5,546.5 964.4,550.2 965.2,555.1 966.1,558.6 967,563 969.2,566.8 971.5,569.7 976,567.9 980.4,567.5 982.7,571.9 984.9,575.3 987.2,578.7 991.6,574.2 995,576 998.3,576.4 1001.6,574.8 1005,572 1006.1,569.3 1007.2,565.4 1008.4,561.1 1009.5,558.9 1010.6,554.6 1011.7,551.8 1013.9,548.1 1016.2,545.4 1018.4,541.8" fill="none" stroke="#000000" stroke-width="3.0" stroke-linejoin="round" />
<polyline points="1043,535.1 1045.2,539 1047.5,542.9 1049.7,545.7 1052,549.5 1054.2,551.8 1057.6,555.3 1060.9,558.5 1063.1,561.2 1065.4,564.1 1067.6,567.5 1068.7,564.3 1069.8,560 1070.9,556.8 1072.1,552.3 1073.2,548.3 1074.3,545.1 1075.4,541.8 1076.5,538.9 1077.7,534.5 1078.8,532.2 1079.9,529 1081,525 1081.9,521.9 1082.8,518.4 1083.7,513.5 1084.6,511 1085.5,507.2 1088.5,504.8 1091.4,500.5 1094.4,498.2 1096.6,494.1 1098.9,490.4 1101.1,487 1104.4,483.7 1107.8,480.3 1109.5,476.8 1111.2,473.6 1112.8,470.7 1114.5,466.9 1116.7,462.4 1119,458.8 1121.2,455.8 1122.9,459.1 1124.6,463 1126.2,466.8 1127.9,471.4 1129.6,475.5 1131.2,478.7 1132.9,480.8 1134.6,484.8 1137.9,483.7 1141.3,482.6 1143.5,486 1145.8,489.7 1148,493.7 1150.2,496.5 1152.5,499.9 1154.7,502.7 1158.7,502.3 1162.6,501.6" fill="none" stroke="#000000" stroke-width="3.0" stroke-linejoin="round" />
<polyline points="139.6,519.1 142.2,522.4 144.9,525.6 147.5,529.6 151.4,526.7 155.4,524.4 158,519.1" fill="none" stroke="#009E73" stroke-width="1.7" stroke-linejoin="round" />
<polyline points="139.6,515.4 141.6,517.7 143.6,522 145.5,525.7 147.5,528.7 151.4,526.4 155.4,523.8 158,517.6" fill="none" stroke="#009E73" stroke-width="1.4" stroke-linejoin="round" />
<polyline points="173.3,471.7 176.2,469.9 179.1,467.7 181.7,469.9 184.3,474.3 187,475.9 189.6,479.6 192.2,482.4 194.9,485.3 197.5,487.2 200.2,490.1" fill="none" stroke="#009E73" stroke-width="1.7" stroke-linejoin="round" />
<polyline points="173.3,473.1 179.1,470.3 181.7,473.2 184.3,476.4 187,480.5 189.6,482.8 193.1,486.4 196.7,487.9 200.2,490.8" fill="none" stroke="#009E73" stroke-width="1.4" stroke-linejoin="round" />
<polyline points="218.6,524.4 220.7,521.9 222.8,518.5 224.9,514.5 227,511.6 229.1,508.5 231.1,504.6 233.1,502.5 235,498.9 237,495.4 242.3,492.8 245.8,494.3 249.3,495 252.8,495.4" fill="none" stroke="#009E73" stroke-width="1.7" stroke-linejoin="round" />
<polyline points="218.6,521.7 220.7,518.7 222.8,513.6 224.9,510.1 227,506.6 229.1,503.9 231.7,501.1 234.4,495.8 237,492.8 239.7,489.3 242.3,487.9 245.8,489.7 249.3,489.1 252.8,491" fill="none" stroke="#009E73" stroke-width="1.4" stroke-linejoin="round" />
<polyline points="268.6,484.9 271.2,488.1 273.9,490.4 276.6,493.3 279.2,495.4 281.8,498.7 284.4,500.8 287.1,503.8 289.7,505.9 293.2,503.4 296.7,502.9 300.2,500.7 304.1,502 308.1,503.3" fill="none" stroke="#009E73" stroke-width="1.7" stroke-linejoin="round" />
<polyline points="268.6,484.2 271.2,487.7 273.9,489.2 276.6,491.9 279.2,495.4 282.7,497.2 286.2,500.4 289.7,502.4 293.2,501.6 296.7,499.4 300.2,498.3 304.1,499.8 308.1,501.8" fill="none" stroke="#009E73" stroke-width="1.4" stroke-linejoin="round" />
<polyline points="326.2,514.5 327.3,510.9 328.3,507.5 329.4,504.2 330.5,500.3 331.6,497.6 332.6,494.9 333.7,490.8 338,492.8 342.3,495.1 343.6,491.9 344.8,487.4 346.1,484.7 347.4,481.2 348.6,477.5 349.9,473.6 351,477.1 352,480.5 353.1,484.1 354.1,488 355.2,490.8 356.8,486.2 358.4,482.1 360.1,479.1 361.7,474.7 363.3,478.9 364.9,481.7 366.6,485.1 368.2,488.7 371.2,492.3 374.2,495.1" fill="none" stroke="#009E73" stroke-width="1.7" stroke-linejoin="round" />
<polyline points="326.2,513.7 327.3,510.8 328.3,506.5 329.4,502.7 330.5,499.9 331.6,495.9 332.6,490.9 333.7,487.6 338,490 342.3,493.4 343.6,490.8 344.8,486.1 346.1,483.6 347.4,479.6 348.6,476.8 349.9,473.6 351,477.7 352,480.1 353.1,484.1 354.1,487.5 355.2,490.4 356.5,486.3 357.8,483.7 359.1,480.9 360.4,476.9 361.7,473.1 363.3,475.8 364.9,481.6 366.6,483.4 368.2,488 371.2,492 374.2,494" fill="none" stroke="#009E73" stroke-width="1.4" stroke-linejoin="round" />
<polyline points="391.4,512.4 395.4,511.8 399.4,510.2 404.8,514.5 407,512.2 409.1,508 411.3,505.9 412.4,510.3 413.4,514.1 414.5,517.5 415.6,521.4 416.7,524.1 417.8,528.1 418.8,531.9 419.9,536.1 422.1,540.2 424.2,543.4 426.4,545.8 428.5,550.1 430.7,553.3 434.4,550.4 438.2,546.9" fill="none" stroke="#009E73" stroke-width="1.7" stroke-linejoin="round" />
<polyline points="391.4,508.1 395.4,509 399.4,508.4 404.8,510.5 408.1,505.9 411.3,502.3 412.3,505.5 413.2,509.5 414.2,513.2 415.1,515.2 416.1,519.4 417,523.1 418,526.7 418.9,529.6 419.9,533.7 422.1,536.8 424.2,540.6 426.4,542.3 428.5,545.5 430.7,548.3 434.4,544.3 438.2,542" fill="none" stroke="#009E73" stroke-width="1.4" stroke-linejoin="round" />
<polyline points="455.4,452 456,448.1 456.6,445.1 457.2,440.7 457.8,438.4 458.4,434.8 459,430 459.6,427.8 460.2,423.3 460.9,420.4 461.5,416.8 462.1,412.5 462.7,409.5 463.3,405.9 463.9,402.6 464.5,398.2 465.1,395 468.7,398.1 472.4,401.1 476,403 477.1,406.9 478.2,410.3 479.4,413.3 480.5,417.5 481.6,420.9 482.8,425.1 483.9,428.7 485,432 486.5,435.4 487.9,438.1 489.4,442.1 490.9,445.4 492.4,447.9 493.8,452.3 495.3,455 498.2,458.2 501,460.4 503.9,464" fill="none" stroke="#009E73" stroke-width="1.7" stroke-linejoin="round" />
<polyline points="455.4,449.2 456,446.3 456.6,442.6 457.2,437.7 457.8,434.3 458.4,431.5 459,428 459.6,424.1 460.2,419.9 460.9,416.7 461.5,412.6 462.1,409.3 462.7,406.5 463.3,402.4 463.9,399.8 464.5,395.9 465.1,392.3 468.7,395.4 472.4,398 476,399.3 477.1,402.8 478.2,407.1 479.4,409.1 480.5,413.6 481.6,418.3 482.8,420 483.9,424.5 485,427.9 486.5,431.5 487.9,434.4 489.4,438.4 490.9,439.9 492.4,444.4 493.8,447.3 495.3,450.4 498.2,454.2 501,457 503.9,460.6" fill="none" stroke="#009E73" stroke-width="1.4" stroke-linejoin="round" />
<polyline points="521.2,486.5 525.5,485.1 529.8,482.2 532.7,484.5 535.5,488.1 538.4,490.8 542.7,493.5 547,495.1 549.2,492.7 551.3,489.4 553.5,486.5 555.1,489.2 556.8,492.4 558.4,496.8 560,499.4 563.2,497.8 566.4,496.2 569.6,495.1" fill="none" stroke="#009E73" stroke-width="1.7" stroke-linejoin="round" />
<polyline points="521.2,491.6 524.1,489 526.9,488 529.8,485 532.7,488.1 535.5,491.4 538.4,494.3 542.7,497 547,498.7 549.2,494.8 551.3,493.7 553.5,490.3 555.1,494.2 556.8,497.4 558.4,501.1 560,504.6 563.2,502.7 566.4,500.3 569.6,499.1" fill="none" stroke="#009E73" stroke-width="1.4" stroke-linejoin="round" />
<polyline points="587.1,521.7 590.4,523.1 593.7,524.4 597.7,522.3 601.6,521.7 604.2,524.3 606.9,527.2 609.5,529.6 612.1,526 614.8,522.7 617.4,519.1 621.3,522.5 625.3,524.4 627.9,522.4 630.5,518.5 633.2,516.9 635.8,513.8" fill="none" stroke="#009E73" stroke-width="1.7" stroke-linejoin="round" />
<polyline points="587.1,520.6 593.7,522.9 597.7,521.9 601.6,520.1 605.5,522.2 609.5,526.1 612.1,523.8 614.8,520.6 617.4,516.9 621.3,518.5 625.3,522.2 627.9,518.6 630.5,518 633.2,515.4 635.8,511.6" fill="none" stroke="#009E73" stroke-width="1.4" stroke-linejoin="round" />
<polyline points="654.3,534.9 655.3,530.8 656.3,527 657.3,523.5 658.2,520.7 659.2,516.3 660.2,512.9 661.2,510 662.2,505.9 663.3,502.4 664.5,499.7 665.6,496.1 666.7,492.2 667.8,488.9 669,484.9 670.1,482.2 671.8,478.8 673.4,473.8 675.1,470.3 676.7,466.4 678.9,469.2 681,473.4 683.2,477 687.2,474.7 691.1,471.7 693.8,474.2 696.4,476.9 699.1,478.8 701.7,482.2 703.7,485.1 705.7,489.4 707.6,492 709.6,495.4" fill="none" stroke="#009E73" stroke-width="1.7" stroke-linejoin="round" />
<polyline points="654.3,536.5 655.3,532 656.3,528.8 657.3,524.6 658.2,520.5 659.2,517 660.2,513.3 661.2,510.3 662.2,506.6 663.5,501.8 664.8,497.9 666.2,495.1 667.5,491.2 668.8,488 670.1,483.7 671.8,479.4 673.4,476.8 675.1,473.4 676.7,470.2 680,473.2 683.2,478.3 687.2,477.3 691.1,474.2 693.8,476 696.4,478.1 699.1,481.3 701.7,483.7 703.7,486.3 705.7,490.6 707.6,493.3 709.6,496.9" fill="none" stroke="#009E73" stroke-width="1.4" stroke-linejoin="round" />
<polyline points="728,524.4 731.5,522 735.1,520.1 738.6,519.1 741.2,516.8 743.9,513.5 746.5,511.7 749.1,508.5 751.8,506.6 754.4,503.3 757,499.8 759.6,496.6 762.3,493.4 764.9,491.2 767.5,487.5 770.1,490.3 772.8,492.5 775.4,495.4 778.9,494.7 782.5,495.7 786,495.4 788,492.9 790,488.9 791.9,484.7 793.9,482.2 795.2,485.8 796.5,490.3 797.8,495.4" fill="none" stroke="#009E73" stroke-width="1.7" stroke-linejoin="round" />
<polyline points="728,521.8 731.5,519.3 735.1,517.9 738.6,515.4 741.2,512.7 743.9,511.1 746.5,508.4 749.1,505.4 751.8,504.2 754.4,500.8 756.6,497.4 758.8,495.1 761,492.6 763.1,489.9 765.3,487.2 767.5,484.3 770.1,488.3 772.8,490.9 775.4,494.5 778.9,495 782.5,494.9 786,493.9 788,490 790,487.5 791.9,482.5 793.9,479.1 794.9,481.8 795.8,486.6 796.8,489.2 797.8,492.8" fill="none" stroke="#009E73" stroke-width="1.4" stroke-linejoin="round" />
<polyline points="817.6,503.3 821.1,504.9 824.6,507.1 828.1,508.5 831.2,506.5 834.2,505.5 837.3,503.3 838.2,507.1 839.2,511.2 840.1,515.2 841.1,518.6 842,522.8 843,525.1 843.9,529.6 845.5,532.2 847.1,536.3 848.6,539.6 850.2,541.6 851.8,545.4 852.9,549.5 854.1,553.2 855.2,556.4 856.3,560.6 857.4,564.7 858.6,567.3 859.7,571.8 861,568.5 862.3,564 863.7,561.2 865,558.3 866.3,554.5 867.6,550.7 871.1,549.7 874.6,546.4 878.1,545.4 882,542.3 886,540.2 888.6,543.9 891.3,547.4 894,549.8 896.6,553.3" fill="none" stroke="#009E73" stroke-width="1.7" stroke-linejoin="round" />
<polyline points="817.6,503.3 821.1,505.2 824.6,508.5 828.1,510.8 831.2,508.4 834.2,506.9 837.3,504 838.2,507.9 839.2,511.9 840.1,515 841.1,517.9 842,521.5 843,524.9 843.9,529.5 845.5,533.5 847.1,535.1 848.6,538.2 850.2,543.5 851.8,545.7 852.8,548.6 853.8,553.7 854.8,555.5 855.8,559.8 856.7,562.9 857.7,567.7 858.7,570.8 859.7,574.1 861,570.9 862.3,567.6 863.7,564.2 865,559.5 866.3,556.5 867.6,552.8 871.1,550.1 874.6,546.8 878.1,545.2 882,543.7 886,540.8 888.1,544.3 890.2,548 892.4,549.8 894.5,553.8 896.6,556.9" fill="none" stroke="#009E73" stroke-width="1.4" stroke-linejoin="round" />
<polyline points="917.9,531.7 921.2,529.4 924.6,527.3 926.8,524.7 929.1,520.6 931.3,518.3 933.5,521.8 935.8,525.7 938,529.5 940.2,525.8 942.5,523.7 944.7,520.6 949.2,519.8 953.6,518.3 957,521.5 960.3,525 961.3,528.7 962.3,532.1 963.3,535 964.3,538.7 965.3,543.2 966.3,545.6 967.3,549.2 968.3,552.2 969.3,556.3 972.3,558.8 975.2,561.8 978.2,565.3 981.9,566.7 985.7,567.1 989.4,567.5 993.8,568.6 998.3,568.6 1001.6,571.1 1005,572 1006.3,568.6 1007.7,565.5 1009,561.3 1010.4,557.5 1011.7,554.1 1018.4,554.1" fill="none" stroke="#009E73" stroke-width="1.7" stroke-linejoin="round" />
<polyline points="917.9,530.2 921.2,526.1 924.6,523.9 928,520.5 931.3,516.1 933.5,518.8 935.8,522.4 938,525.8 941.4,522.2 944.7,519.3 949.2,518.5 953.6,516.7 957,519.3 960.3,520.9 961.2,523.8 962.1,526.8 963,530.6 963.9,534.2 964.8,536.9 965.7,540.4 966.6,545.1 967.5,548.4 968.4,552.4 969.3,554.7 972.3,557.8 975.2,559.6 978.2,560.7 981.9,561.1 985.7,561.2 989.4,562.6 993.8,564 998.3,566.2 1005,567.9 1006.3,564.4 1007.7,561.1 1009,557.8 1010.4,554 1011.7,550.9 1018.4,551.4" fill="none" stroke="#009E73" stroke-width="1.4" stroke-linejoin="round" />
<polyline points="1043,518.3 1045.2,522.2 1047.5,525 1049.7,521.9 1052,519.4 1054.2,517.3 1056.4,513.9 1058.7,511 1060.9,506.8 1063.2,503.4 1065.4,500.4 1067.2,497.3 1069,492.5 1070.7,489.1 1072.5,486.2 1074.3,482.6 1077.3,480.4 1080.2,477.6 1083.2,475.9 1086.2,472.9 1089.2,471 1092.2,469.2 1096.7,467.4 1101.1,464.7 1104.1,461.7 1107.1,459.5 1110.1,455.8 1113.1,454 1116,452.1 1119,449.1 1123.5,449.5 1127.9,451.3 1130.1,453.8 1132.4,456.5 1134.6,460.2 1137.4,462.9 1140.2,465.5 1142.9,467.9 1145.7,471.4 1147.2,474.8 1148.7,477.5 1150.2,481.1 1151.7,484.4 1153.2,488.6 1154.7,491.5 1158.7,489.1 1162.6,487" fill="none" stroke="#009E73" stroke-width="1.7" stroke-linejoin="round" />
<polyline points="1043,518.6 1045.2,521.9 1047.5,525.3 1050.5,521.9 1053.4,521.2 1056.4,518.1 1058.2,514.6 1060,511.4 1061.8,508.5 1063.6,505.4 1065.4,501.2 1067.2,499.2 1069,495.1 1070.7,491.7 1072.5,489.2 1074.3,485.8 1077.3,482.9 1080.2,479.9 1083.2,478.3 1087.7,475 1092.2,473.2 1096.7,471.3 1101.1,467.9 1104.1,464.1 1107.1,462.8 1110.1,459.3 1113.1,456.4 1116,453.2 1119,450.9 1123.5,452.2 1127.9,454.5 1131.2,457.6 1134.6,461.7 1137.4,464.4 1140.2,467.1 1142.9,468.7 1145.7,472.1 1147.2,474.4 1148.7,478.6 1150.2,481.3 1151.7,485.1 1153.2,488.7 1154.7,491.7 1158.7,489.1 1162.6,487.4" fill="none" stroke="#009E73" stroke-width="1.4" stroke-linejoin="round" />
<polyline points="139.6,519.1 141.8,522.3 144,526.3 146.2,529.6 152.8,529.6 155.4,525 158,521.7" fill="none" stroke="#56B4E9" stroke-width="1.7" stroke-linejoin="round" />
<polyline points="139.6,517.9 141.8,521.4 144,525.4 146.2,529.2 149.5,528.4 152.8,526 155.4,524.1 158,520.3" fill="none" stroke="#56B4E9" stroke-width="1.4" stroke-linejoin="round" />
<polyline points="173.3,474 176.2,472.2 179.1,470 181.7,472.5 184.3,476.7 187,478.5 189.6,482 192.2,484.8 194.9,488.5 197.5,490.7 200.2,494" fill="none" stroke="#56B4E9" stroke-width="1.7" stroke-linejoin="round" />
<polyline points="173.3,474.1 179.1,471.2 181.7,473.5 184.3,477.6 187,480.9 189.6,484.4 192.2,488.2 194.9,490.2 197.5,494.2 200.2,496.1" fill="none" stroke="#56B4E9" stroke-width="1.4" stroke-linejoin="round" />
<polyline points="218.6,526 220.7,523.6 222.8,520.7 224.9,517 227,515 229.1,512 231.1,507.9 233.1,505.5 235,502.1 237,498 242.3,496 245.8,497.4 249.3,498.1 252.8,498" fill="none" stroke="#56B4E9" stroke-width="1.7" stroke-linejoin="round" />
<polyline points="218.6,525.6 220.7,522.3 222.8,518.4 224.9,515.1 227,513.2 229.1,509.5 231.1,506.2 233.1,502.1 235,498.2 237,494.8 242.3,493.9 245.8,492.9 249.3,493.9 252.8,494.3" fill="none" stroke="#56B4E9" stroke-width="1.4" stroke-linejoin="round" />
<polyline points="268.6,484.9 271.2,487 273.9,490.4 276.6,492.5 279.2,495.4 280.8,498.8 282.4,501.1 283.9,504.3 285.5,508.1 287.1,511.2 289.7,507.1 292.4,503.7 295,500.7 299.4,500.2 303.7,498.8 308.1,498" fill="none" stroke="#56B4E9" stroke-width="1.7" stroke-linejoin="round" />
<polyline points="268.6,480.5 271.2,483.9 273.9,484.6 276.6,487.3 279.2,490.5 280.8,494.6 282.4,497.9 283.9,501 285.5,502.6 287.1,506.3 289.7,502.5 292.4,500.2 295,495.7 299.4,495.1 303.7,495 308.1,493.9" fill="none" stroke="#56B4E9" stroke-width="1.4" stroke-linejoin="round" />
<polyline points="326.2,516.7 327.6,513 329,509.2 330.4,506.3 331.7,503.6 333.1,500.2 334.5,496.5 335.9,493 339.1,495.1 342.3,497.3 343.4,493.5 344.5,489.5 345.6,485.8 346.6,482.5 347.7,477.6 348.8,474.4 349.9,470.4 351,474.5 352,477.8 353.1,480.1 354.2,484.7 355.2,487.9 356.3,490.8 358.5,486.7 360.6,483.3 362.8,480.1 365.1,483.1 367.4,486.3 369.6,491.2 371.9,493.7 374.2,497.3" fill="none" stroke="#56B4E9" stroke-width="1.7" stroke-linejoin="round" />
<polyline points="326.2,513 327.8,508.8 329.4,506.4 331,502.8 332.7,498.7 334.3,496.4 335.9,492.7 339.1,494.4 342.3,496.7 343.4,493 344.5,489 345.6,485.2 346.6,481.5 347.7,478.3 348.8,475.4 349.9,470.6 351.2,475.4 352.5,479.1 353.7,482.9 355,485.5 356.3,489.8 358.5,487.1 360.6,481.7 362.8,478.5 364.7,480.7 366.6,484.5 368.5,488.1 370.4,490.2 372.3,493.9 374.2,496.6" fill="none" stroke="#56B4E9" stroke-width="1.4" stroke-linejoin="round" />
<polyline points="391.4,518.8 395.4,515.3 399.4,512.4 404.8,516.7 407,514.6 409.1,510.9 411.3,508.1 412.4,511.8 413.4,515.5 414.5,519.8 415.6,523.6 416.7,526.6 417.7,530.1 418.8,533.9 420.5,537.2 422.2,539.4 423.9,543 425.6,546.8 427.3,549.8 429,551.7 430.7,555.5 434.4,552.8 438.2,549" fill="none" stroke="#56B4E9" stroke-width="1.7" stroke-linejoin="round" />
<polyline points="391.4,519 395.4,516.8 399.4,514.4 404.8,516.8 408.1,512.3 411.3,510 412.4,513.2 413.4,516.7 414.5,520.3 415.6,524.8 416.7,527.8 417.7,530 418.8,534.3 420.5,537.7 422.2,540.8 423.9,543.5 425.6,547.1 427.3,550.4 429,555.8 430.7,558.4 433.2,555.1 435.7,553 438.2,550.5" fill="none" stroke="#56B4E9" stroke-width="1.4" stroke-linejoin="round" />
<polyline points="455.4,454.2 456,450.1 456.6,446.2 457.2,443.7 457.8,439.4 458.4,435.9 459,432.2 459.6,429.1 460.2,425.6 460.9,421 461.5,417.6 462.1,414.3 462.7,410.6 463.3,407.6 463.9,402.8 464.5,399.1 465.1,396 468.7,398.6 472.3,401.8 475.9,404.6 477.1,407.7 478.4,411.5 479.6,416.3 480.8,419.3 482,423.6 483.3,426.6 484.5,430.5 486,433.9 487.6,438 489.1,440.6 490.7,443.5 492.2,447 493.8,451 495.3,454.2 498.2,457.2 501,460.7 503.9,462.8" fill="none" stroke="#56B4E9" stroke-width="1.7" stroke-linejoin="round" />
<polyline points="455.4,455 456,452.4 456.7,446.7 457.3,442.9 458,440.3 458.6,436.6 459.3,434 459.9,430.2 460.6,425.4 461.2,422 461.9,418.7 462.5,415.7 463.2,410.6 463.8,407.3 464.5,403 465.1,400.3 468.7,403.1 472.3,404.2 475.9,407.7 477.1,412 478.4,414.5 479.6,418 480.8,420.2 482,423.9 483.3,427.8 484.5,431.2 486,435.6 487.6,438.5 489.1,441.5 490.7,446.6 492.2,449.5 493.8,452.8 495.3,456.3 498.2,459 501,462.5 503.9,466.2" fill="none" stroke="#56B4E9" stroke-width="1.4" stroke-linejoin="round" />
<polyline points="521.2,490.8 525.5,489.3 529.8,486.5 532.7,488.8 535.5,492.3 538.4,495.1 542.7,497.4 547,499.4 549.2,495.6 551.3,492.7 553.5,488.7 555.1,492.6 556.8,495.7 558.4,498.8 560,501.6 564.8,501.1 569.6,501.6" fill="none" stroke="#56B4E9" stroke-width="1.7" stroke-linejoin="round" />
<polyline points="521.2,489.3 525.5,487.6 529.8,484.1 532.7,486.8 535.5,490.2 538.4,492.1 542.7,494.6 547,497.9 548.6,495.1 550.2,490.8 551.9,487.3 553.5,484.5 555.1,488.5 556.8,491.2 558.4,494.4 560,497.1 564.8,497.2 569.6,498.5" fill="none" stroke="#56B4E9" stroke-width="1.4" stroke-linejoin="round" />
<polyline points="587.1,511.2 588.8,514.9 590.4,518.7 592.1,522.7 593.7,527 597.7,525.5 601.6,524.4 604.2,526.3 606.9,530.4 609.5,532.3 612.1,529.1 614.8,524.8 617.4,521.7 621.3,524 625.3,527 628.8,524.7 632.3,522.9 635.8,521.7" fill="none" stroke="#56B4E9" stroke-width="1.7" stroke-linejoin="round" />
<polyline points="587.1,513 588.4,516.7 589.7,520.3 591.1,523.4 592.4,526.1 593.7,530.6 597.7,529.8 601.6,527.7 605.5,531.6 609.5,533.9 612.1,531.1 614.8,528.5 617.4,525.6 621.3,527 625.3,529.5 628.8,528.8 632.3,526.7 635.8,524.8" fill="none" stroke="#56B4E9" stroke-width="1.4" stroke-linejoin="round" />
<polyline points="654.3,521.7 655.4,517.9 656.6,515.4 657.7,512.3 658.8,507.9 659.9,505.6 661.1,501.4 662.2,498 663.5,494.2 664.8,491.8 666.1,487.9 667.5,485.2 668.8,481.7 670.1,477.6 671.4,475 672.7,471.7 676.7,473.6 680.6,474.3 684.1,474.3 687.6,474.4 691.1,474.3 694.6,476.6 698.2,477.7 701.7,479.6 704.3,482.2 707,485 709.6,487.5" fill="none" stroke="#56B4E9" stroke-width="1.7" stroke-linejoin="round" />
<polyline points="654.3,519.8 655.6,515.8 656.9,513.2 658.2,508.8 659.6,505.6 660.9,500.8 662.2,497.2 663.5,493.8 664.8,490.8 666.1,486.5 667.5,483 668.8,479.1 670.1,475.8 671.4,472.1 672.7,469.3 676.7,471.3 680.6,471.9 684.1,472.5 687.6,471.8 691.1,472.3 694.6,472.8 698.2,475.7 701.7,476 704.3,478.7 707,481.5 709.6,484" fill="none" stroke="#56B4E9" stroke-width="1.4" stroke-linejoin="round" />
<polyline points="728,521.7 731.5,521.6 735.1,522.4 738.6,521.7 741.2,519.2 743.9,516.2 746.5,514.2 749.1,511.3 751.8,508.9 754.4,505.9 757,502.2 759.6,499.8 762.3,495.8 764.9,493.3 767.5,490.1 771.9,490.4 776.3,491.7 780.7,492.8 784.2,494.6 787.6,496 791.1,498 794.5,499 797.8,500.7" fill="none" stroke="#56B4E9" stroke-width="1.7" stroke-linejoin="round" />
<polyline points="728,523 731.5,524.9 735.1,524 738.6,525.5 740.9,522.9 743.1,520.1 745.4,516.7 747.6,514 749.9,512.9 752.1,509.8 754.4,506.4 757,504.4 759.6,502.3 762.3,498.1 764.9,496.9 767.5,493.9 771.9,494.8 776.3,493.9 780.7,494.8 784.2,496.3 787.6,499.2 791.1,499.8 797.8,501.8" fill="none" stroke="#56B4E9" stroke-width="1.4" stroke-linejoin="round" />
<polyline points="817.6,505.9 821.1,507.4 824.6,509.9 828.1,511.2 831.2,508.9 834.2,507.9 837.3,505.9 838.3,509.2 839.3,513.2 840.3,516.6 841.2,521 842.2,524.4 843.2,527.7 844.2,531.6 845.2,534.9 847.2,538.1 849.2,542 851.1,544.4 853.1,548.1 854.4,551.9 855.7,555.6 857.1,559 858.4,562.1 859.7,566.5 861,562.5 862.3,559.7 863.7,555.5 865,552.8 866.3,548.9 867.6,545.4 871.1,545.3 874.6,544.2 878.1,542.8 882,540.5 886,537.5 888.6,539.9 891.3,542.1 894,545.5 896.6,548.1" fill="none" stroke="#56B4E9" stroke-width="1.7" stroke-linejoin="round" />
<polyline points="817.6,506.4 821.1,508.5 824.6,512.4 828.1,515 831.2,513.8 834.2,510.1 837.3,508.8 838.3,511.2 839.3,514.8 840.3,519.9 841.2,522.5 842.2,526.2 843.2,530.8 844.2,533.5 845.2,536.7 847.2,539.8 849.2,544.3 851.1,546.3 853.1,551 854.8,554.5 856.4,559.4 858.1,562.3 859.7,567 861,562.7 862.3,560.5 863.7,556.9 865,555 866.3,549.9 867.6,547.5 871.1,547.4 874.6,545.8 878.1,545.4 882,543.3 886,539.8 889.5,542.6 893.1,546.1 896.6,548.6" fill="none" stroke="#56B4E9" stroke-width="1.4" stroke-linejoin="round" />
<polyline points="917.9,536.2 920.1,532.6 922.3,529.1 924.6,526.1 926.8,522.8 929.6,525.5 932.4,527 935.2,529 938,531.7 940.2,528.2 942.5,524.4 944.7,521.4 946.9,518.3 949.9,516.2 952.9,513.9 955.9,511.6 957.4,515.1 958.9,518 960.3,520.9 961.8,524.2 963.3,528.1 964.8,531.7 965.8,534.7 966.7,538.8 967.7,541.9 968.6,546.2 969.6,549.4 970.5,553 971.5,556.3 974.9,557.8 978.2,558.5 982.7,560.8 987.2,563 990.9,562.9 994.6,562.7 998.3,563 1000.5,565.1 1002.8,569.1 1005,571.4 1007.3,574.2 1007.9,570 1008.6,567.9 1009.2,563.8 1009.8,560.3 1010.4,556.5 1011.1,552.5 1011.7,549.6 1013.9,547.4 1016.2,543.1 1018.4,540.7" fill="none" stroke="#56B4E9" stroke-width="1.7" stroke-linejoin="round" />
<polyline points="917.9,537.9 920.1,534 922.3,530.3 924.6,527.9 926.8,523.6 929.6,525.8 932.4,528.7 935.2,531 938,532.5 941,528.6 943.9,525.7 946.9,522.1 949.9,519.5 952.9,517.8 955.9,515.1 957.4,517.6 958.9,522.3 960.3,524.6 961.8,527.8 963.3,531.7 964.8,535.3 965.9,539.5 967,543 968.1,545.3 969.3,549 970.4,554.3 971.5,556.9 974.9,557.6 978.2,559.1 981.2,562.2 984.2,563.8 987.2,566 990.9,565.3 994.6,564.2 998.3,563.8 1000.5,567 1002.8,569.4 1005,573.9 1007.3,576.8 1007.9,572.9 1008.6,570.3 1009.2,566 1009.8,562.3 1010.4,560.1 1011.1,555.2 1011.7,552.1 1013.9,548.4 1016.2,545.2 1018.4,541.3" fill="none" stroke="#56B4E9" stroke-width="1.4" stroke-linejoin="round" />
<polyline points="1043,513.9 1047.5,516.6 1052,518.3 1053.5,515 1055,510.4 1056.5,506.5 1057.9,503.1 1059.4,499.7 1060.9,496 1062.9,492.5 1064.8,489.7 1066.8,486.3 1068.7,482.8 1070.7,479.5 1072.6,476.7 1074.5,471.8 1076.5,469.2 1079.5,471.3 1082.5,473.5 1085.5,475.9 1087.7,472.6 1090,470.1 1092.2,466.9 1096.7,466.5 1101.1,464.7 1104.1,462.4 1107.1,460.1 1110.1,458 1112.9,455.6 1115.7,453.7 1118.4,451.1 1121.2,449.1 1124.9,451.1 1128.7,451.8 1132.4,453.5 1135.1,457.1 1137.7,459.6 1140.4,463.6 1143,465.9 1145.7,469.2 1147.2,472.6 1148.7,475.3 1150.2,479.9 1151.7,483 1153.2,485.2 1154.7,489.3 1158.7,490.3 1162.6,491.5" fill="none" stroke="#56B4E9" stroke-width="1.7" stroke-linejoin="round" />
<polyline points="1043,510.8 1047.5,512.3 1052,515.5 1053.5,512.5 1055,507.9 1056.5,504.4 1057.9,499.9 1059.4,496.1 1060.9,493.3 1062.9,489.4 1064.8,487.6 1066.8,483.4 1068.7,479.2 1070.7,476.5 1072.6,474.5 1074.5,469.3 1076.5,466.7 1079.5,469.4 1082.5,471.6 1085.5,473.6 1087.7,470.5 1090,467.6 1092.2,464.1 1096.7,462.2 1101.1,460.2 1105.6,456.8 1110.1,455.5 1112.9,453 1115.7,450.5 1118.4,447.3 1121.2,445 1124.9,446.4 1128.7,447 1132.4,448.9 1134.6,451 1136.8,454.2 1139.1,457.2 1141.3,460.6 1143.5,464.6 1145.7,466.8 1147.2,471 1148.7,473.2 1150.2,477.6 1151.7,479.6 1153.2,484 1154.7,487.3 1158.7,489.6 1162.6,490.6" fill="none" stroke="#56B4E9" stroke-width="1.4" stroke-linejoin="round" />
<polyline points="1043,529.5 1046.7,527.8 1050.5,524.6 1054.2,522.8 1057,519.8 1059.8,515.3 1062.6,513 1065.4,509.4 1066.9,506.2 1068.4,501.5 1069.8,497.6 1071.3,494.1 1072.8,490.9 1074.3,487 1078,486 1081.8,483.8 1085.5,482.6 1088.6,479.6 1091.7,477 1094.9,474.1 1098,471.4 1101.1,469.2 1103.8,466.7 1106.5,464.3 1109.1,461.1 1111.8,458.1 1114.5,455.8 1118.2,453.6 1122,451.2 1125.7,449.1 1128.2,452 1130.7,455.2 1133.2,457.5 1135.7,460.2 1138.2,462.6 1140.7,465.6 1143.2,468 1145.7,471.4 1147.5,474.4 1149.3,478.1 1151.1,481.1 1152.9,484.4 1154.7,487 1158.7,488.4 1162.6,489" fill="none" stroke="#56B4E9" stroke-width="1.7" stroke-linejoin="round" />
<polyline points="1043,526 1046.7,524 1050.5,522.3 1054.2,521.1 1056.4,517.9 1058.7,515.5 1060.9,511.6 1063.2,509.2 1065.4,505.5 1067.2,501.7 1069,497.1 1070.7,493.4 1072.5,491.1 1074.3,486.5 1078,484.3 1081.8,481.9 1085.5,480 1088.1,477.7 1090.7,476 1093.3,472.7 1095.9,470.3 1098.5,467.9 1101.1,465.9 1103.8,462.2 1106.5,460.9 1109.1,458.2 1111.8,455.7 1114.5,453.1 1118.2,450.5 1122,448 1125.7,445.6 1128.2,448.9 1130.7,450.6 1133.2,455.3 1135.7,456.3 1138.2,460.8 1140.7,462.2 1143.2,466.4 1145.7,468.7 1147.5,471.4 1149.3,474.3 1151.1,478.7 1152.9,482.6 1154.7,485.2 1158.7,486.7 1162.6,486.6" fill="none" stroke="#56B4E9" stroke-width="1.4" stroke-linejoin="round" />
<polyline points="139.6,526 143.6,529.1 147.5,531 153,528 154.7,532.8 156.3,535.3 158,540" fill="none" stroke="#E69F00" stroke-width="1.7" stroke-linejoin="round" />
<polyline points="139.6,528.4 143.6,529.5 147.5,532.8 153,529.2 154.7,533.3 156.3,537.4 158,541.8" fill="none" stroke="#E69F00" stroke-width="1.4" stroke-linejoin="round" />
<polyline points="173.3,479.6 176.2,477.2 179.1,474.3 180.2,478.1 181.2,480.5 182.2,485 183.3,488.2 184.3,490.9 185.4,494.2 186.4,497.6 187.5,501.4 188.5,505.6 189.6,508.5 191.4,511.3 193.1,515.4 194.9,518.4 196.7,523.2 198.4,526.4 200.2,529.6" fill="none" stroke="#E69F00" stroke-width="1.7" stroke-linejoin="round" />
<polyline points="173.3,483.5 176.2,479.5 179.1,477.7 180.2,480.5 181.2,484.7 182.2,489.2 183.3,491 184.3,495.3 185.4,497.7 186.4,502.8 187.5,505.4 188.5,509 189.6,512.5 191.4,516.3 193.1,518.6 194.9,523.4 196.7,527 198.4,530.6 200.2,533.3" fill="none" stroke="#E69F00" stroke-width="1.4" stroke-linejoin="round" />
<polyline points="218.6,532 220.3,528 222.1,524.2 223.8,520.5 225.6,518 227.3,513.6 229.1,510 230.4,506.5 231.7,503.4 233.1,500.3 234.4,496.4 235.7,493.1 237,490 238.3,494.2 239.7,497.9 241,500.9 242.3,505 245.8,506 249.3,509 252.8,510" fill="none" stroke="#E69F00" stroke-width="1.7" stroke-linejoin="round" />
<polyline points="218.6,534.3 220.3,530.7 222.1,527.9 223.8,524.1 225.6,522.1 227.3,518.2 229.1,514.5 230.4,510.7 231.7,507.5 233.1,503.7 234.4,500 235.7,496.1 237,492.4 238.3,496 239.7,499.5 241,503.7 242.3,506.6 245.8,507.4 249.3,510.2 252.8,511.1" fill="none" stroke="#E69F00" stroke-width="1.4" stroke-linejoin="round" />
<polyline points="268.6,475 270.5,477.7 272.4,481.6 274.2,483.3 276.1,487 278,490 281.9,491.2 285.8,493 289.7,494 294.9,493.5 300,494 301.4,497.1 302.7,500.4 304.1,504.6 305.4,508.1 306.8,510.7 308.1,515" fill="none" stroke="#E69F00" stroke-width="1.7" stroke-linejoin="round" />
<polyline points="268.6,472.1 271,474.8 273.3,478.9 275.6,481.3 278,485.6 281.9,487.1 285.8,489 289.7,491.3 293.1,490.8 296.6,490.8 300,489.1 301.4,493.1 302.7,497.1 304.1,499.4 305.4,503.7 306.8,507.6 308.1,511.1" fill="none" stroke="#E69F00" stroke-width="1.4" stroke-linejoin="round" />
<polyline points="326.2,523.2 327.7,519.4 329.2,517.1 330.7,512.8 332.2,508.9 333.7,505.9 336.9,507.6 340.2,510.2 341.6,505.8 343,503.4 344.4,498.5 345.7,496 347.1,491.3 348.5,488 349.9,484.4 351.7,487.7 353.4,491 355.2,495.1 358.4,492.7 361.7,490.8 362.6,495 363.6,498.2 364.5,501.9 365.4,505.7 366.3,508.5 367.3,513.1 368.2,516.7 371.2,521.3 374.2,525.3" fill="none" stroke="#E69F00" stroke-width="1.7" stroke-linejoin="round" />
<polyline points="326.2,524.1 327.7,519.7 329.2,518.1 330.7,514.4 332.2,511.1 333.7,506.7 336.9,510.5 340.2,513.4 341.6,510 343,507.1 344.4,501.8 345.7,498.2 347.1,494.1 348.5,490.5 349.9,487.5 351.7,491.4 353.4,493.1 355.2,497.2 358.4,494.7 361.7,491.2 362.6,494.8 363.6,499.7 364.5,503.3 365.4,507 366.3,511.2 367.3,513.3 368.2,518.2 370.2,520.9 372.2,524.4 374.2,527.9" fill="none" stroke="#E69F00" stroke-width="1.4" stroke-linejoin="round" />
<polyline points="391.4,542.5 393.7,545.1 395.9,548.2 398.2,551.2 400.5,553.3 402.6,550.5 404.8,547.5 407,543.9 409.1,540.4 410.5,543.8 412,547.6 413.4,551.5 414.8,555.2 416.3,558.1 417.7,561.9 419.4,565.1 421.2,569 422.9,571.8 424.7,576.4 426.4,579.2 427.7,582.3 429,587.2 430.2,590.8 431.5,594.2 432.8,598.6 434.2,594.4 435.7,589.9 437.1,585.6" fill="none" stroke="#E69F00" stroke-width="1.7" stroke-linejoin="round" />
<polyline points="391.4,544.4 393.7,548.1 395.9,550.5 398.2,555.1 400.5,557.9 402.6,554.8 404.8,552.2 407,547.9 409.1,545 410.5,548.3 412,553.3 413.4,556.4 414.8,559.5 416.3,563.6 417.7,567.1 419.4,570.3 421.2,574 422.9,577 424.7,579.8 426.4,583.5 427.7,588.1 429,591.5 430.2,594.8 431.5,597.4 432.8,601.4 433.9,597.3 435,595.1 436,591.8 437.1,587.7" fill="none" stroke="#E69F00" stroke-width="1.4" stroke-linejoin="round" />
<polyline points="391.4,544.7 393.7,547.6 395.9,549.6 398.2,553.2 400.5,555.5 403.4,552.7 406.2,549.6 409.1,546.9 410.3,550.4 411.6,553.6 412.8,557.3 414,560.8 415.2,564.6 416.5,566.6 417.7,570.6 419.9,574.5 422,578.8 424.2,582.1 426.4,585.6 427.7,589.2 429,593.1 430.2,595.2 431.5,599.9 432.8,602.9 434.2,599.5 435.7,595.8 437.1,592.1" fill="none" stroke="#E69F00" stroke-width="1.7" stroke-linejoin="round" />
<polyline points="391.4,546.3 393.7,549.7 395.9,551.9 398.2,554.9 400.5,558.6 403.4,555.3 406.2,551.4 409.1,547.6 410.2,551.5 411.2,554.2 412.3,556.9 413.4,560.6 414.5,565.4 415.6,568 416.6,571.8 417.7,574.4 419.9,577.5 422,580.2 424.2,582.6 426.4,586.4 427.5,589.6 428.5,593.1 429.6,596.3 430.7,600.4 431.7,603.7 432.8,607 434.2,603.9 435.7,599.1 437.1,595.3" fill="none" stroke="#E69F00" stroke-width="1.4" stroke-linejoin="round" />
<polyline points="455.4,546.9 456.9,543 458.4,540.3 460,536.4 461.5,533.4 463,529.6 464.3,533.1 465.6,536.7 466.8,540.8 468.1,545.2 469.4,549 470.9,545 472.5,541.9 474,537.5 475.6,534.5 477.1,531.2 478.7,527.5 480.2,523.2 484.5,524.6 488.8,527.5 492.1,523.6 495.3,521 499.6,520 503.9,518.8" fill="none" stroke="#E69F00" stroke-width="1.7" stroke-linejoin="round" />
<polyline points="455.4,543.9 457.3,540.1 459.2,537.3 461.1,533.3 463,528.9 464.3,531.6 465.6,536.3 466.8,538.9 468.1,541.9 469.4,545.9 470.8,541.7 472.1,539.9 473.4,536.3 474.8,532.5 476.1,530.4 477.5,525.8 478.8,523.1 480.2,520 483.1,521.3 485.9,524.1 488.8,526.7 491,524.6 493.1,520.7 495.3,517.8 499.6,517.5 503.9,518.8" fill="none" stroke="#E69F00" stroke-width="1.4" stroke-linejoin="round" />
<polyline points="455.4,553.3 457.3,549.7 459.2,547.1 461.1,543.3 463,540.4 464.3,544.5 465.6,546.6 466.8,551.3 468.1,554.4 469.4,557.6 471.2,554.9 473,550.9 474.8,547.2 476.6,544.1 478.4,541.6 480.2,538.2 484.5,535.3 488.8,533.9 492.1,531.1 495.3,529.6 498.2,527.9 501,525.9 503.9,523.2" fill="none" stroke="#E69F00" stroke-width="1.7" stroke-linejoin="round" />
<polyline points="455.4,550.3 457.9,545.9 460.5,542.5 463,538.7 464.3,541.2 465.6,546.4 466.8,548.8 468.1,552.4 469.4,555.2 471.2,552.8 473,548 474.8,546.1 476.6,542.9 478.4,538.1 480.2,535.3 484.5,532 488.8,530.4 492.1,528.1 495.3,524.5 498.2,523.3 501,521.1 503.9,518.4" fill="none" stroke="#E69F00" stroke-width="1.4" stroke-linejoin="round" />
<polyline points="521.2,508.1 522.9,504.5 524.6,501.3 526.4,497.1 528.1,493.8 529.8,490.8 531.4,493.9 533,497.7 534.6,499.9 536.2,503.8 539.8,506.6 543.4,507.3 547,510.2 549.9,514.6 552.7,517 555.6,521 558.3,525.8 561,529.6 561.8,526.4 562.5,523 563.3,518.5 564.1,515.2 564.9,510.8 565.6,508 566.4,503.8 569.6,501.6" fill="none" stroke="#E69F00" stroke-width="1.7" stroke-linejoin="round" />
<polyline points="521.2,504.4 522.9,501.6 524.6,498.1 526.4,494.5 528.1,490.2 529.8,488 531.9,492.5 534.1,495 536.2,498.8 539.8,502.2 543.4,503 547,506.5 549.9,509.4 552.7,513.6 555.6,516 557.4,518.8 559.2,522.5 561,525.2 561.8,520.5 562.5,518.4 563.3,513.6 564.1,510.9 564.9,506.4 565.6,502.7 566.4,499.2 569.6,499.9" fill="none" stroke="#E69F00" stroke-width="1.4" stroke-linejoin="round" />
<polyline points="587.1,534.9 590.2,536 593.2,538.6 596.3,540.2 598.3,543.5 600.2,546.8 602.2,549.4 604.2,553.3 608.2,554.3 612.1,556 616,552.7 620,550.7 624,553.9 627.9,556 629,552.8 630.1,549 631.2,545.2 632.3,541.5 633.4,538 634.5,534.9 635.8,532.3" fill="none" stroke="#E69F00" stroke-width="1.7" stroke-linejoin="round" />
<polyline points="587.1,538 590.2,539 593.2,541.4 596.3,544.3 598.3,548.5 600.2,550.3 602.2,554.2 604.2,556.9 608.2,558.5 612.1,559.7 614.7,556.8 617.4,554.2 620,551.7 622.6,554.4 625.3,557.8 627.9,559.2 629,555.7 630.1,552.7 631.2,548.1 632.3,545.4 633.4,541.6 634.5,537.8 635.8,536.5" fill="none" stroke="#E69F00" stroke-width="1.4" stroke-linejoin="round" />
<polyline points="654.3,540.2 655.6,537.1 656.9,533.8 658.2,529 659.6,526.9 660.9,522.8 662.2,519.1 663.5,515.2 664.8,512 666.2,507.9 667.5,504.6 668.8,502.1 670.1,498 671.2,495 672.4,491.8 673.5,487.3 674.6,483.8 675.7,480.9 676.9,477.7 678,474.3 680.6,477.3 683.3,479.2 685.9,482.2 688.5,479.9 691.2,477.1 693.8,474.3 697.3,472.2 700.8,471.2 704.3,469 707,471 709.6,474.3" fill="none" stroke="#E69F00" stroke-width="1.7" stroke-linejoin="round" />
<polyline points="654.3,535.4 655.6,531.9 656.9,529.7 658.2,525.5 659.6,521.8 660.9,519.8 662.2,515.8 663.5,512.7 664.8,509.1 666.2,504.4 667.5,501.8 668.8,499 670.1,494.6 671.4,491.8 672.7,488.2 674,484.1 675.4,479.6 676.7,475.2 678,472.6 680.6,475 683.3,477 685.9,480.7 688.5,478.2 691.2,473.8 693.8,471.1 697.3,468.4 700.8,465.3 704.3,464.1 707,468 709.6,472.4" fill="none" stroke="#E69F00" stroke-width="1.4" stroke-linejoin="round" />
<polyline points="728,529.6 731.5,531.7 735.1,533.8 738.6,534.9 741.8,533.4 744.9,531.4 748.1,527.8 751.2,526.1 754.4,524.4 756.7,521.5 759,519.1 761.3,516.4 763.6,513.8 765.2,517.6 766.9,521.5 768.6,524.9 770.2,529.6 774.2,526.9 778.1,524.4 780.1,528.4 782,531 784,534.5 786,537.5 788.4,533.9 790.7,531.1 793.1,528 795.4,524.2 797.8,521.7" fill="none" stroke="#E69F00" stroke-width="1.7" stroke-linejoin="round" />
<polyline points="728,525.7 731.5,528.7 735.1,531.5 738.6,533.7 741.8,531 744.9,529.6 748.1,527.2 751.2,523.3 754.4,521.7 757.5,519.7 760.5,515.6 763.6,513 765.2,516.3 766.9,520.3 768.6,523.5 770.2,525.8 774.2,522.8 778.1,521.3 780.1,523.5 782,528.3 784,530.4 786,533.8 788.4,529.8 790.7,528.6 793.1,524.3 795.4,520.9 797.8,518.2" fill="none" stroke="#E69F00" stroke-width="1.4" stroke-linejoin="round" />
<polyline points="817.6,511.2 820.2,513.8 822.9,516.1 825.5,518.4 828.1,521.7 832,522.4 836,524.4 837.3,527.1 838.6,530.3 839.9,534.9 841.2,537.1 842.6,540.5 843.9,544.4 845.2,546.9 846.5,550.7 847.8,555 849.1,558.1 850.5,561.7 851.8,564.8 853.1,568.6 854.4,571.8 855.7,576.3 857,579.2 858.4,583.9 859.7,587.6 860.5,583.5 861.2,580.7 862,575.9 862.7,572.8 863.5,568.2 864.2,565.3 865,561.2 867.6,564.1 870.2,567.4 872.9,570.8 875.5,574.4 879,573.3 882.5,573.5 886,571.8 889.5,574.2 893.1,577.1 896.6,579.7" fill="none" stroke="#E69F00" stroke-width="1.7" stroke-linejoin="round" />
<polyline points="817.6,514 820.2,516.8 822.9,519.7 825.5,524.5 828.1,526.8 832,527.5 836,528.9 837.3,531.3 838.6,536.5 839.9,538.8 841.2,542.4 842.6,545 843.9,547.8 845.2,551.5 846.5,555.2 847.8,559.3 849.1,561.5 850.5,566.3 851.8,568.4 853.1,573.1 854.4,575.7 855.7,578.4 857,582.4 858.4,585.2 859.7,589.4 860.5,585.2 861.2,582.5 862,578.7 862.7,575.6 863.5,571.4 864.2,568.1 865,565 867.6,567.8 870.2,572.3 872.9,573.7 875.5,577.8 879,576.6 882.5,576.6 886,574.8 889.5,577.7 893.1,579.7 896.6,583" fill="none" stroke="#E69F00" stroke-width="1.4" stroke-linejoin="round" />
<polyline points="917.9,538.4 920.1,542.2 922.4,543.8 924.6,547.4 928,549 931.3,551.8 934.6,553.3 938,556.3 940.2,553.2 942.5,550.9 944.7,547.4 949.2,545.4 953.6,544 955.9,547.3 958.1,551.7 960.4,554.2 962.6,558.5 965.6,560.7 968.5,564.8 971.5,567.5 973.7,569.6 976,573.1 978.2,575.3 980.4,578.7 983.8,582.2 987.2,585.4 990.5,582.6 993.9,578.7 998.3,577.5 1002.8,576.4 1009.5,576.4 1011,572.3 1012.5,569.2 1014,565.6 1015.4,560.8 1016.9,557.4 1018.4,554.1" fill="none" stroke="#E69F00" stroke-width="1.7" stroke-linejoin="round" />
<polyline points="917.9,541.8 921.2,545.8 924.6,549.7 928,553.2 931.3,556.8 938,558.1 941.4,554.1 944.7,551.9 947.7,550.3 950.6,547.8 953.6,545.2 955.4,548.7 957.2,551.1 959,555.9 960.8,559.3 962.6,562.6 965.6,565.6 968.5,567.3 971.5,569.4 973.7,573 976,576.5 978.2,579.9 980.4,583 983.8,586.6 987.2,589 989.4,586.6 991.7,583.1 993.9,580.2 998.3,579.3 1002.8,577.6 1009.5,579.2 1011,574.9 1012.5,571.8 1014,567.7 1015.4,565.8 1016.9,561 1018.4,558" fill="none" stroke="#E69F00" stroke-width="1.4" stroke-linejoin="round" />
<polyline points="1043,554.1 1047.5,554.9 1051.9,555.3 1056.4,556.3 1060.9,556.5 1065.3,555.5 1069.8,556.3 1070.5,552.8 1071.1,548.6 1071.8,546.3 1072.5,541.4 1073.2,538.4 1073.8,534.6 1074.5,531.3 1075.2,527.8 1075.8,523.8 1076.5,520.6 1078,516.6 1079.5,512.8 1081,509 1082.5,506.5 1084,501.7 1085.5,498.2 1088.5,495.8 1091.4,492.2 1094.4,489.3 1098.9,488.2 1103.4,487 1105.6,483.5 1107.8,480.7 1110.1,478.8 1112.3,475.9 1113.8,472.7 1115.3,468.9 1116.8,466 1118.2,462.9 1119.7,459.5 1121.2,455.8 1124.2,452.6 1127.2,449.6 1130.2,446.8 1133,450.5 1135.8,453.6 1138.5,457.4 1141.3,460.2 1143.5,463.8 1145.8,467 1148,471.4 1149.7,475.4 1151.3,478.6 1153,482.8 1154.7,487 1158.7,484.1 1162.6,482.6" fill="none" stroke="#E69F00" stroke-width="1.7" stroke-linejoin="round" />
<polyline points="1043,557.7 1047.5,558.4 1051.9,557.1 1056.4,557.8 1060.9,557.9 1065.3,559.9 1069.8,560.6 1070.5,557.4 1071.1,553.5 1071.8,548.9 1072.5,545.2 1073.2,542.2 1073.8,539.3 1074.5,535.9 1075.2,531.2 1075.8,528.5 1076.5,523.9 1077.8,520.7 1079.1,516.3 1080.4,512.7 1081.6,509.8 1082.9,506.6 1084.2,502 1085.5,498.7 1088.5,495.9 1091.4,493.1 1094.4,489.9 1098.9,490.1 1103.4,489.3 1105.6,486.1 1107.8,483.2 1110.1,480.1 1112.3,477.7 1114.1,474.8 1115.9,471.1 1117.6,466.9 1119.4,462.5 1121.2,458.9 1124.2,455.8 1127.2,454.2 1130.2,450.6 1133,453.5 1135.8,455.6 1138.5,458.4 1141.3,462.4 1143.5,466.1 1145.8,468.9 1148,472.3 1149.3,476.6 1150.7,479.4 1152,482.5 1153.4,487.3 1154.7,489.8 1158.7,486.4 1162.6,483.6" fill="none" stroke="#E69F00" stroke-width="1.4" stroke-linejoin="round" />
<polyline points="139.6,524.4 143.6,527.4 147.5,529.6 152.8,532.3 153.8,535.2 154.9,539.8 155.9,541.8 157,545.3 158,549.4" fill="none" stroke="#D55E00" stroke-width="1.7" stroke-linejoin="round" />
<polyline points="139.6,526.8 143.6,530.1 147.5,532.2 152.8,535.4 154.1,538.2 155.4,543.9 156.7,546.6 158,550.9" fill="none" stroke="#D55E00" stroke-width="1.4" stroke-linejoin="round" />
<polyline points="173.3,474.3 176.2,471.9 179.1,469 180.4,472 181.8,476 183.1,478.7 184.4,482.2 185.3,485.9 186.1,488.9 187,493.3 187.9,496.7 188.7,499.3 189.6,503.3 190.8,507.2 192,511 193.1,513.4 194.3,516.8 195.5,521.5 196.7,525.1 197.8,527.3 199,531.8 200.2,534.9" fill="none" stroke="#D55E00" stroke-width="1.7" stroke-linejoin="round" />
<polyline points="173.3,477.1 176.2,474.7 179.1,472.6 180.9,476 182.6,479.9 184.4,483.7 185.3,487.1 186.1,491.6 187,496.5 187.9,498.7 188.7,503 189.6,507.6 190.8,510.8 192,513.6 193.1,518.1 194.3,522.5 195.5,526.3 196.7,529.2 197.8,532.8 199,534.9 200.2,539.4" fill="none" stroke="#D55E00" stroke-width="1.4" stroke-linejoin="round" />
<polyline points="218.6,534.9 220.1,530.9 221.6,528.1 223.1,524.7 224.6,521.6 226.1,517.7 227.6,514.7 229.1,511.2 230.1,507 231.1,504.1 232.1,500.5 233.1,496.5 234,493.8 235,489.7 236,485.9 237,482.2 238.3,486.7 239.7,490.4 241,494.6 242.3,498 243.6,502.6 244.9,505.9 246.3,509.9 247.6,513.8 252.8,513.8" fill="none" stroke="#D55E00" stroke-width="1.7" stroke-linejoin="round" />
<polyline points="218.6,538.8 220.1,535.7 221.6,531.8 223.1,529.2 224.6,524.9 226.1,521.4 227.6,518 229.1,515.2 230.1,512.1 231.1,508 232.1,503.8 233.1,500.7 234,497.6 235,493.6 236,490.6 237,486.8 238.8,491.8 240.5,495.5 242.3,499.4 243.4,503.9 244.4,506.7 245.5,511.8 246.5,515.9 247.6,518.8 252.8,516.5" fill="none" stroke="#D55E00" stroke-width="1.4" stroke-linejoin="round" />
<polyline points="268.6,470.4 270.6,474.1 272.6,476.9 274.5,480.6 276.5,484.9 277.8,488.6 279.1,492 280.5,495.1 281.8,498 285.8,495.4 289.7,492.8 293.6,492.9 297.6,492.8 299.2,495.3 300.8,499.2 302.3,503 303.9,504.9 305.5,508.5 306.4,513.1 307.2,517.9 308.1,521.7" fill="none" stroke="#D55E00" stroke-width="1.7" stroke-linejoin="round" />
<polyline points="268.6,473.6 270.6,476.6 272.6,480.4 274.5,484.7 276.5,488.6 277.8,492.4 279.1,494.9 280.5,498.2 281.8,501.8 285.8,499.3 289.7,495.3 293.6,494.9 297.6,493.3 299.2,496.8 300.8,500.2 302.3,504.9 303.9,508.6 305.5,512.5 306.4,515.7 307.2,519.5 308.1,523.6" fill="none" stroke="#D55E00" stroke-width="1.4" stroke-linejoin="round" />
<polyline points="326.2,529.6 327.3,525.7 328.3,522.1 329.4,519.3 330.5,515.1 331.6,511.8 332.6,507.6 333.7,503.8 336.6,508.1 339.4,510.7 342.3,514.5 343.4,510.7 344.5,508.1 345.6,504.2 346.6,501.3 347.7,498.2 348.8,493.4 349.9,490.8 351.2,494 352.5,497.4 353.9,499.9 355.2,503.8 357.4,500.3 359.5,498.5 361.7,495.1 362.5,498.6 363.3,501.7 364.1,505.8 364.9,509.6 365.8,512.8 366.6,515.5 367.4,519.7 368.2,523.2 370.2,527.2 372.2,530.3 374.2,533.9" fill="none" stroke="#D55E00" stroke-width="1.7" stroke-linejoin="round" />
<polyline points="326.2,532.5 327.3,528.9 328.3,525.7 329.4,521.7 330.5,518.1 331.6,514.9 332.6,511 333.7,508.2 336.6,509.9 339.4,512 342.3,515.5 343.6,511.9 344.8,509.5 346.1,506.1 347.4,502.3 348.6,498.4 349.9,495.3 351.7,499.4 353.4,501.6 355.2,505.7 358.4,503.4 361.7,499.8 362.6,503.3 363.6,506.2 364.5,510.3 365.4,515 366.3,517.7 367.3,522.3 368.2,525.6 370.2,529.8 372.2,532.4 374.2,537.3" fill="none" stroke="#D55E00" stroke-width="1.4" stroke-linejoin="round" />
<polyline points="391.4,555.5 393.7,558.7 395.9,562.5 398.2,566.5 400.4,568.6 402.7,572.7 404.3,569.1 405.9,565.5 407.5,560.9 409.1,557.6 410.5,561.9 412,565.4 413.4,567.8 414.8,572.6 416.3,575.2 417.7,579.2 419,583.5 420.3,587.5 421.6,590.1 422.9,594.3 424.2,598.6 425.3,602.1 426.3,605.2 427.4,609.5 428.5,612.4 429.6,614.8 430.6,618.8 431.7,622.3 433.1,618.2 434.4,614.3 435.8,611.2 437.1,607.2" fill="none" stroke="#D55E00" stroke-width="1.7" stroke-linejoin="round" />
<polyline points="391.4,559.7 393.7,562.8 395.9,566.1 398.2,569.4 400.4,573.1 402.7,576.2 404.3,571.3 405.9,568.4 407.5,565.2 409.1,560.3 410.5,563 412,568.5 413.4,571 414.8,574.5 416.3,580.1 417.7,583 419,587.9 420.3,590.1 421.6,594.8 422.9,599.8 424.2,602.7 425.3,606.3 426.3,609.8 427.4,612.1 428.5,616.7 429.6,619 430.6,623.9 431.7,626.6 432.8,623.4 433.9,620.5 434.9,615.3 436,612.5 437.1,609.5" fill="none" stroke="#D55E00" stroke-width="1.4" stroke-linejoin="round" />
<polyline points="391.4,553.3 394.4,556.1 397.5,557.7 400.5,559.8 404.1,560.3 407.7,560.4 411.3,561.9 412.5,565.9 413.7,568.7 414.9,572 416.1,577.1 417.2,579.6 418.4,583.2 419.6,587.1 420.8,590.7 422,594.3 423.2,598.2 424.4,600.7 425.6,604.4 426.9,608.7 428.1,611.8 429.3,614.8 430.5,619.4 431.7,622.3 433.5,618.9 435.3,615.8 437.1,611.5" fill="none" stroke="#D55E00" stroke-width="1.7" stroke-linejoin="round" />
<polyline points="391.4,552 394.4,553.3 397.5,554.8 400.5,557.3 404.1,558 407.7,558.3 411.3,560.3 412.5,562.7 413.7,568 414.9,571.4 416.1,574.8 417.2,577.2 418.4,580.9 419.6,584.5 420.8,588.5 422,591.3 423.2,594.2 424.4,598.1 425.6,601.5 426.9,605.5 428.1,607.8 429.3,610.4 430.5,614.7 431.7,618.3 433.5,615.3 435.3,610 437.1,606.9" fill="none" stroke="#D55E00" stroke-width="1.4" stroke-linejoin="round" />
<polyline points="455.4,572.7 457.2,576.5 459,579.3 460.8,583.5 461.7,586.5 462.7,590.5 463.6,593 464.5,597 465.4,600.6 466.4,603.6 467.3,607.2 469.4,604.4 471.6,601.3 473.8,597.2 475.9,594.3 476.6,591.1 477.3,587.5 478.1,583.7 478.8,580 479.5,576.4 480.2,573.1 481,569.4 481.7,565.1 482.4,561.9 486.7,561.1 491,559.8 492.6,556.9 494.2,553.3 495.9,550.8 497.5,546.9 503.9,544.7" fill="none" stroke="#D55E00" stroke-width="1.7" stroke-linejoin="round" />
<polyline points="455.4,574.6 457.2,577.5 459,582.4 460.8,585.5 461.7,588.4 462.7,593.5 463.6,596.9 464.5,600.4 465.4,602.3 466.4,606.7 467.3,610 469.4,606.1 471.6,603.4 473.8,600 475.9,597.2 476.6,593.3 477.3,589.2 478.1,586.1 478.8,583.8 479.5,580.5 480.2,576.4 481,573 481.7,570.3 482.4,566 486.7,564.3 491,563 492.6,559.9 494.2,556.2 495.9,552.8 497.5,550.2 500.7,548.6 503.9,547.1" fill="none" stroke="#D55E00" stroke-width="1.4" stroke-linejoin="round" />
<polyline points="455.4,577 456.8,580.5 458.1,583.3 459.4,587.1 460.8,590 462.1,593.3 463.4,597 464.7,601.3 466,605.1 467.3,609.3 470.2,607.1 473,603.5 475.9,600.7 476.8,597.7 477.6,592.8 478.5,590.5 479.3,585.6 480.2,582.6 481.1,578.5 481.9,575.6 482.8,571.8 483.6,568 484.5,564.1 488.9,562.7 493.2,561.9 495.3,559.4 497.5,555.4 499.6,552.1 501.8,549.7 503.9,546.9" fill="none" stroke="#D55E00" stroke-width="1.7" stroke-linejoin="round" />
<polyline points="455.4,575.4 457.2,579.8 459,583.7 460.8,587.4 462.1,590.5 463.4,593.9 464.7,598.2 466,602.3 467.3,605.4 470.2,602.7 473,599.6 475.9,596.2 476.8,593.5 477.6,589.7 478.5,585.4 479.3,582.5 480.2,578.8 481.1,574.5 481.9,570.6 482.8,567.5 483.6,564.7 484.5,560.7 488.9,560 493.2,558.2 495.3,554.7 497.5,552.1 499.6,548 501.8,546.1 503.9,542.7" fill="none" stroke="#D55E00" stroke-width="1.4" stroke-linejoin="round" />
<polyline points="521.2,516.7 522.6,513 524.1,509.9 525.5,506.5 526.9,501.6 528.4,499.4 529.8,495.1 531.5,498 533.2,502.8 535,506.3 536.7,508.5 538.4,512.4 541.3,514.2 544.1,516.1 547,518.8 549.1,523.2 551.3,526.8 553.5,530.9 555.6,533.9 561,538.3 561.7,535 562.4,530.5 563,527.4 563.7,523 564.4,519.2 565,515.5 565.7,512.2 566.4,508.1 569.6,503.8" fill="none" stroke="#D55E00" stroke-width="1.7" stroke-linejoin="round" />
<polyline points="521.2,520.9 522.4,518.4 523.7,515.2 524.9,511.3 526.1,508.4 527.3,503.2 528.6,500.5 529.8,497.1 531.5,501.2 533.2,503.5 535,507.5 536.7,509.4 538.4,513.5 541.3,516 544.1,520.7 547,523.7 549.1,528.3 551.3,530.5 553.5,534.8 555.6,538.1 561,541.6 561.6,537.9 562.2,535.6 562.8,532 563.4,528.2 564,524.2 564.6,519.7 565.2,517.4 565.8,513.2 566.4,510.2 569.6,508.2" fill="none" stroke="#D55E00" stroke-width="1.4" stroke-linejoin="round" />
<polyline points="587.1,540.2 591.1,540.2 595,539.6 599,540.2 600,544 601.1,548 602.1,551.8 603.2,555 604.2,558.6 608.2,560.7 612.1,563.9 616,563.2 620,561.2 624,561.1 627.9,561.2 631.8,559.2 635.8,558.6" fill="none" stroke="#D55E00" stroke-width="1.7" stroke-linejoin="round" />
<polyline points="587.1,541.4 591.1,542.5 595,542.7 599,542.8 600,545.8 601.1,550.4 602.1,554.1 603.2,556.7 604.2,561.3 608.2,562.9 612.1,564.8 616,564.2 620,562.2 624,562.6 627.9,563.3 631.8,561.6 635.8,558.9" fill="none" stroke="#D55E00" stroke-width="1.4" stroke-linejoin="round" />
<polyline points="654.3,537.5 655.4,533.6 656.5,531.3 657.6,527.3 658.7,523.6 659.8,519.2 660.9,516.5 662.2,512.5 663.5,508.2 664.8,505.1 666.2,500.9 667.5,497.2 668.8,493.6 670.1,490.1 671.7,486.4 673.3,483.4 674.8,480.6 676.4,476.9 678,474.3 682,475.7 685.9,477 689.8,475.1 693.8,471.7 696.9,469.9 699.9,468 703,465.1 706.3,466.4 709.6,469" fill="none" stroke="#D55E00" stroke-width="1.7" stroke-linejoin="round" />
<polyline points="654.3,533.2 655.4,528.7 656.5,526.4 657.6,521.8 658.7,519.8 659.8,515.4 660.9,512.5 662.2,507.8 663.5,504.5 664.8,502.2 666.2,497.9 667.5,493.1 668.8,491.2 670.1,486.4 672.1,482.7 674,479.6 676,476.1 678,471.5 682,473.7 685.9,475.5 689.8,473.1 693.8,469.3 698.4,466.3 703,464.5 709.6,465.6" fill="none" stroke="#D55E00" stroke-width="1.4" stroke-linejoin="round" />
<polyline points="728,529.6 731.5,530.8 735.1,531.7 738.6,532.3 741.8,531.2 744.9,529.4 748.1,527.8 751.2,525.3 754.4,524.4 757.5,521.3 760.5,517.5 763.6,515.1 764.8,518.9 765.9,521.7 767,525.8 768.2,529.7 769.4,532.4 770.5,536 771.6,539.8 772.8,542.8 774.8,539.8 776.8,536.3 778.7,533.3 780.7,529.6 782.7,533 784.7,535.4 786.6,539.5 788.6,542.8 793.2,541.6 797.8,540.2" fill="none" stroke="#D55E00" stroke-width="1.7" stroke-linejoin="round" />
<polyline points="728,532.4 731.5,532.8 735.1,533.1 738.6,533.9 741.8,532 744.9,529.3 748.1,527.9 751.2,526.9 754.4,525 757.5,522.2 760.5,518.2 763.6,516 764.6,519.5 765.6,522.1 766.7,526.5 767.7,528.8 768.7,533.7 769.7,537.2 770.8,540.1 771.8,544.1 772.8,546.7 774.8,544.2 776.8,540.5 778.7,537.6 780.7,533.5 782.7,536 784.7,538.9 786.6,543.8 788.6,546 793.2,545.1 797.8,542.6" fill="none" stroke="#D55E00" stroke-width="1.4" stroke-linejoin="round" />
<polyline points="817.6,516.5 820.2,519.1 822.9,521.9 825.5,523.8 828.1,527 832,525.9 836,524.4 837.3,528.6 838.6,532.4 839.9,535.3 841.2,539.3 842.6,543.2 843.9,546.4 845.2,549 846.5,553.3 847.6,556.4 848.8,559.9 849.9,563.5 851,566.5 852.1,569.8 853.3,573.6 854.4,577 855.5,580.6 856.5,585.1 857.6,587.9 858.6,592 859.7,595.5 860.2,591.2 860.8,587.7 861.3,584.3 861.8,580 862.4,576.4 862.9,573.3 863.4,570 863.9,566 864.5,561.7 865,558.6 866.8,562 868.5,565 870.2,569.5 872,571.9 873.8,575.5 875.5,579.7 879,579.2 882.5,579 886,579.7 889.5,581.8 893.1,584.8 896.6,587.6" fill="none" stroke="#D55E00" stroke-width="1.7" stroke-linejoin="round" />
<polyline points="817.6,518.2 820.2,520.2 822.9,522.9 825.5,526.6 828.1,529.7 832,529.1 836,528.8 837.3,531.3 838.6,535.3 839.9,539.5 841.2,543.1 842.6,546.5 843.9,549.6 845.2,551.4 846.5,555.7 847.6,558.9 848.8,562.6 849.9,565.2 851,570.4 852.1,572.8 853.3,577.4 854.4,580.3 855.5,584.1 856.5,586.6 857.6,590.2 858.6,593.8 859.7,597.3 860.3,592.8 860.9,588.6 861.5,585.7 862.1,581.4 862.6,577.7 863.2,575 863.8,571.1 864.4,566.5 865,562.9 866.8,565 868.5,569.9 870.2,571.9 872,574.8 873.8,579.4 875.5,582 879,583 882.5,581.6 886,582.1 888.6,584.7 891.3,587.9 894,589.5 896.6,591.9" fill="none" stroke="#D55E00" stroke-width="1.4" stroke-linejoin="round" />
<polyline points="917.9,542.9 920.1,546.4 922.4,549.8 924.6,554.1 929,554.4 933.5,556.3 936.9,560.3 940.2,563 942.4,559.8 944.7,555 946.9,551.8 950.2,549.8 953.6,547.4 955.4,550 957.2,554 959,556.6 960.8,560.2 962.6,563 964.8,566.1 967.1,568.3 969.3,572 973.8,574.3 978.2,576.4 979.8,579.8 981.3,582 982.9,585.1 984.4,588.6 986,592.1 987.9,589.5 989.7,586.9 991.6,583.1 996.1,581.9 1000.6,580.9 1005,582.6 1009.5,583.1 1010.8,579.9 1012,575.7 1013.3,572.5 1014.6,569.6 1015.9,565.5 1017.1,562 1018.4,558.5" fill="none" stroke="#D55E00" stroke-width="1.7" stroke-linejoin="round" />
<polyline points="917.9,540.9 920.1,544.5 922.4,548.1 924.6,552.4 929,554.6 933.5,554.8 936.9,558.1 940.2,562 941.9,558.1 943.5,555.9 945.2,551.2 946.9,549.1 950.2,547 953.6,545.5 955.4,548.7 957.2,552.4 959,554.4 960.8,557 962.6,561 966,565.9 969.3,568.6 972.3,569.9 975.2,573.2 978.2,575.8 979.8,579.1 981.3,583.4 982.9,585.3 984.4,588.3 986,592.1 987.9,588.1 989.7,584.8 991.6,581.5 996.1,579.4 1000.6,578.7 1005,580.6 1009.5,580.8 1010.8,577.3 1012,574.4 1013.3,569.9 1014.6,567.3 1015.9,564.4 1017.1,559.4 1018.4,556.5" fill="none" stroke="#D55E00" stroke-width="1.4" stroke-linejoin="round" />
<polyline points="1043,565.3 1047.5,564.9 1052,563 1056.5,563.8 1060.9,565.3 1063.1,568.6 1065.4,571.9 1067.6,574.2 1068.4,570.7 1069.2,568 1070,563.7 1070.8,560.3 1071.6,557.6 1072.5,553.6 1073.3,549.3 1074.1,546 1074.9,543.2 1075.7,539.4 1076.5,536.2 1077.5,531.8 1078.5,529.3 1079.5,524.8 1080.5,522 1081.5,517.4 1082.5,513.4 1083.5,510 1084.5,506.9 1085.5,502.7 1087.7,500.5 1090,497.2 1092.2,493.9 1094.4,491.5 1097.2,489.3 1100,486.7 1102.8,484.6 1105.6,482.6 1107.4,478.2 1109.2,474.7 1110.9,472.6 1112.7,468.7 1114.5,464.7 1116.8,460.9 1119,458.2 1121.2,453.9 1123.5,451.3 1126.8,449.6 1130.2,446.8 1133.2,450 1136.1,453.2 1139.1,455.8 1141.3,459 1143.5,462.4 1145.8,466.4 1148,469.2 1149.3,472.5 1150.7,475.6 1152,479.3 1153.4,484.1 1154.7,487 1157.3,482.9 1160,478.9 1162.6,475.9" fill="none" stroke="#D55E00" stroke-width="1.7" stroke-linejoin="round" />
<polyline points="1043,563.8 1047.5,562.1 1052,560.2 1056.5,560.7 1060.9,563.1 1064.2,567 1067.6,570.8 1068.4,568 1069.2,564.5 1070,560 1070.8,555.8 1071.6,554.2 1072.5,550.3 1073.3,545.6 1074.1,542.7 1074.9,538.9 1075.7,536.8 1076.5,532.6 1077.5,528.5 1078.5,525.6 1079.5,521.1 1080.5,517.4 1081.5,514.1 1082.5,511.1 1083.5,507.2 1084.5,504 1085.5,499.3 1088.5,495.1 1091.4,492.8 1094.4,488.8 1097.2,485.5 1100,485 1102.8,481.4 1105.6,479.3 1107.4,476.4 1109.2,471.8 1110.9,470.2 1112.7,465.7 1114.5,463.1 1116.8,459.3 1119,457.5 1121.2,454 1123.5,450.2 1126.8,448.8 1130.2,446.4 1133.2,447.9 1136.1,450.2 1139.1,453.3 1141.3,456 1143.5,460.1 1145.8,462.9 1148,467.2 1149.3,470.7 1150.7,475.4 1152,478.4 1153.4,482.8 1154.7,485.4 1156.7,483.4 1158.7,480.6 1160.6,476.5 1162.6,473.7" fill="none" stroke="#D55E00" stroke-width="1.4" stroke-linejoin="round" />
<polyline points="1043,558.5 1046.7,559.9 1050.5,560.3 1054.2,560.8 1057.9,563.6 1061.7,565.7 1065.4,567.5 1066.5,563.6 1067.6,561.3 1068.8,558.2 1069.9,554.3 1071,550.1 1072.1,547.4 1073.1,544 1074.1,540.2 1075.1,535.6 1076.1,532.1 1077,528.5 1078,525.7 1079,522.1 1080,518.2 1081,513.9 1082.9,511 1084.7,507.7 1086.6,503.1 1088.5,499.7 1090.3,496.3 1092.2,493.7 1095.5,492.3 1098.9,490 1102.2,488.1 1105.6,487 1107.3,483 1108.9,480.4 1110.6,477.4 1112.3,474.2 1114,470.3 1115.7,467.2 1117.3,463.7 1119,460.2 1121.8,457.1 1124.6,453.8 1127.4,450.2 1130.2,447.9 1132.4,450.7 1134.6,453.4 1136.9,455.9 1139.1,458.8 1141.3,462.5 1143.5,465.3 1145.8,468.6 1148,471.3 1150.3,475.5 1152.5,478.1 1157.5,479.6 1162.6,480.3" fill="none" stroke="#D55E00" stroke-width="1.7" stroke-linejoin="round" />
<polyline points="1043,563 1046.7,562.5 1050.5,562.8 1054.2,563.4 1057.9,565.2 1061.7,569.1 1065.4,570.5 1066.7,565.8 1068.1,562.5 1069.4,559.1 1070.8,555.9 1072.1,551.6 1073,548.6 1073.9,543.9 1074.8,541.1 1075.7,538.4 1076.5,533.7 1077.4,530.2 1078.3,528.3 1079.2,523 1080.1,519.7 1081,517.2 1082.9,513.3 1084.7,511.4 1086.6,507 1088.5,503.9 1090.3,500.9 1092.2,497.5 1095.5,496.4 1098.9,492.6 1102.2,490.9 1105.6,489.6 1107.3,486.2 1108.9,483.5 1110.6,479.1 1112.3,476.6 1114,473.6 1115.7,469.3 1117.3,466.6 1119,463.8 1121.8,459.7 1124.6,458.6 1127.4,453.5 1130.2,451.6 1132.4,454 1134.6,458.1 1136.9,460.5 1139.1,464.4 1141.3,467.4 1144.1,470.4 1146.9,475.2 1149.7,477.6 1152.5,480.8 1155.9,481.8 1159.2,482.8 1162.6,484.8" fill="none" stroke="#D55E00" stroke-width="1.4" stroke-linejoin="round" />
<text x="12.6" y="812.1" font-size="38" fill="#000" text-anchor="start" font-weight="bold" textLength="27.8" lengthAdjust="spacingAndGlyphs" stroke="#000" stroke-width="0.8">b</text>
<line x1="138.6" y1="1126.9" x2="1181.4" y2="1126.9" stroke="#707070" stroke-width="1.7" />
<line x1="138.6" y1="820.8" x2="138.6" y2="1127.5" stroke="#333" stroke-width="1.2" />
<line x1="128" y1="834" x2="138.6" y2="834" stroke="#707070" stroke-width="1.7" />
<text x="116.8" y="842" font-size="22.6" fill="#000" text-anchor="end" >150</text>
<line x1="128" y1="927.2" x2="138.6" y2="927.2" stroke="#707070" stroke-width="1.7" />
<text x="116.8" y="935.2" font-size="22.6" fill="#000" text-anchor="end" >100</text>
<line x1="128" y1="1019.7" x2="138.6" y2="1019.7" stroke="#707070" stroke-width="1.7" />
<text x="116.8" y="1027.7" font-size="22.6" fill="#000" text-anchor="end" >50</text>
<line x1="128" y1="1112.6" x2="138.6" y2="1112.6" stroke="#707070" stroke-width="1.7" />
<text x="116.8" y="1120.6" font-size="22.6" fill="#000" text-anchor="end" >0</text>
<line x1="138.6" y1="1449.1" x2="1181.4" y2="1449.1" stroke="#707070" stroke-width="1.7" />
<line x1="138.6" y1="1143.2" x2="138.6" y2="1449.7" stroke="#333" stroke-width="1.2" />
<line x1="128" y1="1156.2" x2="138.6" y2="1156.2" stroke="#707070" stroke-width="1.7" />
<text x="116.8" y="1164.2" font-size="22.6" fill="#000" text-anchor="end" >150</text>
<line x1="128" y1="1249.4" x2="138.6" y2="1249.4" stroke="#707070" stroke-width="1.7" />
<text x="116.8" y="1257.4" font-size="22.6" fill="#000" text-anchor="end" >100</text>
<line x1="128" y1="1341.9" x2="138.6" y2="1341.9" stroke="#707070" stroke-width="1.7" />
<text x="116.8" y="1349.9" font-size="22.6" fill="#000" text-anchor="end" >50</text>
<line x1="128" y1="1434.8" x2="138.6" y2="1434.8" stroke="#707070" stroke-width="1.7" />
<text x="116.8" y="1442.8" font-size="22.6" fill="#000" text-anchor="end" >0</text>
<text x="161.8" y="845.7" font-size="27.4" fill="#000" text-anchor="start" textLength="72.3" lengthAdjust="spacingAndGlyphs" >Pool 1</text>
<text x="161.1" y="1177.4" font-size="27.4" fill="#000" text-anchor="start" textLength="79.5" lengthAdjust="spacingAndGlyphs" >Pool 2</text>
<text x="51.4" y="987.3" font-size="27" fill="#000" text-anchor="start" font-style="italic" textLength="24.2" lengthAdjust="spacingAndGlyphs" transform="rotate(-90 51.4 987.3)" >G′</text>
<text x="51.4" y="1308.2" font-size="27" fill="#000" text-anchor="start" font-style="italic" textLength="22.9" lengthAdjust="spacingAndGlyphs" transform="rotate(-90 51.4 1308.2)" >G′</text>
<text x="835.1" y="917.2" font-size="27.4" fill="#000" text-anchor="start" textLength="83.3" lengthAdjust="spacingAndGlyphs" >50 nm</text>
<text x="939.1" y="917.2" font-size="27.4" fill="#000" text-anchor="start" textLength="97" lengthAdjust="spacingAndGlyphs" >100 nM</text>
<text x="1051.9" y="917.2" font-size="27.4" fill="#000" text-anchor="start" textLength="97.4" lengthAdjust="spacingAndGlyphs" >250 nM</text>
<line x1="846" y1="938.9" x2="901.4" y2="938.9" stroke="#56B4E9" stroke-width="3.8" />
<line x1="959.2" y1="938.9" x2="1014.8" y2="938.9" stroke="#E69F00" stroke-width="3.8" />
<line x1="1072.4" y1="938.9" x2="1128" y2="938.9" stroke="#D55E00" stroke-width="3.8" />
<text x="154" y="1478.3" font-size="23.3" fill="#000" text-anchor="middle" >1</text>
<text x="196.2" y="1478.3" font-size="23.3" fill="#000" text-anchor="middle" >2</text>
<text x="239.7" y="1478.3" font-size="23.3" fill="#000" text-anchor="middle" >3</text>
<text x="292.9" y="1478.3" font-size="23.3" fill="#000" text-anchor="middle" >4</text>
<text x="354.6" y="1478.3" font-size="23.3" fill="#000" text-anchor="middle" >5</text>
<text x="416.8" y="1478.3" font-size="23.3" fill="#000" text-anchor="middle" >6</text>
<text x="487.4" y="1478.3" font-size="23.3" fill="#000" text-anchor="middle" >7</text>
<text x="557.2" y="1478.3" font-size="23.3" fill="#000" text-anchor="middle" >8</text>
<text x="619.5" y="1478.3" font-size="23.3" fill="#000" text-anchor="middle" >9</text>
<text x="700.1" y="1478.3" font-size="23.3" fill="#000" text-anchor="middle" >10</text>
<text x="776.8" y="1478.3" font-size="23.3" fill="#000" text-anchor="middle" >11</text>
<text x="864.4" y="1478.3" font-size="23.3" fill="#000" text-anchor="middle" >12</text>
<text x="979.7" y="1478.3" font-size="23.3" fill="#000" text-anchor="middle" >13</text>
<text x="1112.8" y="1478.3" font-size="23.3" fill="#000" text-anchor="middle" >14</text>
<text x="573.6" y="1524.4" font-size="27" fill="#000" text-anchor="start" textLength="172" lengthAdjust="spacingAndGlyphs" >Chromosome</text>
<text x="572.6" y="1163" font-size="27" fill="#000" text-anchor="start" textLength="173.2" lengthAdjust="spacingAndGlyphs" >Chromosome</text>
<rect x="465.9" y="855.2" width="4.5" height="19.3" fill="#ff0000" />
<polygon points="461.1,873.5 475.1,873.5 468.1,890.3" fill="#ff0000"/>
<text x="488.4" y="875.1" font-size="27.5" fill="#ff0000" text-anchor="start" font-style="italic" textLength="58.2" lengthAdjust="spacingAndGlyphs" >pfcrt</text>
<rect x="432.4" y="1011.6" width="4.5" height="20.1" fill="#ff0000" />
<polygon points="427.7,1030.7 441.7,1030.7 434.7,1046.7" fill="#ff0000"/>
<text x="369.5" y="996.4" font-size="26.5" fill="#ff0000" text-anchor="start" font-style="italic" textLength="75" lengthAdjust="spacingAndGlyphs" >pfaat1</text>
<rect x="465.4" y="1137.9" width="4.5" height="19" fill="#ff0000" />
<polygon points="460.9,1155.9 474.5,1155.9 467.7,1172.5" fill="#ff0000"/>
<text x="488.8" y="1157" font-size="27.5" fill="#ff0000" text-anchor="start" font-style="italic" textLength="58.1" lengthAdjust="spacingAndGlyphs" >pfcrt</text>
<rect x="431.9" y="1353.1" width="4.5" height="19.6" fill="#ff0000" />
<polygon points="427.2,1371.7 441,1371.7 434.1,1388.3" fill="#ff0000"/>
<text x="365.9" y="1337.5" font-size="26.5" fill="#ff0000" text-anchor="start" font-style="italic" textLength="75.7" lengthAdjust="spacingAndGlyphs" >pfaat1</text>
<line x1="138.7" y1="1075.5" x2="160" y2="1075.5" stroke="#000" stroke-width="3.2" stroke-dasharray="12.2 12.4"/>
<line x1="171.1" y1="1075.5" x2="201.6" y2="1075.5" stroke="#000" stroke-width="3.2" stroke-dasharray="12.2 12.4"/>
<line x1="215.7" y1="1075.5" x2="253.3" y2="1075.5" stroke="#000" stroke-width="3.2" stroke-dasharray="12.2 12.4"/>
<line x1="267" y1="1075.5" x2="309.3" y2="1075.5" stroke="#000" stroke-width="3.2" stroke-dasharray="12.2 12.4"/>
<line x1="324" y1="1075.5" x2="376.9" y2="1075.5" stroke="#000" stroke-width="3.2" stroke-dasharray="12.2 12.4"/>
<line x1="389.4" y1="1075.5" x2="439.5" y2="1075.5" stroke="#000" stroke-width="3.2" stroke-dasharray="12.2 12.4"/>
<line x1="453.8" y1="1075.5" x2="506.7" y2="1075.5" stroke="#000" stroke-width="3.2" stroke-dasharray="12.2 12.4"/>
<line x1="520.1" y1="1075.5" x2="572" y2="1075.5" stroke="#000" stroke-width="3.2" stroke-dasharray="12.2 12.4"/>
<line x1="586.8" y1="1075.5" x2="639" y2="1075.5" stroke="#000" stroke-width="3.2" stroke-dasharray="12.2 12.4"/>
<line x1="653.2" y1="1075.5" x2="715.2" y2="1075.5" stroke="#000" stroke-width="3.2" stroke-dasharray="12.2 12.4"/>
<line x1="728" y1="1075.5" x2="803.5" y2="1075.5" stroke="#000" stroke-width="3.2" stroke-dasharray="12.2 12.4"/>
<line x1="816.7" y1="1075.5" x2="905.1" y2="1075.5" stroke="#000" stroke-width="3.2" stroke-dasharray="12.2 12.4"/>
<line x1="915.9" y1="1075.5" x2="1030.1" y2="1075.5" stroke="#000" stroke-width="3.2" stroke-dasharray="12.2 12.4"/>
<line x1="1040.9" y1="1075.5" x2="1174.5" y2="1075.5" stroke="#000" stroke-width="3.2" stroke-dasharray="12.2 12.4"/>
<line x1="138.7" y1="1397.6" x2="160" y2="1397.6" stroke="#000" stroke-width="3.2" stroke-dasharray="12.2 12.4"/>
<line x1="171.1" y1="1397.6" x2="201.6" y2="1397.6" stroke="#000" stroke-width="3.2" stroke-dasharray="12.2 12.4"/>
<line x1="215.7" y1="1397.6" x2="253.3" y2="1397.6" stroke="#000" stroke-width="3.2" stroke-dasharray="12.2 12.4"/>
<line x1="267" y1="1397.6" x2="309.3" y2="1397.6" stroke="#000" stroke-width="3.2" stroke-dasharray="12.2 12.4"/>
<line x1="324" y1="1397.6" x2="376.9" y2="1397.6" stroke="#000" stroke-width="3.2" stroke-dasharray="12.2 12.4"/>
<line x1="389.4" y1="1397.6" x2="439.5" y2="1397.6" stroke="#000" stroke-width="3.2" stroke-dasharray="12.2 12.4"/>
<line x1="453.8" y1="1397.6" x2="506.7" y2="1397.6" stroke="#000" stroke-width="3.2" stroke-dasharray="12.2 12.4"/>
<line x1="520.1" y1="1397.6" x2="572" y2="1397.6" stroke="#000" stroke-width="3.2" stroke-dasharray="12.2 12.4"/>
<line x1="586.8" y1="1397.6" x2="639" y2="1397.6" stroke="#000" stroke-width="3.2" stroke-dasharray="12.2 12.4"/>
<line x1="653.2" y1="1397.6" x2="715.2" y2="1397.6" stroke="#000" stroke-width="3.2" stroke-dasharray="12.2 12.4"/>
<line x1="728" y1="1397.6" x2="803.5" y2="1397.6" stroke="#000" stroke-width="3.2" stroke-dasharray="12.2 12.4"/>
<line x1="816.7" y1="1397.6" x2="905.1" y2="1397.6" stroke="#000" stroke-width="3.2" stroke-dasharray="12.2 12.4"/>
<line x1="915.9" y1="1397.6" x2="1030.1" y2="1397.6" stroke="#000" stroke-width="3.2" stroke-dasharray="12.2 12.4"/>
<line x1="1040.9" y1="1397.6" x2="1174.5" y2="1397.6" stroke="#000" stroke-width="3.2" stroke-dasharray="12.2 12.4"/>
<polyline points="139.6,1111.1 142.7,1110.9 145.8,1111.5 148.9,1110.8 152,1111.3 155.1,1111.1 158.2,1110.8" fill="none" stroke="#56B4E9" stroke-width="1.6" stroke-linejoin="round" />
<polyline points="173.4,1111.3 176.6,1110.7 179.7,1111.2 182.9,1110.8 186,1110.8 189.2,1111.2 192.3,1111.7 195.5,1110.8 198.6,1111 201.8,1111.5" fill="none" stroke="#56B4E9" stroke-width="1.6" stroke-linejoin="round" />
<polyline points="217.6,1111.8 220.8,1111.4 224.1,1111.2 227.3,1111.9 230.6,1110.8 233.8,1111.7 237.1,1111 240.3,1110.9 243.6,1110.8 246.8,1111.1 250.1,1111.7 253.3,1110.9" fill="none" stroke="#56B4E9" stroke-width="1.6" stroke-linejoin="round" />
<polyline points="268.8,1111.4 271.9,1111.5 275,1111.1 278.1,1111.4 281.3,1110.8 284.4,1110.8 287.5,1110.9 290.6,1111.5 293.7,1111.2 296.8,1111.1 300,1111.4 303.1,1111.2 306.2,1111.1 309.3,1111.7" fill="none" stroke="#56B4E9" stroke-width="1.6" stroke-linejoin="round" />
<polyline points="325.9,1111.5 328.9,1111 332,1111.4 335,1111.3 338.1,1111.8 341.1,1111.6 344.2,1111 347.2,1111.9 350.3,1110.8 353.3,1111.2 356.4,1111.6 359.4,1110.9 362.5,1111.3 365.5,1110.7 368.6,1111.5 371.6,1111.6 374.7,1111.4" fill="none" stroke="#56B4E9" stroke-width="1.6" stroke-linejoin="round" />
<polyline points="392,1111.8 395.1,1111.1 398.1,1111.5 401.2,1111.4 404.3,1111.4 407.3,1111.2 410.4,1111.7 413.5,1111.8 416.5,1111.3 419.6,1111.5 422.7,1110.8 425.7,1111.5 428.8,1111.5 431.9,1111.9 434.9,1111.7 438,1111" fill="none" stroke="#56B4E9" stroke-width="1.6" stroke-linejoin="round" />
<polyline points="455.5,1111.2 458.6,1111.5 461.6,1110.7 464.7,1111.3 467.8,1110.9 470.8,1110.8 473.9,1110.8 476.9,1111.6 480,1110.9 483.1,1111 486.1,1111.2 489.2,1111.7 492.2,1110.8 495.3,1111.2 498.4,1111.4 501.4,1111.8 504.5,1111.7" fill="none" stroke="#56B4E9" stroke-width="1.6" stroke-linejoin="round" />
<polyline points="522.3,1111.7 525.3,1111 528.4,1111.2 531.4,1111.1 534.5,1111.8 537.5,1111.8 540.6,1110.9 543.6,1110.9 546.7,1111 549.8,1111 552.8,1111.3 555.9,1111.4 558.9,1111 562,1110.7 565,1111.2 568.1,1111.1 571.1,1111.4" fill="none" stroke="#56B4E9" stroke-width="1.6" stroke-linejoin="round" />
<polyline points="589,1111.8 592,1111.5 595,1111.3 598,1111.4 601,1111.5 604,1110.8 607,1111.8 610,1111.6 613,1111.7 616,1111.7 619,1111.2 622,1111.2 625,1110.8 628,1111.5 631,1110.8 634,1110.8 637,1111" fill="none" stroke="#56B4E9" stroke-width="1.6" stroke-linejoin="round" />
<polyline points="656,1110.9 659.1,1111.1 662.2,1110.8 665.3,1110.7 668.4,1110.9 671.5,1110.8 674.6,1111.1 677.7,1110.7 680.8,1111.7 683.9,1111.4 686.9,1110.9 690,1111 693.1,1111.1 696.2,1111.1 699.3,1110.8 702.4,1111.7 705.5,1111.9 708.6,1111.3 711.7,1111.3" fill="none" stroke="#56B4E9" stroke-width="1.6" stroke-linejoin="round" />
<polyline points="732,1110.8 735.1,1110.8 738.2,1111.1 741.3,1111 744.3,1111.7 747.4,1110.9 750.5,1110.7 753.6,1111.8 756.7,1111.3 759.8,1110.9 762.9,1111.4 766,1110.7 769,1111.3 772.1,1111.9 775.2,1111.7 778.3,1111.5 781.4,1111 784.5,1111.1 787.6,1110.9 790.6,1111.6 793.7,1111.3 796.8,1111.6 799.9,1111.1" fill="none" stroke="#56B4E9" stroke-width="1.6" stroke-linejoin="round" />
<polyline points="820.2,1111 823.2,1111.7 826.3,1111.9 829.3,1111.7 832.3,1111.7 835.4,1111.7 838.4,1111.6 841.4,1111 844.4,1111.3 847.5,1111.1 850.5,1110.7 853.5,1110.7 856.6,1111 859.6,1111 862.6,1111.5 865.7,1111.8 868.7,1111.2 871.7,1111.8 874.8,1111.9 877.8,1111.8 880.8,1111.1 883.8,1111 886.9,1111 889.9,1110.9 892.9,1110.9 896,1111.4 899,1111.8" fill="none" stroke="#56B4E9" stroke-width="1.6" stroke-linejoin="round" />
<polyline points="921.4,1111.7 924.5,1111.3 927.5,1111.5 930.6,1111.7 933.7,1110.8 936.7,1111.5 939.8,1111.8 942.8,1111.6 945.9,1111.6 949,1111.3 952,1110.9 955.1,1111.6 958.2,1111.1 961.2,1111.7 964.3,1111.9 967.4,1111.2 970.4,1111.2 973.5,1111.8 976.5,1111.6 979.6,1110.9 982.7,1110.9 985.7,1110.9 988.8,1111.8 991.9,1111.7 994.9,1110.9 998,1111.7 1001.1,1111.9 1004.1,1111.5 1007.2,1111.1 1010.2,1111.4 1013.3,1110.9 1016.4,1110.7 1019.4,1111.9 1022.5,1111.5" fill="none" stroke="#56B4E9" stroke-width="1.6" stroke-linejoin="round" />
<polyline points="1047.4,1111.3 1050.5,1111.8 1053.5,1111.2 1056.6,1111.7 1059.7,1111.7 1062.8,1111 1065.8,1111 1068.9,1111.1 1072,1111 1075.1,1111.4 1078.1,1111 1081.2,1111.2 1084.3,1110.9 1087.4,1111.8 1090.4,1111.1 1093.5,1111.2 1096.6,1111.4 1099.7,1111.8 1102.7,1111.2 1105.8,1111.8 1108.9,1111.3 1112,1111.3 1115,1111.3 1118.1,1110.7 1121.2,1111.2 1124.3,1110.9 1127.3,1110.7 1130.4,1111.7 1133.5,1110.9 1136.6,1111.3 1139.6,1111.6 1142.7,1111.4 1145.8,1111.1 1148.9,1111.3 1151.9,1111.4 1155,1111.6 1158.1,1110.8 1161.2,1111.4 1164.2,1111 1167.3,1111" fill="none" stroke="#56B4E9" stroke-width="1.6" stroke-linejoin="round" />
<polyline points="139.6,1110.8 142.7,1110.3 145.8,1110.4 148.9,1110.8 152,1111 155.1,1110.2 158.2,1110.5" fill="none" stroke="#E69F00" stroke-width="1.4" stroke-linejoin="round" />
<polyline points="139.6,1110 142.7,1110 145.8,1110.3 148.9,1109.9 152,1110.1 155.1,1110 158.2,1110.8" fill="none" stroke="#E69F00" stroke-width="1.4" stroke-linejoin="round" />
<polyline points="139.6,1110.1 142.7,1110.4 145.8,1110.5 148.9,1109.3 152,1109.8 155.1,1110.5 158.2,1110.3" fill="none" stroke="#D55E00" stroke-width="1.4" stroke-linejoin="round" />
<polyline points="139.6,1108.7 142.7,1108.7 145.8,1109.3 148.9,1108.6 152,1108.9 155.1,1108.6 158.2,1109.7" fill="none" stroke="#D55E00" stroke-width="1.4" stroke-linejoin="round" />
<polyline points="173.4,1110.8 176.6,1111 179.7,1109.6 182.9,1110.5 186,1110.1 189.2,1108.6 192.3,1109.5 195.5,1109.1 198.6,1106.5 201.8,1108.6" fill="none" stroke="#E69F00" stroke-width="1.4" stroke-linejoin="round" />
<polyline points="173.4,1109.8 176.6,1110 179.7,1110.8 182.9,1110.4 186,1108.7 189.2,1108.4 192.3,1107.9 195.5,1106.8 198.6,1104.8 201.8,1106.1" fill="none" stroke="#E69F00" stroke-width="1.4" stroke-linejoin="round" />
<polyline points="173.4,1110.1 176.6,1108.8 179.7,1109.7 182.9,1109.3 186,1108 189.2,1107.7 192.3,1107.4 195.5,1106.3 198.6,1103.4 201.8,1106.3" fill="none" stroke="#D55E00" stroke-width="1.4" stroke-linejoin="round" />
<polyline points="173.4,1109.9 176.6,1110.2 179.7,1108.6 182.9,1108.8 186,1107.9 189.2,1108.6 192.3,1107 195.5,1106 198.6,1104.9 201.8,1106.7" fill="none" stroke="#D55E00" stroke-width="1.4" stroke-linejoin="round" />
<polyline points="217.6,1110.9 220.8,1109.9 224.1,1109.6 227.3,1108.8 230.6,1109 233.8,1110.6 237.1,1109.6 240.3,1109.5 243.6,1110.6 246.8,1110.2 250.1,1109.5 253.3,1111.1" fill="none" stroke="#E69F00" stroke-width="1.4" stroke-linejoin="round" />
<polyline points="217.6,1110.2 220.8,1110.5 224.1,1109.2 227.3,1107.5 230.6,1107.2 233.8,1110.6 237.1,1109.9 240.3,1109.7 243.6,1110.1 246.8,1110.8 250.1,1109.6 253.3,1109.3" fill="none" stroke="#E69F00" stroke-width="1.4" stroke-linejoin="round" />
<polyline points="217.6,1109.7 220.8,1109.2 224.1,1108.9 227.3,1105.4 230.6,1106.5 233.8,1109.1 237.1,1109.4 240.3,1109.3 243.6,1110.2 246.8,1109.3 250.1,1109.7 253.3,1109.1" fill="none" stroke="#D55E00" stroke-width="1.4" stroke-linejoin="round" />
<polyline points="217.6,1109.1 220.8,1108.5 224.1,1108.9 227.3,1105.6 230.6,1107.9 233.8,1109.5 237.1,1108.8 240.3,1109.4 243.6,1110.2 246.8,1108.7 250.1,1110 253.3,1109.3" fill="none" stroke="#D55E00" stroke-width="1.4" stroke-linejoin="round" />
<polyline points="268.8,1110.3 271.9,1110.9 275,1110.1 278.1,1110.3 281.3,1110.6 284.4,1111.1 287.5,1109.8 290.6,1110.4 293.7,1109.7 296.8,1109.2 300,1108.6 303.1,1108.4 306.2,1105.4 309.3,1105.3" fill="none" stroke="#E69F00" stroke-width="1.4" stroke-linejoin="round" />
<polyline points="268.8,1109.2 271.9,1110.4 275,1109.6 278.1,1109.4 281.3,1109.2 284.4,1110.5 287.5,1110.4 290.6,1109.6 293.7,1108.3 296.8,1107.6 300,1107.5 303.1,1107.6 306.2,1103.5 309.3,1103.8" fill="none" stroke="#E69F00" stroke-width="1.4" stroke-linejoin="round" />
<polyline points="268.8,1109.3 271.9,1110.5 275,1110.5 278.1,1109.8 281.3,1109.2 284.4,1110.4 287.5,1109 290.6,1108.6 293.7,1107.2 296.8,1107.2 300,1107.1 303.1,1106.9 306.2,1102.3 309.3,1102.5" fill="none" stroke="#D55E00" stroke-width="1.4" stroke-linejoin="round" />
<polyline points="268.8,1108.5 271.9,1109 275,1108.7 278.1,1109.2 281.3,1108.5 284.4,1108.4 287.5,1108.8 290.6,1108.2 293.7,1108.3 296.8,1107.6 300,1107.8 303.1,1107.5 306.2,1104.3 309.3,1104.3" fill="none" stroke="#D55E00" stroke-width="1.4" stroke-linejoin="round" />
<polyline points="325.9,1110.1 328.9,1110 332,1111.1 335,1109.3 338.1,1109.8 341.1,1109.6 344.2,1108.7 347.2,1109.4 350.3,1109 353.3,1109.4 356.4,1110.5 359.4,1110.8 362.5,1109.6 365.5,1110.3 368.6,1110.3 371.6,1110.9 374.7,1110.8" fill="none" stroke="#E69F00" stroke-width="1.4" stroke-linejoin="round" />
<polyline points="325.9,1110.6 328.9,1110.1 332,1110.6 335,1109.8 338.1,1109.1 341.1,1108.2 344.2,1108.1 347.2,1107.3 350.3,1106.9 353.3,1107.6 356.4,1110.2 359.4,1110.1 362.5,1110.2 365.5,1110.2 368.6,1110.3 371.6,1110 374.7,1109.1" fill="none" stroke="#E69F00" stroke-width="1.4" stroke-linejoin="round" />
<polyline points="325.9,1110.2 328.9,1110.1 332,1109.6 335,1109.2 338.1,1108.5 341.1,1107.3 344.2,1108.9 347.2,1106.8 350.3,1105.5 353.3,1107.3 356.4,1109.7 359.4,1109.1 362.5,1110.1 365.5,1110.6 368.6,1109.7 371.6,1109.5 374.7,1109.7" fill="none" stroke="#D55E00" stroke-width="1.4" stroke-linejoin="round" />
<polyline points="325.9,1109.7 328.9,1109.9 332,1109.5 335,1109.2 338.1,1107.4 341.1,1107.5 344.2,1108 347.2,1107.9 350.3,1106.3 353.3,1108 356.4,1108.2 359.4,1108.6 362.5,1109 365.5,1109.7 368.6,1109.7 371.6,1109.7 374.7,1109" fill="none" stroke="#D55E00" stroke-width="1.4" stroke-linejoin="round" />
<polyline points="522.3,1110.3 525.3,1109.9 528.4,1109.3 531.4,1108.7 534.5,1110.6 537.5,1109.7 540.6,1111.1 543.6,1110.7 546.7,1108.5 549.8,1109.3 552.8,1110.5 555.9,1110.7 558.9,1109.2 562,1109 565,1109.5 568.1,1111.1 571.1,1109.8" fill="none" stroke="#E69F00" stroke-width="1.4" stroke-linejoin="round" />
<polyline points="522.3,1110.1 525.3,1108.9 528.4,1108.8 531.4,1109.5 534.5,1108.8 537.5,1110.5 540.6,1109.9 543.6,1110.1 546.7,1109 549.8,1108.3 552.8,1110.1 555.9,1109.3 558.9,1107.8 562,1107.9 565,1109.6 568.1,1109.9 571.1,1109.6" fill="none" stroke="#E69F00" stroke-width="1.4" stroke-linejoin="round" />
<polyline points="522.3,1109 525.3,1108.8 528.4,1107.9 531.4,1108.8 534.5,1108.2 537.5,1110 540.6,1110.2 543.6,1108.3 546.7,1108.9 549.8,1108.6 552.8,1109.7 555.9,1108.5 558.9,1107.9 562,1108.1 565,1110.1 568.1,1109.8 571.1,1109.4" fill="none" stroke="#D55E00" stroke-width="1.4" stroke-linejoin="round" />
<polyline points="522.3,1109.2 525.3,1108.5 528.4,1107.4 531.4,1107.5 534.5,1109.5 537.5,1108.9 540.6,1110.1 543.6,1108.4 546.7,1107.7 549.8,1108.2 552.8,1108.3 555.9,1108.5 558.9,1108.9 562,1109 565,1109.6 568.1,1109.6 571.1,1110.1" fill="none" stroke="#D55E00" stroke-width="1.4" stroke-linejoin="round" />
<polyline points="589,1111.1 592,1110.4 595,1110.7 598,1109.4 601,1110.4 604,1109.4 607,1109.8 610,1110.1 613,1109.2 616,1106.6 619,1109.4 622,1109.5 625,1110.2 628,1110 631,1109.9 634,1110.7 637,1111.2" fill="none" stroke="#E69F00" stroke-width="1.4" stroke-linejoin="round" />
<polyline points="589,1109.6 592,1110.3 595,1109.6 598,1110 601,1109.4 604,1108.2 607,1108 610,1108.8 613,1109.7 616,1105.9 619,1107.1 622,1110.5 625,1110.9 628,1109.9 631,1109.4 634,1109.4 637,1109.3" fill="none" stroke="#E69F00" stroke-width="1.4" stroke-linejoin="round" />
<polyline points="589,1109.4 592,1109 595,1109.2 598,1109.2 601,1109.3 604,1109 607,1108.5 610,1108.7 613,1108.3 616,1104.9 619,1106.6 622,1109.2 625,1108.9 628,1109.3 631,1110.5 634,1109 637,1109.7" fill="none" stroke="#D55E00" stroke-width="1.4" stroke-linejoin="round" />
<polyline points="589,1109.6 592,1110.1 595,1108.9 598,1108.9 601,1108.6 604,1108.1 607,1108 610,1109.6 613,1109 616,1106.2 619,1106.3 622,1108.4 625,1109.8 628,1110.1 631,1109.4 634,1109.6 637,1108.5" fill="none" stroke="#D55E00" stroke-width="1.4" stroke-linejoin="round" />
<polyline points="656,1110.1 659.1,1111.1 662.2,1110.9 665.3,1110.8 668.4,1110.7 671.5,1108.8 674.6,1108.1 677.7,1108.4 680.8,1109.5 683.9,1108.8 686.9,1106.6 690,1106 693.1,1108.1 696.2,1108.2 699.3,1105.3 702.4,1104.3 705.5,1105 708.6,1108.9 711.7,1109.3" fill="none" stroke="#E69F00" stroke-width="1.4" stroke-linejoin="round" />
<polyline points="656,1110.8 659.1,1110.3 662.2,1109.6 665.3,1109.2 668.4,1108.9 671.5,1108.7 674.6,1108.2 677.7,1107.5 680.8,1108 683.9,1107.4 686.9,1103.8 690,1103.1 693.1,1106 696.2,1106.6 699.3,1102.2 702.4,1101 705.5,1103.5 708.6,1108.1 711.7,1109.6" fill="none" stroke="#E69F00" stroke-width="1.4" stroke-linejoin="round" />
<polyline points="656,1110.4 659.1,1109.7 662.2,1109.2 665.3,1109.1 668.4,1109.8 671.5,1108.3 674.6,1106.8 677.7,1106.7 680.8,1108.3 683.9,1106.9 686.9,1102.1 690,1101.4 693.1,1105.9 696.2,1106.2 699.3,1101.1 702.4,1098.7 705.5,1101.9 708.6,1106.3 711.7,1109.2" fill="none" stroke="#D55E00" stroke-width="1.4" stroke-linejoin="round" />
<polyline points="656,1108.9 659.1,1109.9 662.2,1109.8 665.3,1109.3 668.4,1108.3 671.5,1108.8 674.6,1107 677.7,1108.3 680.8,1107.8 683.9,1106.4 686.9,1103.9 690,1102.8 693.1,1106.9 696.2,1106 699.3,1102.3 702.4,1100.8 705.5,1103.2 708.6,1107.1 711.7,1109.5" fill="none" stroke="#D55E00" stroke-width="1.4" stroke-linejoin="round" />
<polyline points="732,1109.7 735.1,1109.9 738.2,1107.5 741.3,1108 744.3,1109.1 747.4,1109.5 750.5,1109.5 753.6,1110.1 756.7,1110.9 759.8,1110.3 762.9,1108.5 766,1107.5 769,1105.7 772.1,1104.2 775.2,1106.3 778.3,1107.8 781.4,1104.2 784.5,1100.1 787.6,1101.5 790.6,1102.7 793.7,1105.5 796.8,1108.5 799.9,1109.5" fill="none" stroke="#E69F00" stroke-width="1.4" stroke-linejoin="round" />
<polyline points="732,1109.1 735.1,1109.3 738.2,1106.5 741.3,1106.4 744.3,1108.6 747.4,1110.8 750.5,1109.5 753.6,1109.7 756.7,1110.5 759.8,1109.6 762.9,1106.8 766,1103.9 769,1102.3 772.1,1101.6 775.2,1105.9 778.3,1104.8 781.4,1100.5 784.5,1097.4 787.6,1096.3 790.6,1099.4 793.7,1104.1 796.8,1108.4 799.9,1108.9" fill="none" stroke="#E69F00" stroke-width="1.4" stroke-linejoin="round" />
<polyline points="732,1108.9 735.1,1108.6 738.2,1106.7 741.3,1104 744.3,1109.3 747.4,1110.4 750.5,1109.4 753.6,1109.3 756.7,1110.4 759.8,1108.8 762.9,1105.6 766,1103.9 769,1100.4 772.1,1099.7 775.2,1103.1 778.3,1104.7 781.4,1099.5 784.5,1094.3 787.6,1095.4 790.6,1096.5 793.7,1101.6 796.8,1107.2 799.9,1110.2" fill="none" stroke="#D55E00" stroke-width="1.4" stroke-linejoin="round" />
<polyline points="732,1110.2 735.1,1108.9 738.2,1105.9 741.3,1105.1 744.3,1108.7 747.4,1110.2 750.5,1108.8 753.6,1109.9 756.7,1109.7 759.8,1109.1 762.9,1107 766,1104.6 769,1101.9 772.1,1101.4 775.2,1104.6 778.3,1105.5 781.4,1099.9 784.5,1096.3 787.6,1097.7 790.6,1099.1 793.7,1102.5 796.8,1106.6 799.9,1109.2" fill="none" stroke="#D55E00" stroke-width="1.4" stroke-linejoin="round" />
<polyline points="820.2,1110 823.2,1111.2 826.3,1111 829.3,1111.2 832.3,1109.9 835.4,1109.5 838.4,1109.5 841.4,1110.2 844.4,1110.2 847.5,1109.3 850.5,1108.8 853.5,1109.4 856.6,1110.2 859.6,1110.5 862.6,1110.7 865.7,1110.7 868.7,1109.6 871.7,1107.3 874.8,1107.6 877.8,1106.4 880.8,1106.4 883.8,1105.2 886.9,1105.9 889.9,1105.2 892.9,1105.5 896,1107.4 899,1109.1" fill="none" stroke="#E69F00" stroke-width="1.4" stroke-linejoin="round" />
<polyline points="820.2,1110.7 823.2,1110.1 826.3,1109.7 829.3,1109.8 832.3,1110.9 835.4,1110 838.4,1109.5 841.4,1110.4 844.4,1109.7 847.5,1109.7 850.5,1107.8 853.5,1108.9 856.6,1110.1 859.6,1110.5 862.6,1110.7 865.7,1108.8 868.7,1108.2 871.7,1106 874.8,1104.8 877.8,1105.8 880.8,1104.5 883.8,1103.9 886.9,1103 889.9,1104.2 892.9,1103.7 896,1106.1 899,1109.6" fill="none" stroke="#E69F00" stroke-width="1.4" stroke-linejoin="round" />
<polyline points="820.2,1110.5 823.2,1109 826.3,1109.9 829.3,1109.9 832.3,1109.2 835.4,1109.5 838.4,1109 841.4,1108.9 844.4,1108.5 847.5,1108.5 850.5,1108.3 853.5,1108 856.6,1108.3 859.6,1109.3 862.6,1109.9 865.7,1108.7 868.7,1107.7 871.7,1105.3 874.8,1104.7 877.8,1103.9 880.8,1102.2 883.8,1100.9 886.9,1101.5 889.9,1102.2 892.9,1102.7 896,1104.8 899,1108.1" fill="none" stroke="#D55E00" stroke-width="1.4" stroke-linejoin="round" />
<polyline points="820.2,1109.8 823.2,1109.2 826.3,1109 829.3,1109.1 832.3,1110.2 835.4,1109.1 838.4,1109.5 841.4,1109 844.4,1108.7 847.5,1108.9 850.5,1108.9 853.5,1108.2 856.6,1108.4 859.6,1109.7 862.6,1108.8 865.7,1108.1 868.7,1108.8 871.7,1106.2 874.8,1105.6 877.8,1104.5 880.8,1104.7 883.8,1102.9 886.9,1102.4 889.9,1102.4 892.9,1103.7 896,1106.4 899,1109.3" fill="none" stroke="#D55E00" stroke-width="1.4" stroke-linejoin="round" />
<polyline points="921.4,1109.6 924.5,1110.5 927.5,1110.1 930.6,1110.3 933.7,1109.7 936.7,1109.9 939.8,1110.3 942.8,1110.8 945.9,1109 949,1109.3 952,1109.9 955.1,1110.6 958.2,1109.6 961.2,1109.6 964.3,1111.1 967.4,1111.2 970.4,1110.3 973.5,1109.5 976.5,1111 979.6,1109.8 982.7,1110.4 985.7,1109.8 988.8,1110.4 991.9,1109.5 994.9,1110.8 998,1109.8 1001.1,1110.1 1004.1,1110.7 1007.2,1110.2 1010.2,1108.7 1013.3,1109.2 1016.4,1110 1019.4,1110.3 1022.5,1110.1" fill="none" stroke="#E69F00" stroke-width="1.4" stroke-linejoin="round" />
<polyline points="921.4,1109.3 924.5,1109.5 927.5,1110.4 930.6,1110.7 933.7,1109.2 936.7,1110.1 939.8,1110.4 942.8,1108.8 945.9,1109.7 949,1107.9 952,1108.9 955.1,1109.4 958.2,1110 961.2,1109.6 964.3,1109.9 967.4,1110.1 970.4,1109.9 973.5,1110.3 976.5,1109.8 979.6,1109.4 982.7,1108.2 985.7,1109.1 988.8,1109.3 991.9,1109.2 994.9,1110.4 998,1110.5 1001.1,1109.9 1004.1,1109.2 1007.2,1109 1010.2,1107.9 1013.3,1108.5 1016.4,1109.7 1019.4,1109.2 1022.5,1109.9" fill="none" stroke="#E69F00" stroke-width="1.4" stroke-linejoin="round" />
<polyline points="921.4,1109.7 924.5,1108.9 927.5,1109.9 930.6,1108.9 933.7,1110.1 936.7,1110.2 939.8,1109.6 942.8,1108.5 945.9,1108.6 949,1107.8 952,1109 955.1,1108.2 958.2,1110.1 961.2,1110.5 964.3,1110.1 967.4,1110.3 970.4,1109.1 973.5,1110.5 976.5,1109.5 979.6,1110 982.7,1109.4 985.7,1107.8 988.8,1109.4 991.9,1110.1 994.9,1108.8 998,1109.4 1001.1,1110.1 1004.1,1108.8 1007.2,1109.3 1010.2,1107.6 1013.3,1109.3 1016.4,1108.8 1019.4,1109.7 1022.5,1110.5" fill="none" stroke="#D55E00" stroke-width="1.4" stroke-linejoin="round" />
<polyline points="921.4,1108.9 924.5,1109 927.5,1109.4 930.6,1109.1 933.7,1108.6 936.7,1108.8 939.8,1108.7 942.8,1109.9 945.9,1108.9 949,1108.8 952,1107.6 955.1,1109.3 958.2,1108.5 961.2,1109.4 964.3,1109.6 967.4,1109.1 970.4,1110.1 973.5,1109.5 976.5,1109.4 979.6,1109.6 982.7,1107.8 985.7,1109.3 988.8,1109 991.9,1108.9 994.9,1109.9 998,1109 1001.1,1110.3 1004.1,1109.3 1007.2,1108.2 1010.2,1108.5 1013.3,1108.5 1016.4,1108.6 1019.4,1109.8 1022.5,1108.6" fill="none" stroke="#D55E00" stroke-width="1.4" stroke-linejoin="round" />
<polyline points="1047.4,1110.9 1050.5,1109.9 1053.5,1110.6 1056.6,1111.2 1059.7,1110.5 1062.8,1110.6 1065.8,1110 1068.9,1109.4 1072,1109.5 1075.1,1109.7 1078.1,1110.5 1081.2,1110.2 1084.3,1110.3 1087.4,1111 1090.4,1109.6 1093.5,1109.8 1096.6,1110.6 1099.7,1109.4 1102.7,1109.4 1105.8,1110 1108.9,1109.6 1112,1110 1115,1109.5 1118.1,1109.8 1121.2,1109.4 1124.3,1108.5 1127.3,1109.4 1130.4,1109.5 1133.5,1109.1 1136.6,1110.4 1139.6,1109.1 1142.7,1109 1145.8,1109.3 1148.9,1110.5 1151.9,1111 1155,1110.8 1158.1,1110.1 1161.2,1109.9 1164.2,1109.4 1167.3,1110.6" fill="none" stroke="#E69F00" stroke-width="1.4" stroke-linejoin="round" />
<polyline points="1047.4,1110.1 1050.5,1109.7 1053.5,1110.3 1056.6,1109.9 1059.7,1110.8 1062.8,1110.4 1065.8,1109.5 1068.9,1110.7 1072,1109.2 1075.1,1110.1 1078.1,1109.8 1081.2,1109.5 1084.3,1109.2 1087.4,1110.5 1090.4,1109.1 1093.5,1110.1 1096.6,1110.8 1099.7,1109.4 1102.7,1109.5 1105.8,1110.2 1108.9,1110 1112,1110.1 1115,1110.2 1118.1,1108.5 1121.2,1108.2 1124.3,1107.8 1127.3,1107.6 1130.4,1109.7 1133.5,1109.8 1136.6,1109.5 1139.6,1108 1142.7,1109.7 1145.8,1110 1148.9,1109.8 1151.9,1110.4 1155,1109.9 1158.1,1109.5 1161.2,1109.3 1164.2,1109.5 1167.3,1109.2" fill="none" stroke="#E69F00" stroke-width="1.4" stroke-linejoin="round" />
<polyline points="1047.4,1109.4 1050.5,1110.1 1053.5,1110.1 1056.6,1110.3 1059.7,1110.1 1062.8,1109.3 1065.8,1109.8 1068.9,1109.6 1072,1110.2 1075.1,1109.7 1078.1,1109.3 1081.2,1110 1084.3,1110.5 1087.4,1109.2 1090.4,1110.4 1093.5,1108.8 1096.6,1109.3 1099.7,1109.2 1102.7,1110.1 1105.8,1110.5 1108.9,1110.1 1112,1109.3 1115,1109.9 1118.1,1108.3 1121.2,1107.5 1124.3,1108.3 1127.3,1108.1 1130.4,1108.8 1133.5,1109.1 1136.6,1109.5 1139.6,1108.3 1142.7,1109.3 1145.8,1109.6 1148.9,1110.2 1151.9,1109.6 1155,1110.1 1158.1,1109.8 1161.2,1109.4 1164.2,1109.2 1167.3,1109.9" fill="none" stroke="#D55E00" stroke-width="1.4" stroke-linejoin="round" />
<polyline points="1047.4,1108.6 1050.5,1110.1 1053.5,1108.8 1056.6,1108.5 1059.7,1108.7 1062.8,1110.2 1065.8,1109.1 1068.9,1108.8 1072,1108.6 1075.1,1108.6 1078.1,1109.7 1081.2,1109.6 1084.3,1109.8 1087.4,1109.8 1090.4,1108.6 1093.5,1109.6 1096.6,1109.2 1099.7,1110 1102.7,1110 1105.8,1110.1 1108.9,1108.6 1112,1110 1115,1109.8 1118.1,1109.4 1121.2,1107.3 1124.3,1107.2 1127.3,1107.2 1130.4,1107.6 1133.5,1109.3 1136.6,1109.1 1139.6,1108.6 1142.7,1109.1 1145.8,1109.2 1148.9,1108.9 1151.9,1108.7 1155,1108.7 1158.1,1109.9 1161.2,1108.9 1164.2,1109.1 1167.3,1109.3" fill="none" stroke="#D55E00" stroke-width="1.4" stroke-linejoin="round" />
<polyline points="1047.3,1109.7 1057.3,1108.6 1061.8,1106.4 1067.4,1104.7 1069.6,1107.5 1075.2,1109.7 1085.3,1108.6 1096.5,1108.6 1102,1109.7" fill="none" stroke="#56B4E9" stroke-width="1.5" stroke-linejoin="round" />
<polyline points="391.9,1106.6 404.7,1103.4 409.5,1095.4 414.3,1101.8 420.7,1095.4 425.4,1098.6 434.2,1085.8 437.9,1089" fill="none" stroke="#E69F00" stroke-width="1.5" stroke-linejoin="round" />
<polyline points="391.9,1107.6 404.7,1105 410,1099 416,1103 421,1098 426,1100 434.2,1088 437.9,1091" fill="none" stroke="#E69F00" stroke-width="1.5" stroke-linejoin="round" />
<polyline points="455.5,1076.2 460.6,1047.5 467.7,985.3 471.7,999.6 476.5,1015.6 481.3,1055.5 486.1,1090.6 490.9,1079.4 495.7,1095.4 504.5,1098.6" fill="none" stroke="#E69F00" stroke-width="1.5" stroke-linejoin="round" />
<polyline points="455.5,1077.5 461.7,1031.5 467.7,1000 474.9,1001.2 478.1,1031.5 484.5,1079.4 490.9,1082.6 495.7,1097 504.5,1100.2" fill="none" stroke="#E69F00" stroke-width="1.5" stroke-linejoin="round" />
<polyline points="139.6,1109.5 144,1109 146.5,1100 148.3,1091.3 150.5,1093 152.5,1104 155,1109 158.2,1109.5" fill="none" stroke="#E69F00" stroke-width="1.5" stroke-linejoin="round" />
<polyline points="139.6,1110 145,1109 148,1104 151,1103 154,1108.5 158.2,1110" fill="none" stroke="#E69F00" stroke-width="1.5" stroke-linejoin="round" />
<polyline points="1047.3,1108.6 1057.3,1106.4 1064,1084 1067.4,1075.1 1071.9,1084 1077.5,1097.5 1082,1097.5 1085.3,1103 1093.1,1104.2 1097.6,1107.5 1100.9,1109.7" fill="none" stroke="#E69F00" stroke-width="1.5" stroke-linejoin="round" />
<polyline points="1047.3,1109.2 1058.5,1106.4 1064,1095.2 1068,1088 1073,1095.2 1077.5,1100.8 1082,1099.7 1085.3,1105.3 1094.2,1106.4 1100.9,1109.7" fill="none" stroke="#E69F00" stroke-width="1.5" stroke-linejoin="round" />
<polyline points="391.9,1105 398.3,1101.8 404.7,1097 409.5,1085.8 414.3,1084.2 419.1,1081 423.8,1079.4 430.2,1065.1 434.2,1057.1 437.9,1063.5" fill="none" stroke="#D55E00" stroke-width="1.5" stroke-linejoin="round" />
<polyline points="391.9,1106.6 404.7,1101.8 409.5,1092.2 415.9,1097 420.7,1089 425.4,1089 434.2,1071.4 437.9,1076.2" fill="none" stroke="#D55E00" stroke-width="1.5" stroke-linejoin="round" />
<polyline points="455.5,1066.7 459,1031.5 462.2,983.7 467.7,904.6 471.7,935.8 475.7,948.5 479.7,999.6 482.9,1039.5 486.1,1063.5 490.9,1060.3 495.7,1076.2 498.9,1084.2 504.5,1085" fill="none" stroke="#D55E00" stroke-width="1.5" stroke-linejoin="round" />
<polyline points="455.5,1045.9 460.6,1018.8 467.7,952.5 471.7,967.7 478.1,999.6 482.9,1047.5 487.7,1077.8 490.9,1068.3 495.7,1087.4 500.5,1093.8 504.5,1095.4" fill="none" stroke="#D55E00" stroke-width="1.5" stroke-linejoin="round" />
<polyline points="1047.3,1107 1054,1103 1058.5,1099.7 1062.9,1082.9 1067.7,1066.7 1073,1074 1077.5,1087.4 1080.8,1085.2 1085.3,1094.1 1092,1100.8 1095.9,1099.7 1100.9,1108.6 1104.3,1110.3" fill="none" stroke="#D55E00" stroke-width="1.5" stroke-linejoin="round" />
<polyline points="1047.3,1107.5 1058.5,1104.2 1064,1091.9 1068,1084.3 1071.9,1089.6 1076.3,1097.5 1082,1101.9 1087.5,1104.2 1094.2,1105.3 1099.8,1108.6" fill="none" stroke="#D55E00" stroke-width="1.5" stroke-linejoin="round" />
<polyline points="139.6,1433.1 142.7,1433.4 145.8,1433.4 148.9,1434 152,1433.5 155.1,1433.5 158.2,1434.3" fill="none" stroke="#56B4E9" stroke-width="1.6" stroke-linejoin="round" />
<polyline points="173.4,1433.7 176.6,1434.1 179.7,1433.8 182.9,1433.1 186,1433.6 189.2,1433.6 192.3,1434 195.5,1433.5 198.6,1433.9 201.8,1433.7" fill="none" stroke="#56B4E9" stroke-width="1.6" stroke-linejoin="round" />
<polyline points="217.6,1433.4 220.8,1434.1 224.1,1433.2 227.3,1434.1 230.6,1433.3 233.8,1433.1 237.1,1433.3 240.3,1434 243.6,1434.3 246.8,1433.1 250.1,1433.7 253.3,1433.7" fill="none" stroke="#56B4E9" stroke-width="1.6" stroke-linejoin="round" />
<polyline points="268.8,1434.1 271.9,1433.3 275,1433.7 278.1,1433.5 281.3,1434.1 284.4,1433.4 287.5,1434.2 290.6,1433.4 293.7,1433.4 296.8,1433.9 300,1433.7 303.1,1433.2 306.2,1433.9 309.3,1433.2" fill="none" stroke="#56B4E9" stroke-width="1.6" stroke-linejoin="round" />
<polyline points="325.9,1434 328.9,1433.9 332,1434 335,1433.9 338.1,1433.5 341.1,1433.6 344.2,1433.6 347.2,1434.2 350.3,1433.2 353.3,1434.2 356.4,1433.1 359.4,1433.3 362.5,1433.4 365.5,1434.2 368.6,1433.7 371.6,1433.6 374.7,1434.2" fill="none" stroke="#56B4E9" stroke-width="1.6" stroke-linejoin="round" />
<polyline points="392,1433.4 395.1,1433.7 398.1,1433.7 401.2,1434 404.3,1434 407.3,1433.9 410.4,1433.5 413.5,1433.5 416.5,1433.3 419.6,1434.1 422.7,1433.9 425.7,1434 428.8,1433.3 431.9,1433.6 434.9,1434 438,1433.8" fill="none" stroke="#56B4E9" stroke-width="1.6" stroke-linejoin="round" />
<polyline points="455.5,1433.3 458.6,1433.7 461.6,1434.2 464.7,1433.4 467.8,1433.3 470.8,1433.5 473.9,1433.9 476.9,1434.1 480,1433.3 483.1,1433.3 486.1,1433.4 489.2,1433.5 492.2,1433.7 495.3,1433.3 498.4,1433.5 501.4,1433.3 504.5,1434.3" fill="none" stroke="#56B4E9" stroke-width="1.6" stroke-linejoin="round" />
<polyline points="522.3,1434 525.3,1433.2 528.4,1434.3 531.4,1433.2 534.5,1433.6 537.5,1434.3 540.6,1434.1 543.6,1434 546.7,1433.6 549.8,1433.3 552.8,1433.9 555.9,1433.2 558.9,1433.3 562,1433.6 565,1433.1 568.1,1433.6 571.1,1434" fill="none" stroke="#56B4E9" stroke-width="1.6" stroke-linejoin="round" />
<polyline points="589,1433.9 592,1433.7 595,1433.9 598,1433.7 601,1433.3 604,1433.8 607,1433.6 610,1434 613,1434.2 616,1433.6 619,1433.8 622,1434 625,1433.6 628,1433.4 631,1434 634,1434.2 637,1434" fill="none" stroke="#56B4E9" stroke-width="1.6" stroke-linejoin="round" />
<polyline points="656,1433.9 659.1,1434.1 662.2,1433.9 665.3,1433.9 668.4,1433.6 671.5,1433.5 674.6,1433.9 677.7,1433.2 680.8,1433.6 683.9,1434 686.9,1434 690,1433.9 693.1,1433.4 696.2,1433.6 699.3,1433.6 702.4,1433.8 705.5,1433.6 708.6,1433.9 711.7,1434.2" fill="none" stroke="#56B4E9" stroke-width="1.6" stroke-linejoin="round" />
<polyline points="732,1433.3 735.1,1433.9 738.2,1434 741.3,1433.6 744.3,1433.7 747.4,1434.3 750.5,1433.1 753.6,1433.8 756.7,1433.3 759.8,1434 762.9,1434.2 766,1433.7 769,1433.2 772.1,1433.8 775.2,1433.7 778.3,1434 781.4,1433.7 784.5,1433.9 787.6,1434.1 790.6,1433.7 793.7,1433.6 796.8,1434.2 799.9,1433.4" fill="none" stroke="#56B4E9" stroke-width="1.6" stroke-linejoin="round" />
<polyline points="820.2,1433.9 823.2,1433.6 826.3,1434 829.3,1433.2 832.3,1434.3 835.4,1433.5 838.4,1433.2 841.4,1433.4 844.4,1433.6 847.5,1433.1 850.5,1433.6 853.5,1433.6 856.6,1433.9 859.6,1433.5 862.6,1433.4 865.7,1433.4 868.7,1434 871.7,1434.2 874.8,1433.7 877.8,1433.4 880.8,1434.1 883.8,1433.6 886.9,1433.4 889.9,1433.3 892.9,1434 896,1434.1 899,1433.9" fill="none" stroke="#56B4E9" stroke-width="1.6" stroke-linejoin="round" />
<polyline points="921.4,1433.7 924.5,1433.8 927.5,1433.4 930.6,1434.3 933.7,1433.5 936.7,1433.9 939.8,1434.1 942.8,1434.1 945.9,1433.7 949,1433.5 952,1433.8 955.1,1433.3 958.2,1434.1 961.2,1433.5 964.3,1434.1 967.4,1433.4 970.4,1433.6 973.5,1433.4 976.5,1433.6 979.6,1433.3 982.7,1433.1 985.7,1434 988.8,1433.4 991.9,1433.4 994.9,1433.5 998,1433.7 1001.1,1433.6 1004.1,1433.9 1007.2,1433.9 1010.2,1433.5 1013.3,1434.2 1016.4,1434.1 1019.4,1433.2 1022.5,1434.1" fill="none" stroke="#56B4E9" stroke-width="1.6" stroke-linejoin="round" />
<polyline points="1047.4,1434.2 1050.5,1434 1053.5,1433.3 1056.6,1434.1 1059.7,1433.9 1062.8,1433.1 1065.8,1433.1 1068.9,1434.2 1072,1433.9 1075.1,1433.4 1078.1,1433.2 1081.2,1433.3 1084.3,1433.4 1087.4,1434 1090.4,1433.5 1093.5,1433.3 1096.6,1434.2 1099.7,1434.1 1102.7,1433.3 1105.8,1434.2 1108.9,1433.8 1112,1434 1115,1433.9 1118.1,1434.2 1121.2,1434 1124.3,1434.1 1127.3,1433.3 1130.4,1433.9 1133.5,1433.7 1136.6,1434 1139.6,1433.6 1142.7,1434.2 1145.8,1433.8 1148.9,1433.4 1151.9,1433.4 1155,1433.3 1158.1,1433.7 1161.2,1433.2 1164.2,1433.7 1167.3,1433.3" fill="none" stroke="#56B4E9" stroke-width="1.6" stroke-linejoin="round" />
<polyline points="139.6,1432.7 142.7,1432.7 145.8,1432.8 148.9,1433.4 152,1431.8 155.1,1433.3 158.2,1432.6" fill="none" stroke="#E69F00" stroke-width="1.4" stroke-linejoin="round" />
<polyline points="139.6,1432.5 142.7,1432.7 145.8,1433 148.9,1432.2 152,1432.3 155.1,1433.2 158.2,1431.6" fill="none" stroke="#E69F00" stroke-width="1.4" stroke-linejoin="round" />
<polyline points="139.6,1432.3 142.7,1432.3 145.8,1431.3 148.9,1432.3 152,1432.4 155.1,1432.9 158.2,1431.8" fill="none" stroke="#D55E00" stroke-width="1.4" stroke-linejoin="round" />
<polyline points="139.6,1432.7 142.7,1431.8 145.8,1431.8 148.9,1432.5 152,1431 155.1,1432.2 158.2,1432" fill="none" stroke="#D55E00" stroke-width="1.4" stroke-linejoin="round" />
<polyline points="173.4,1432.4 176.6,1433.3 179.7,1432.3 182.9,1432 186,1431.6 189.2,1431.9 192.3,1430.3 195.5,1429.9 198.6,1428.8 201.8,1428.9" fill="none" stroke="#E69F00" stroke-width="1.4" stroke-linejoin="round" />
<polyline points="173.4,1433 176.6,1432 179.7,1432.8 182.9,1431.3 186,1430.7 189.2,1430.1 192.3,1429.7 195.5,1429.5 198.6,1427.4 201.8,1427.5" fill="none" stroke="#E69F00" stroke-width="1.4" stroke-linejoin="round" />
<polyline points="173.4,1431.8 176.6,1431.7 179.7,1431.5 182.9,1431.2 186,1430.4 189.2,1430.4 192.3,1428.1 195.5,1428.1 198.6,1426.5 201.8,1425.8" fill="none" stroke="#D55E00" stroke-width="1.4" stroke-linejoin="round" />
<polyline points="173.4,1431 176.6,1431.4 179.7,1430.7 182.9,1430.4 186,1431 189.2,1430.2 192.3,1429.6 195.5,1428.8 198.6,1427.5 201.8,1426.9" fill="none" stroke="#D55E00" stroke-width="1.4" stroke-linejoin="round" />
<polyline points="217.6,1432.9 220.8,1432.9 224.1,1433 227.3,1432.2 230.6,1431.6 233.8,1431.9 237.1,1433 240.3,1432.6 243.6,1432.8 246.8,1431 250.1,1431.3 253.3,1431.6" fill="none" stroke="#E69F00" stroke-width="1.4" stroke-linejoin="round" />
<polyline points="217.6,1432.9 220.8,1433.1 224.1,1432.6 227.3,1431.2 230.6,1430.9 233.8,1432.5 237.1,1432.5 240.3,1431.9 243.6,1431.5 246.8,1430.9 250.1,1430.9 253.3,1431.9" fill="none" stroke="#E69F00" stroke-width="1.4" stroke-linejoin="round" />
<polyline points="217.6,1432.4 220.8,1432.9 224.1,1431.2 227.3,1431.1 230.6,1428.8 233.8,1430.9 237.1,1432.6 240.3,1432.1 243.6,1432.2 246.8,1430.4 250.1,1429.8 253.3,1431.5" fill="none" stroke="#D55E00" stroke-width="1.4" stroke-linejoin="round" />
<polyline points="217.6,1432 220.8,1432.6 224.1,1432.6 227.3,1430.8 230.6,1429.7 233.8,1430.7 237.1,1432 240.3,1431.2 243.6,1430.7 246.8,1429.7 250.1,1429.8 253.3,1431.8" fill="none" stroke="#D55E00" stroke-width="1.4" stroke-linejoin="round" />
<polyline points="268.8,1432 271.9,1433.5 275,1431.9 278.1,1433.3 281.3,1431.9 284.4,1431.5 287.5,1432.6 290.6,1431.7 293.7,1432.7 296.8,1431.9 300,1431.8 303.1,1433.2 306.2,1433.1 309.3,1433.3" fill="none" stroke="#E69F00" stroke-width="1.4" stroke-linejoin="round" />
<polyline points="268.8,1432.8 271.9,1431.6 275,1432.6 278.1,1432.7 281.3,1432.1 284.4,1432.8 287.5,1431.3 290.6,1432.5 293.7,1432.2 296.8,1431.2 300,1431.4 303.1,1432.6 306.2,1433 309.3,1431.6" fill="none" stroke="#E69F00" stroke-width="1.4" stroke-linejoin="round" />
<polyline points="268.8,1431.8 271.9,1432.5 275,1431.5 278.1,1432.7 281.3,1431.9 284.4,1430.8 287.5,1431.1 290.6,1431.4 293.7,1431.3 296.8,1432 300,1431.3 303.1,1432.6 306.2,1431.8 309.3,1432.4" fill="none" stroke="#D55E00" stroke-width="1.4" stroke-linejoin="round" />
<polyline points="268.8,1432 271.9,1431.7 275,1431.6 278.1,1432.3 281.3,1432.4 284.4,1431.9 287.5,1431.3 290.6,1430.8 293.7,1430.5 296.8,1432.4 300,1432 303.1,1432.4 306.2,1431.5 309.3,1432" fill="none" stroke="#D55E00" stroke-width="1.4" stroke-linejoin="round" />
<polyline points="325.9,1433.5 328.9,1433.1 332,1432.2 335,1431.3 338.1,1431.9 341.1,1433.2 344.2,1432.4 347.2,1431.9 350.3,1430.4 353.3,1432.7 356.4,1433.2 359.4,1431.9 362.5,1430.3 365.5,1430.3 368.6,1431.5 371.6,1432.6 374.7,1433.2" fill="none" stroke="#E69F00" stroke-width="1.4" stroke-linejoin="round" />
<polyline points="325.9,1433.1 328.9,1431.3 332,1432.1 335,1431.5 338.1,1432.2 341.1,1432.3 344.2,1431.9 347.2,1431.5 350.3,1429.4 353.3,1431.7 356.4,1433 359.4,1431.5 362.5,1429.5 365.5,1429.6 368.6,1431.4 371.6,1431.5 374.7,1432.8" fill="none" stroke="#E69F00" stroke-width="1.4" stroke-linejoin="round" />
<polyline points="325.9,1432.8 328.9,1431.3 332,1431.2 335,1430.7 338.1,1431 341.1,1431.3 344.2,1431.5 347.2,1430.7 350.3,1428.4 353.3,1430.8 356.4,1431.2 359.4,1431.9 362.5,1430.1 365.5,1428.3 368.6,1430.5 371.6,1432.4 374.7,1432.8" fill="none" stroke="#D55E00" stroke-width="1.4" stroke-linejoin="round" />
<polyline points="325.9,1431.8 328.9,1431.5 332,1431.1 335,1429.9 338.1,1430.4 341.1,1431 344.2,1432.1 347.2,1430.1 350.3,1428.5 353.3,1430.6 356.4,1431.7 359.4,1430.6 362.5,1429 365.5,1430 368.6,1430.1 371.6,1430.8 374.7,1432" fill="none" stroke="#D55E00" stroke-width="1.4" stroke-linejoin="round" />
<polyline points="522.3,1433.2 525.3,1432.1 528.4,1432.9 531.4,1432.4 534.5,1432.7 537.5,1431.8 540.6,1431.8 543.6,1433.3 546.7,1432.2 549.8,1430.5 552.8,1429.8 555.9,1427.4 558.9,1429.1 562,1429.4 565,1432.5 568.1,1433.1 571.1,1433.3" fill="none" stroke="#E69F00" stroke-width="1.4" stroke-linejoin="round" />
<polyline points="522.3,1433.2 525.3,1432 528.4,1431.6 531.4,1431.9 534.5,1431.8 537.5,1431.6 540.6,1431.6 543.6,1432.1 546.7,1431.4 549.8,1429.2 552.8,1428.9 555.9,1426.3 558.9,1425.9 562,1428.1 565,1430.8 568.1,1431.7 571.1,1433.2" fill="none" stroke="#E69F00" stroke-width="1.4" stroke-linejoin="round" />
<polyline points="522.3,1431.7 525.3,1432.2 528.4,1432.4 531.4,1432.9 534.5,1432.4 537.5,1431.9 540.6,1432 543.6,1431 546.7,1430.9 549.8,1429.3 552.8,1426.6 555.9,1423.2 558.9,1424.9 562,1426.6 565,1431.2 568.1,1432.8 571.1,1432.7" fill="none" stroke="#D55E00" stroke-width="1.4" stroke-linejoin="round" />
<polyline points="522.3,1431 525.3,1432.3 528.4,1432.2 531.4,1432.1 534.5,1432.7 537.5,1431 540.6,1431.1 543.6,1431.9 546.7,1431 549.8,1429.2 552.8,1427.4 555.9,1425.5 558.9,1426.8 562,1426.9 565,1430.2 568.1,1431.3 571.1,1431.1" fill="none" stroke="#D55E00" stroke-width="1.4" stroke-linejoin="round" />
<polyline points="589,1432.7 592,1432.1 595,1432.2 598,1431.9 601,1432.3 604,1430.4 607,1431.8 610,1431.7 613,1431 616,1427.2 619,1428 622,1432.3 625,1430.8 628,1432.5 631,1432 634,1432.6 637,1432" fill="none" stroke="#E69F00" stroke-width="1.4" stroke-linejoin="round" />
<polyline points="589,1433.2 592,1433 595,1432.6 598,1432.1 601,1431.1 604,1430.9 607,1430.6 610,1432 613,1430.5 616,1423.1 619,1425.7 622,1431.1 625,1428.9 628,1430.4 631,1433 634,1432 637,1432.2" fill="none" stroke="#E69F00" stroke-width="1.4" stroke-linejoin="round" />
<polyline points="589,1431.5 592,1431.7 595,1432.7 598,1431.6 601,1430.3 604,1429.7 607,1429.7 610,1432.1 613,1430 616,1422.6 619,1424.3 622,1430.9 625,1428.2 628,1430 631,1432 634,1431.7 637,1431.7" fill="none" stroke="#D55E00" stroke-width="1.4" stroke-linejoin="round" />
<polyline points="589,1431.3 592,1431.6 595,1432.7 598,1432.5 601,1431.6 604,1429.1 607,1429.7 610,1431.9 613,1429.9 616,1423.9 619,1425.9 622,1431.1 625,1427.5 628,1431.1 631,1431.5 634,1431.2 637,1430.9" fill="none" stroke="#D55E00" stroke-width="1.4" stroke-linejoin="round" />
<polyline points="656,1433.3 659.1,1432.7 662.2,1432.1 665.3,1432.6 668.4,1433.4 671.5,1432.2 674.6,1432.8 677.7,1432 680.8,1432.1 683.9,1433.2 686.9,1432.4 690,1430.1 693.1,1431.2 696.2,1431.4 699.3,1431.9 702.4,1431.9 705.5,1432.1 708.6,1432.1 711.7,1432.9" fill="none" stroke="#E69F00" stroke-width="1.4" stroke-linejoin="round" />
<polyline points="656,1432.8 659.1,1433 662.2,1432.5 665.3,1431.9 668.4,1431.6 671.5,1432.8 674.6,1432.2 677.7,1432.8 680.8,1431.6 683.9,1432.9 686.9,1431.1 690,1430.1 693.1,1431.9 696.2,1431.6 699.3,1430.1 702.4,1432.1 705.5,1432 708.6,1433 711.7,1432" fill="none" stroke="#E69F00" stroke-width="1.4" stroke-linejoin="round" />
<polyline points="656,1431.5 659.1,1432.7 662.2,1431.9 665.3,1431.5 668.4,1431.9 671.5,1432.3 674.6,1431.2 677.7,1432.1 680.8,1432 683.9,1432.1 686.9,1430.2 690,1429.1 693.1,1431.4 696.2,1431.9 699.3,1430.1 702.4,1431.2 705.5,1431.5 708.6,1432.5 711.7,1431.3" fill="none" stroke="#D55E00" stroke-width="1.4" stroke-linejoin="round" />
<polyline points="656,1432.5 659.1,1432.6 662.2,1431.8 665.3,1431.8 668.4,1431.9 671.5,1431.9 674.6,1430.9 677.7,1432.6 680.8,1431.3 683.9,1431.2 686.9,1430.1 690,1428.6 693.1,1431.3 696.2,1430.2 699.3,1429.7 702.4,1431.1 705.5,1430.9 708.6,1430.9 711.7,1432" fill="none" stroke="#D55E00" stroke-width="1.4" stroke-linejoin="round" />
<polyline points="732,1432.8 735.1,1432.7 738.2,1433.1 741.3,1432 744.3,1433.4 747.4,1433 750.5,1431.1 753.6,1430.2 756.7,1430.9 759.8,1432 762.9,1431.9 766,1430.2 769,1428.6 772.1,1428.6 775.2,1428.9 778.3,1427.3 781.4,1430.5 784.5,1431.8 787.6,1429.7 790.6,1427.6 793.7,1429.6 796.8,1426.4 799.9,1428.5" fill="none" stroke="#E69F00" stroke-width="1.4" stroke-linejoin="round" />
<polyline points="732,1432.3 735.1,1433 738.2,1432.4 741.3,1432.2 744.3,1433.2 747.4,1432.7 750.5,1431 753.6,1429.3 756.7,1429.6 759.8,1431.3 762.9,1432.7 766,1430.4 769,1427.6 772.1,1428.1 775.2,1427.4 778.3,1423 781.4,1430.2 784.5,1431.7 787.6,1428.3 790.6,1425.5 793.7,1427.1 796.8,1422.5 799.9,1426.5" fill="none" stroke="#E69F00" stroke-width="1.4" stroke-linejoin="round" />
<polyline points="732,1432.2 735.1,1431.3 738.2,1432 741.3,1432.1 744.3,1431.2 747.4,1431.2 750.5,1431.7 753.6,1429.5 756.7,1429.9 759.8,1431.2 762.9,1431.9 766,1429.8 769,1426.3 772.1,1425.5 775.2,1425.7 778.3,1421.5 781.4,1429.8 784.5,1429.9 787.6,1426.5 790.6,1425.3 793.7,1426.2 796.8,1419.8 799.9,1425.5" fill="none" stroke="#D55E00" stroke-width="1.4" stroke-linejoin="round" />
<polyline points="732,1431.7 735.1,1432.6 738.2,1431.4 741.3,1431.4 744.3,1432.1 747.4,1431 750.5,1431 753.6,1430.2 756.7,1429.5 759.8,1430.5 762.9,1431.2 766,1429.4 769,1426 772.1,1426.5 775.2,1425.8 778.3,1423.3 781.4,1429.5 784.5,1430 787.6,1426.8 790.6,1425 793.7,1427 796.8,1422.9 799.9,1426.7" fill="none" stroke="#D55E00" stroke-width="1.4" stroke-linejoin="round" />
<polyline points="820.2,1432.8 823.2,1433 826.3,1432.2 829.3,1433.1 832.3,1432.6 835.4,1432.8 838.4,1432.9 841.4,1432.6 844.4,1432.4 847.5,1432.2 850.5,1432.1 853.5,1432.2 856.6,1431.4 859.6,1431.3 862.6,1430.6 865.7,1431.8 868.7,1432.7 871.7,1430.1 874.8,1429.1 877.8,1428.5 880.8,1426.8 883.8,1429.8 886.9,1430.5 889.9,1430.1 892.9,1430.9 896,1431.9 899,1433.4" fill="none" stroke="#E69F00" stroke-width="1.4" stroke-linejoin="round" />
<polyline points="820.2,1432.3 823.2,1431.6 826.3,1432.2 829.3,1432.3 832.3,1432.8 835.4,1431.7 838.4,1431.9 841.4,1433.2 844.4,1432.8 847.5,1431.8 850.5,1431.9 853.5,1431.5 856.6,1431.2 859.6,1430.5 862.6,1431.2 865.7,1432 868.7,1431.5 871.7,1429.8 874.8,1427.6 877.8,1427 880.8,1424.6 883.8,1427.5 886.9,1430.2 889.9,1428.8 892.9,1430.1 896,1433 899,1431.5" fill="none" stroke="#E69F00" stroke-width="1.4" stroke-linejoin="round" />
<polyline points="820.2,1432.6 823.2,1432.3 826.3,1432.1 829.3,1432.9 832.3,1432.2 835.4,1432 838.4,1432.6 841.4,1432.8 844.4,1432.3 847.5,1431.9 850.5,1431.8 853.5,1431.2 856.6,1430.7 859.6,1429.2 862.6,1429.8 865.7,1431.1 868.7,1430.7 871.7,1428.2 874.8,1426.4 877.8,1425.8 880.8,1422.9 883.8,1425.7 886.9,1428.5 889.9,1426.6 892.9,1429.5 896,1432.1 899,1432.2" fill="none" stroke="#D55E00" stroke-width="1.4" stroke-linejoin="round" />
<polyline points="820.2,1431.1 823.2,1432.6 826.3,1431.5 829.3,1432.4 832.3,1432.4 835.4,1432.6 838.4,1431.3 841.4,1431.7 844.4,1432.5 847.5,1430.9 850.5,1430.8 853.5,1431.3 856.6,1430.3 859.6,1430.5 862.6,1430.6 865.7,1431 868.7,1431.8 871.7,1429 874.8,1426.9 877.8,1426.6 880.8,1424.3 883.8,1426.5 886.9,1429.6 889.9,1427.4 892.9,1431 896,1432 899,1431.8" fill="none" stroke="#D55E00" stroke-width="1.4" stroke-linejoin="round" />
<polyline points="921.4,1432 924.5,1432.5 927.5,1432.4 930.6,1432.2 933.7,1431.4 936.7,1432 939.8,1432.6 942.8,1429.6 945.9,1426.4 949,1429.2 952,1431.2 955.1,1429.3 958.2,1430.9 961.2,1432.8 964.3,1431.6 967.4,1430.6 970.4,1431 973.5,1431.9 976.5,1432.4 979.6,1432 982.7,1433.4 985.7,1432.7 988.8,1430.4 991.9,1430.2 994.9,1432.9 998,1432.5 1001.1,1432.1 1004.1,1432.3 1007.2,1432.7 1010.2,1432.7 1013.3,1432.1 1016.4,1432.1 1019.4,1432.9 1022.5,1432.9" fill="none" stroke="#E69F00" stroke-width="1.4" stroke-linejoin="round" />
<polyline points="921.4,1432.1 924.5,1433.3 927.5,1432.5 930.6,1430.7 933.7,1430.3 936.7,1431 939.8,1430.8 942.8,1428.4 945.9,1422.8 949,1426.7 952,1429.6 955.1,1428.2 958.2,1430.1 961.2,1431.1 964.3,1431.6 967.4,1429.9 970.4,1428.4 973.5,1430.7 976.5,1432 979.6,1433.3 982.7,1432.5 985.7,1431.8 988.8,1427.7 991.9,1426.9 994.9,1432.1 998,1431.7 1001.1,1431.7 1004.1,1431.8 1007.2,1432.4 1010.2,1433 1013.3,1432.6 1016.4,1433 1019.4,1431.6 1022.5,1431.5" fill="none" stroke="#E69F00" stroke-width="1.4" stroke-linejoin="round" />
<polyline points="921.4,1432.6 924.5,1431.8 927.5,1432.3 930.6,1430.9 933.7,1429.2 936.7,1429.5 939.8,1429.9 942.8,1427.7 945.9,1422 949,1425.5 952,1427.9 955.1,1426.8 958.2,1428.2 961.2,1432 964.3,1431.3 967.4,1429.9 970.4,1427.8 973.5,1430 976.5,1431.1 979.6,1431.2 982.7,1432.9 985.7,1432.2 988.8,1427 991.9,1427.1 994.9,1431.8 998,1431.7 1001.1,1432.3 1004.1,1432.9 1007.2,1432.1 1010.2,1432.9 1013.3,1431.6 1016.4,1431.9 1019.4,1432.5 1022.5,1431.6" fill="none" stroke="#D55E00" stroke-width="1.4" stroke-linejoin="round" />
<polyline points="921.4,1431.5 924.5,1432.5 927.5,1431.6 930.6,1431.5 933.7,1429.5 936.7,1429.4 939.8,1430.4 942.8,1427.1 945.9,1424.4 949,1426.4 952,1428.7 955.1,1427 958.2,1429.4 961.2,1430.9 964.3,1430.9 967.4,1428.6 970.4,1427.8 973.5,1430.5 976.5,1431.1 979.6,1431.3 982.7,1431.2 985.7,1431 988.8,1427.5 991.9,1426.4 994.9,1431.4 998,1431.5 1001.1,1431.2 1004.1,1432.2 1007.2,1431.1 1010.2,1431.4 1013.3,1432.4 1016.4,1431.1 1019.4,1431.7 1022.5,1432.4" fill="none" stroke="#D55E00" stroke-width="1.4" stroke-linejoin="round" />
<polyline points="1047.4,1433.2 1050.5,1432.1 1053.5,1432.4 1056.6,1433.1 1059.7,1432.5 1062.8,1433.5 1065.8,1432.2 1068.9,1433.5 1072,1432.7 1075.1,1432.2 1078.1,1432.6 1081.2,1432 1084.3,1433.1 1087.4,1432.3 1090.4,1433.4 1093.5,1432.9 1096.6,1432.5 1099.7,1432.2 1102.7,1432.9 1105.8,1432.2 1108.9,1433.4 1112,1432 1115,1432.7 1118.1,1432.8 1121.2,1432.3 1124.3,1433.2 1127.3,1432.5 1130.4,1433 1133.5,1432.8 1136.6,1432.4 1139.6,1432.5 1142.7,1432 1145.8,1432.1 1148.9,1433.3 1151.9,1432.4 1155,1433 1158.1,1432 1161.2,1432.8 1164.2,1432.5 1167.3,1432.7" fill="none" stroke="#E69F00" stroke-width="1.4" stroke-linejoin="round" />
<polyline points="1047.4,1432 1050.5,1431.6 1053.5,1432.1 1056.6,1431.9 1059.7,1431.7 1062.8,1432.8 1065.8,1432 1068.9,1432.2 1072,1433.1 1075.1,1432.9 1078.1,1433.1 1081.2,1433.1 1084.3,1431.7 1087.4,1432 1090.4,1431.6 1093.5,1432.7 1096.6,1432.7 1099.7,1432.1 1102.7,1432.2 1105.8,1432.7 1108.9,1432.8 1112,1431.9 1115,1433 1118.1,1432.1 1121.2,1432.6 1124.3,1431.8 1127.3,1431.7 1130.4,1433.1 1133.5,1432.8 1136.6,1432.8 1139.6,1431.6 1142.7,1431.6 1145.8,1431.8 1148.9,1431.9 1151.9,1432 1155,1432.2 1158.1,1431.6 1161.2,1432.1 1164.2,1432.6 1167.3,1431.8" fill="none" stroke="#E69F00" stroke-width="1.4" stroke-linejoin="round" />
<polyline points="1047.4,1432.7 1050.5,1432.2 1053.5,1432.5 1056.6,1431.7 1059.7,1432 1062.8,1432.4 1065.8,1431.8 1068.9,1431.2 1072,1432.7 1075.1,1432.6 1078.1,1431.7 1081.2,1431.3 1084.3,1432.7 1087.4,1432.3 1090.4,1431.3 1093.5,1431.6 1096.6,1431.4 1099.7,1432.6 1102.7,1431.6 1105.8,1432.8 1108.9,1432.5 1112,1431.4 1115,1432.5 1118.1,1431.9 1121.2,1432.5 1124.3,1432.7 1127.3,1431.7 1130.4,1431.4 1133.5,1432.9 1136.6,1432 1139.6,1432.9 1142.7,1432.4 1145.8,1432.5 1148.9,1432.7 1151.9,1432.3 1155,1432 1158.1,1431.3 1161.2,1432.5 1164.2,1432 1167.3,1432.1" fill="none" stroke="#D55E00" stroke-width="1.4" stroke-linejoin="round" />
<polyline points="1047.4,1432.6 1050.5,1431.1 1053.5,1432.3 1056.6,1431 1059.7,1432.2 1062.8,1432.4 1065.8,1431.4 1068.9,1431.9 1072,1432.6 1075.1,1432 1078.1,1431.9 1081.2,1431.3 1084.3,1431 1087.4,1431.5 1090.4,1431.6 1093.5,1431.3 1096.6,1431.5 1099.7,1431.1 1102.7,1432.2 1105.8,1432.1 1108.9,1431.3 1112,1431.3 1115,1431.8 1118.1,1431.7 1121.2,1432.6 1124.3,1431.5 1127.3,1431.4 1130.4,1432.5 1133.5,1431.2 1136.6,1431.9 1139.6,1431.5 1142.7,1432.4 1145.8,1431.9 1148.9,1432.3 1151.9,1431.2 1155,1432.1 1158.1,1432 1161.2,1431.7 1164.2,1432.3 1167.3,1432.4" fill="none" stroke="#D55E00" stroke-width="1.4" stroke-linejoin="round" />
<polyline points="392.2,1428.8 407,1427.7 422,1425.6 430,1417 434,1414.5 437.9,1417" fill="none" stroke="#E69F00" stroke-width="1.5" stroke-linejoin="round" />
<polyline points="392.2,1430 407,1429.8 422,1427.7 430,1423 434,1421 437.9,1425" fill="none" stroke="#E69F00" stroke-width="1.5" stroke-linejoin="round" />
<polyline points="455.9,1379 463.2,1316.8 467.7,1278.4 471.5,1298.1 475.6,1304.3 481.9,1358.3 490.2,1379 498.5,1406 504.7,1412.2" fill="none" stroke="#E69F00" stroke-width="1.5" stroke-linejoin="round" />
<polyline points="455.9,1395.6 463.2,1368.6 467.7,1331.3 472.5,1340.6 475.6,1341.7 481.9,1379 490.2,1399.8 498.5,1414.3 504.7,1417.4" fill="none" stroke="#E69F00" stroke-width="1.5" stroke-linejoin="round" />
<polyline points="139.6,1433 145,1432 148.8,1425.5 151,1428 153,1433 158.2,1432.5" fill="none" stroke="#E69F00" stroke-width="1.5" stroke-linejoin="round" />
<polyline points="1047.4,1427 1057,1428 1064,1424 1071,1418 1078,1424 1088,1430 1095,1431" fill="none" stroke="#E69F00" stroke-width="1.5" stroke-linejoin="round" />
<polyline points="1047.4,1428 1058,1429 1066,1426 1072,1422 1080,1428 1095,1431.5" fill="none" stroke="#E69F00" stroke-width="1.5" stroke-linejoin="round" />
<polyline points="392.2,1426.7 400.9,1419.5 407.2,1422.6 415.5,1418.4 421.7,1420.5 427.9,1408.1 432.1,1393.5 437.9,1403.9" fill="none" stroke="#D55E00" stroke-width="1.5" stroke-linejoin="round" />
<polyline points="392.2,1428.8 403,1422.6 411.3,1424.7 421.7,1422.6 427.9,1416.4 432.1,1399.8 437.9,1414.3" fill="none" stroke="#D55E00" stroke-width="1.5" stroke-linejoin="round" />
<polyline points="455.9,1347.9 463.2,1254.5 467.7,1179.4 472.5,1208.9 475.6,1210.9 479.8,1275.3 483.9,1331.3 488.1,1335.4 494.3,1358.3 498.5,1389.4 501.6,1398.7 504.7,1397.7" fill="none" stroke="#D55E00" stroke-width="1.5" stroke-linejoin="round" />
<polyline points="455.9,1376.9 463.2,1306.4 467.7,1249.3 471.5,1275.3 477.7,1306.4 483.9,1358.3 490.2,1372.8 498.5,1399.8 504.7,1403.9" fill="none" stroke="#D55E00" stroke-width="1.5" stroke-linejoin="round" />
<polyline points="139.6,1432.5 144,1431.5 146.3,1420 148,1412.3 150,1416 152,1428 155,1431.5 158.2,1432" fill="none" stroke="#D55E00" stroke-width="1.5" stroke-linejoin="round" />
<polyline points="1047.4,1424 1055,1425 1062,1420 1067,1412 1071,1405.9 1075,1408 1079,1420 1084,1428 1090,1431 1100,1430" fill="none" stroke="#D55E00" stroke-width="1.5" stroke-linejoin="round" />
<polyline points="1047.4,1426 1056,1427 1063,1422 1068,1416 1072,1411 1077,1420 1083,1428 1092,1431" fill="none" stroke="#D55E00" stroke-width="1.5" stroke-linejoin="round" />
<text x="12.9" y="1589.2" font-size="40" fill="#000" text-anchor="start" font-weight="bold" textLength="24.5" lengthAdjust="spacingAndGlyphs" stroke="#000" stroke-width="0.8">c</text>
<rect x="685.3" y="1628.5" width="84.5" height="547.5" fill="#cfeeee" />
<line x1="376" y1="1653.2" x2="791.8" y2="1653.2" stroke="#ebebeb" stroke-width="2" />
<line x1="376" y1="1759.3" x2="791.8" y2="1759.3" stroke="#ebebeb" stroke-width="2" />
<line x1="376" y1="1865.4" x2="791.8" y2="1865.4" stroke="#ebebeb" stroke-width="2" />
<line x1="376" y1="1971.5" x2="791.8" y2="1971.5" stroke="#ebebeb" stroke-width="2" />
<line x1="376" y1="2077.6" x2="791.8" y2="2077.6" stroke="#ebebeb" stroke-width="2" />
<line x1="376" y1="1706.2" x2="791.8" y2="1706.2" stroke="#f0f0f0" stroke-width="1.2" />
<line x1="376" y1="1812.3" x2="791.8" y2="1812.3" stroke="#f0f0f0" stroke-width="1.2" />
<line x1="376" y1="1918.5" x2="791.8" y2="1918.5" stroke="#f0f0f0" stroke-width="1.2" />
<line x1="376" y1="2024.5" x2="791.8" y2="2024.5" stroke="#f0f0f0" stroke-width="1.2" />
<line x1="376" y1="2130.7" x2="791.8" y2="2130.7" stroke="#f0f0f0" stroke-width="1.2" />
<rect x="685.3" y="1628.5" width="84.5" height="547.5" fill="#cfeeee" />
<line x1="681.9" y1="1628.5" x2="681.9" y2="2176" stroke="#ebebeb" stroke-width="2" />
<line x1="365.1" y1="1653.2" x2="376.5" y2="1653.2" stroke="#333" stroke-width="1.4" />
<text x="330.6" y="1661.7" font-size="24.3" fill="#000" text-anchor="start" textLength="28.7" lengthAdjust="spacingAndGlyphs" >50</text>
<line x1="365.1" y1="1759.3" x2="376.5" y2="1759.3" stroke="#333" stroke-width="1.4" />
<text x="330.6" y="1767.8" font-size="24.3" fill="#000" text-anchor="start" textLength="28.7" lengthAdjust="spacingAndGlyphs" >40</text>
<line x1="365.1" y1="1865.4" x2="376.5" y2="1865.4" stroke="#333" stroke-width="1.4" />
<text x="330.6" y="1873.9" font-size="24.3" fill="#000" text-anchor="start" textLength="28.7" lengthAdjust="spacingAndGlyphs" >30</text>
<line x1="365.1" y1="1971.5" x2="376.5" y2="1971.5" stroke="#333" stroke-width="1.4" />
<text x="330.6" y="1980" font-size="24.3" fill="#000" text-anchor="start" textLength="28.7" lengthAdjust="spacingAndGlyphs" >20</text>
<line x1="365.1" y1="2077.6" x2="376.5" y2="2077.6" stroke="#333" stroke-width="1.4" />
<text x="330.6" y="2086.1" font-size="24.3" fill="#000" text-anchor="start" textLength="28.7" lengthAdjust="spacingAndGlyphs" >10</text>
<text x="310.7" y="1915.1" font-size="27" fill="#000" text-anchor="start" font-style="italic" textLength="23.3" lengthAdjust="spacingAndGlyphs" transform="rotate(-90 310.7 1915.1)" >G′</text>
<text x="656.3" y="1604.5" font-size="27" fill="#000" text-anchor="start" textLength="60.9" lengthAdjust="spacingAndGlyphs" >1 Mb</text>
<rect x="680.1" y="1613" width="3.4" height="16" fill="#333" />
<polyline points="395.5,2140.1 419.1,2139.6 442.6,2132.7 466.1,2126.9 489.7,2103.2 513.2,2037.4 536.8,1965.5 560.4,1965.5 583.9,1981.4 607.5,1927.6 631,1881 654.5,1936.2 678.1,1929.7 701.7,1868 725.2,1806.2 748.8,1653.2 772.3,1712.2" fill="none" stroke="#0072B2" stroke-width="3" stroke-linejoin="round" />
<polyline points="395.5,2148 419.1,2138.8 442.6,2132.2 466.1,2136.1 489.7,2125.6 513.2,2076.9 536.8,2005.1 560.4,1993.5 583.9,1996.5 607.5,1996.5 631,1962.9 654.5,1975 678.1,1990.1 701.7,1951.3 725.2,1888.8 748.8,1745.8 772.3,1778.2" fill="none" stroke="#0072B2" stroke-width="3" stroke-linejoin="round" />
<polyline points="395.5,2138 419.1,2134.8 442.6,2126.4 466.1,2126.9 489.7,2116.4 513.2,2090 536.8,2036.2 560.4,2025.8 583.9,2035.3 607.5,2031.9 631,1998.7 654.5,1995.7 678.1,1995.7 701.7,1925.4 725.2,1878 748.8,1865.9 772.3,1902.6" fill="none" stroke="#D55E00" stroke-width="3" stroke-linejoin="round" />
<polyline points="395.5,2151.9 419.1,2139.6 442.6,2142.7 466.1,2130.9 489.7,2124.3 513.2,2104.5 536.8,2064.2 560.4,2068.9 583.9,2080.6 607.5,2051.7 631,2033.2 654.5,2052.6 678.1,2024.5 701.7,1990.1 725.2,1970.7 748.8,1947 772.3,1971.5" fill="none" stroke="#D55E00" stroke-width="3" stroke-linejoin="round" />
<polyline points="395.5,2138.8 419.1,2126.9 442.6,2101.9 466.1,2096.6 489.7,2092.7 513.2,2111.1 536.8,2103.2 560.4,2099.3 583.9,2086.1 607.5,2099.3 631,2096.6 654.5,2079.5 678.1,2053.2 701.7,1992.2 725.2,1951.3 748.8,1979.3 772.3,1998.7" fill="none" stroke="#D55E00" stroke-width="3" stroke-linejoin="round" stroke-dasharray="9.5 7.5" />
<polyline points="395.5,2141.4 419.1,2130.9 442.6,2113.7 466.1,2116.4 489.7,2121.6 513.2,2125.6 536.8,2103.2 560.4,2101.9 583.9,2108.5 607.5,2117.7 631,2113.7 654.5,2095.3 678.1,2079.5 701.7,2018.1 725.2,1994.4 748.8,2048.2 772.3,2065.5" fill="none" stroke="#D55E00" stroke-width="3" stroke-linejoin="round" stroke-dasharray="9.5 7.5" />
<polyline points="395.5,2136.1 419.1,2124.3 442.6,2100 466.1,2108.5 489.7,2111.1 513.2,2109.8 536.8,2103.2 560.4,2100.6 583.9,2092.7 607.5,2109.8 631,2105.8 654.5,2099.3 678.1,2099.3 701.7,2009.5 725.2,1975 748.8,2022.4 772.3,2061.2" fill="none" stroke="#0072B2" stroke-width="3" stroke-linejoin="round" stroke-dasharray="9.5 7.5" />
<polyline points="395.5,2137.4 419.1,2129.5 442.6,2116.4 466.1,2119 489.7,2125.6 513.2,2124.3 536.8,2111.1 560.4,2117.7 583.9,2108.5 607.5,2121.6 631,2107.2 654.5,2095.3 678.1,2074.2 701.7,2037.5 725.2,2005.1 748.8,2031 772.3,2065.5" fill="none" stroke="#0072B2" stroke-width="3" stroke-linejoin="round" stroke-dasharray="9.5 7.5" />
<line x1="376" y1="1971.5" x2="791.8" y2="1971.5" stroke="#000" stroke-width="2.8" stroke-dasharray="10.5 10"/>
<line x1="747.6" y1="1635" x2="747.6" y2="2176" stroke="#ff0000" stroke-width="5" stroke-dasharray="20.3 19.9"/>
<rect x="376" y="1628.5" width="415.8" height="547.5" fill="none" stroke="#111" stroke-width="1.3"/>
<line x1="874.8" y1="1690.7" x2="929.9" y2="1690.7" stroke="#D55E00" stroke-width="3.4" />
<text x="939.5" y="1696.8" font-size="27" fill="#000" text-anchor="start" textLength="186.8" lengthAdjust="spacingAndGlyphs" >Pool 1 48 h CQ</text>
<line x1="874.8" y1="1759.6" x2="929.9" y2="1759.6" stroke="#0072B2" stroke-width="3.4" />
<text x="939.5" y="1765.4" font-size="27" fill="#000" text-anchor="start" textLength="187.5" lengthAdjust="spacingAndGlyphs" >Pool 1 96 h CQ</text>
<line x1="874.8" y1="1828.4" x2="918.6" y2="1828.4" stroke="#D55E00" stroke-width="3.4" stroke-dasharray="15.8 12.5"/>
<text x="939.5" y="1833.6" font-size="27" fill="#000" text-anchor="start" textLength="191.2" lengthAdjust="spacingAndGlyphs" >Pool 2 48 h CQ</text>
<line x1="874.8" y1="1897.8" x2="918.6" y2="1897.8" stroke="#0072B2" stroke-width="3.4" stroke-dasharray="15.8 12.5"/>
<text x="939.5" y="1904.2" font-size="27" fill="#000" text-anchor="start" textLength="191.2" lengthAdjust="spacingAndGlyphs" >Pool 2 96 h CQ</text>
<line x1="71" y1="2346" x2="683" y2="2177.2" stroke="#000" stroke-width="3.5" stroke-dasharray="17 9"/>
<line x1="769" y1="2177" x2="1156.2" y2="2316" stroke="#000" stroke-width="3.5" stroke-dasharray="17 9"/>
<line x1="0" y1="2382.2" x2="1312" y2="2382.2" stroke="#333" stroke-width="1.3" />
<line x1="226.5" y1="2369" x2="226.5" y2="2382.2" stroke="#333" stroke-width="1.3" />
<line x1="450.4" y1="2369" x2="450.4" y2="2382.2" stroke="#333" stroke-width="1.3" />
<line x1="674.8" y1="2369" x2="674.8" y2="2382.2" stroke="#333" stroke-width="1.3" />
<line x1="898.3" y1="2369" x2="898.3" y2="2382.2" stroke="#333" stroke-width="1.3" />
<line x1="1123.4" y1="2369" x2="1123.4" y2="2382.2" stroke="#333" stroke-width="1.3" />
<text x="196.2" y="2355.5" font-size="24.2" fill="#000" text-anchor="start" textLength="59.6" lengthAdjust="spacingAndGlyphs" >1,050</text>
<text x="421.4" y="2355.5" font-size="24.2" fill="#000" text-anchor="start" textLength="54.7" lengthAdjust="spacingAndGlyphs" >1,100</text>
<text x="645.8" y="2355.5" font-size="24.2" fill="#000" text-anchor="start" textLength="55.3" lengthAdjust="spacingAndGlyphs" >1,150</text>
<text x="866.4" y="2355.5" font-size="24.2" fill="#000" text-anchor="start" textLength="60.4" lengthAdjust="spacingAndGlyphs" >1,200</text>
<text x="1095.8" y="2355.5" font-size="24.2" fill="#000" text-anchor="start" textLength="58.2" lengthAdjust="spacingAndGlyphs" >1,250</text>
<text x="1165" y="2355.5" font-size="24.2" fill="#000" text-anchor="start" textLength="27.7" lengthAdjust="spacingAndGlyphs" >kb</text>
<rect x="73" y="2403.9" width="21.8" height="19.8" fill="#2e9e86" />
<rect x="83.1" y="2403.9" width="1.8" height="19.8" fill="#a8d8cc" />
<line x1="75" y1="2413.8" x2="91" y2="2413.8" stroke="#0000aa" stroke-width="2" stroke-dasharray="4 2"/>
<rect x="158" y="2403.9" width="12" height="19.8" fill="#2e9e86" />
<rect x="229.3" y="2403.9" width="48.8" height="19.8" fill="#2e9e86" />
<rect x="340.6" y="2403.9" width="10.2" height="19.8" fill="#2e9e86" />
<rect x="441.1" y="2403.9" width="11.6" height="19.8" fill="#2e9e86" />
<rect x="551" y="2403.9" width="280.6" height="19.8" fill="#2e9e86" />
<rect x="865.2" y="2403.9" width="17.4" height="19.8" fill="#2e9e86" />
<rect x="978.2" y="2403.9" width="193.3" height="19.8" fill="#2e9e86" />
<rect x="1156.6" y="2403.9" width="1.8" height="19.8" fill="#a8d8cc" />
<line x1="1158" y1="2413.8" x2="1170" y2="2413.8" stroke="#0000aa" stroke-width="2" stroke-dasharray="4 2"/>
<rect x="86" y="2443.2" width="25.7" height="19.8" fill="#2e9e86" />
<line x1="87" y1="2453.1" x2="109" y2="2453.1" stroke="#0000aa" stroke-width="2" stroke-dasharray="4 2"/>
<rect x="169.6" y="2443.2" width="8.8" height="19.8" fill="#2e9e86" />
<rect x="259.2" y="2443.2" width="35.8" height="19.8" fill="#2e9e86" />
<rect x="280.7" y="2443.2" width="1.8" height="19.8" fill="#a8d8cc" />
<line x1="260" y1="2453.1" x2="281" y2="2453.1" stroke="#0000aa" stroke-width="2" stroke-dasharray="4 2"/>
<rect x="354.7" y="2443.2" width="21.7" height="19.8" fill="#2e9e86" />
<rect x="357.3" y="2443.2" width="1.8" height="19.8" fill="#a8d8cc" />
<rect x="362.6" y="2443.2" width="1.8" height="19.8" fill="#a8d8cc" />
<rect x="367.9" y="2443.2" width="1.8" height="19.8" fill="#a8d8cc" />
<line x1="356" y1="2453.1" x2="373" y2="2453.1" stroke="#0000aa" stroke-width="2" stroke-dasharray="4 2"/>
<rect x="450.6" y="2443.2" width="4.2" height="19.8" fill="#2e9e86" />
<rect x="534.1" y="2443.2" width="13" height="19.8" fill="#2e9e86" />
<rect x="536.1" y="2443.2" width="1.8" height="19.8" fill="#a8d8cc" />
<rect x="540.1" y="2443.2" width="1.8" height="19.8" fill="#a8d8cc" />
<rect x="543.1" y="2443.2" width="1.8" height="19.8" fill="#a8d8cc" />
<line x1="537" y1="2453.1" x2="544" y2="2453.1" stroke="#0000aa" stroke-width="2" stroke-dasharray="4 2"/>
<rect x="706.5" y="2443.2" width="84" height="19.8" fill="#2e9e86" />
<rect x="831.6" y="2443.2" width="37" height="19.8" fill="#2e9e86" />
<rect x="896.9" y="2443.2" width="24.1" height="19.8" fill="#2e9e86" />
<rect x="959.8" y="2443.2" width="8.7" height="19.8" fill="#2e9e86" />
<line x1="959" y1="2453.1" x2="962" y2="2453.1" stroke="#0000aa" stroke-width="2" stroke-dasharray="4 2"/>
<rect x="1065.3" y="2443.2" width="35.7" height="19.8" fill="#2e9e86" />
<rect x="1096.4" y="2443.2" width="1.8" height="19.8" fill="#a8d8cc" />
<line x1="1096" y1="2453.1" x2="1099" y2="2453.1" stroke="#0000aa" stroke-width="2" stroke-dasharray="4 2"/>
<rect x="1136.8" y="2443.2" width="84" height="19.8" fill="#2e9e86" />
<rect x="1194.7" y="2443.2" width="1.8" height="19.8" fill="#a8d8cc" />
<line x1="1137" y1="2453.1" x2="1140" y2="2453.1" stroke="#0000aa" stroke-width="2" stroke-dasharray="4 2"/>
<rect x="104.3" y="2481.8" width="17.6" height="19.8" fill="#2e9e86" />
<rect x="106.9" y="2481.8" width="1.8" height="19.8" fill="#a8d8cc" />
<rect x="113.9" y="2481.8" width="1.8" height="19.8" fill="#a8d8cc" />
<line x1="107" y1="2491.7" x2="117" y2="2491.7" stroke="#0000aa" stroke-width="2" stroke-dasharray="4 2"/>
<rect x="184.4" y="2481.8" width="17.2" height="19.8" fill="#2e9e86" />
<rect x="282" y="2481.8" width="19" height="19.8" fill="#2e9e86" />
<rect x="295.1" y="2481.8" width="1.8" height="19.8" fill="#a8d8cc" />
<line x1="294" y1="2491.7" x2="298" y2="2491.7" stroke="#0000aa" stroke-width="2" stroke-dasharray="4 2"/>
<rect x="380.3" y="2481.8" width="10.2" height="19.8" fill="#2e9e86" />
<rect x="450.6" y="2481.8" width="12.6" height="19.8" fill="#2e9e86" />
<rect x="454.1" y="2481.8" width="1.8" height="19.8" fill="#a8d8cc" />
<line x1="454" y1="2491.7" x2="461" y2="2491.7" stroke="#0000aa" stroke-width="2" stroke-dasharray="4 2"/>
<rect x="547.1" y="2481.8" width="4.2" height="19.8" fill="#2e9e86" />
<rect x="770.5" y="2481.8" width="28.8" height="19.8" fill="#2e9e86" />
<rect x="772.1" y="2481.8" width="1.8" height="19.8" fill="#a8d8cc" />
<line x1="773" y1="2491.7" x2="797" y2="2491.7" stroke="#0000aa" stroke-width="2" stroke-dasharray="4 2"/>
<rect x="852.4" y="2481.8" width="7.2" height="19.8" fill="#2e9e86" />
<rect x="937.2" y="2481.8" width="18.4" height="19.8" fill="#2e9e86" />
<rect x="940.1" y="2481.8" width="1.8" height="19.8" fill="#a8d8cc" />
<line x1="937" y1="2491.7" x2="941" y2="2491.7" stroke="#0000aa" stroke-width="2" stroke-dasharray="4 2"/>
<rect x="1088.6" y="2481.8" width="12.4" height="19.8" fill="#2e9e86" />
<rect x="1093.4" y="2481.8" width="1.8" height="19.8" fill="#a8d8cc" />
<line x1="1091" y1="2491.7" x2="1097" y2="2491.7" stroke="#0000aa" stroke-width="2" stroke-dasharray="4 2"/>
<rect x="1189.6" y="2481.8" width="11.3" height="19.8" fill="#2e9e86" />
<rect x="115.2" y="2521.2" width="11.9" height="19.8" fill="#2e9e86" />
<rect x="203" y="2521.2" width="1.7" height="19.8" fill="#2e9e86" />
<rect x="282.7" y="2521.2" width="31.6" height="19.8" fill="#2e9e86" />
<rect x="387.7" y="2521.2" width="2.8" height="19.8" fill="#2e9e86" />
<rect x="468.5" y="2521.2" width="10.1" height="19.8" fill="#2e9e86" />
<rect x="789.8" y="2521.2" width="22.8" height="19.8" fill="#2e9e86" />
<rect x="793.1" y="2521.2" width="1.8" height="19.8" fill="#a8d8cc" />
<rect x="805.1" y="2521.2" width="1.8" height="19.8" fill="#a8d8cc" />
<line x1="790" y1="2531.1" x2="811" y2="2531.1" stroke="#0000aa" stroke-width="2" stroke-dasharray="4 2"/>
<rect x="857" y="2521.2" width="4.1" height="19.8" fill="#2e9e86" />
<rect x="1106" y="2521.2" width="18.8" height="19.8" fill="#2e9e86" />
<line x1="1106" y1="2531.1" x2="1121" y2="2531.1" stroke="#0000aa" stroke-width="2" stroke-dasharray="4 2"/>
<rect x="1206.1" y="2521.2" width="12.9" height="19.8" fill="#2e9e86" />
<rect x="126.8" y="2560.1" width="10.2" height="19.8" fill="#2e9e86" />
<rect x="203" y="2560.1" width="18.6" height="19.8" fill="#2e9e86" />
<rect x="295" y="2560.1" width="26" height="19.8" fill="#2e9e86" />
<rect x="395.8" y="2560.1" width="47" height="19.8" fill="#2e9e86" />
<rect x="487.8" y="2560.1" width="31.2" height="19.8" fill="#2e9e86" />
<rect x="812.6" y="2560.1" width="8.8" height="19.8" fill="#2e9e86" />
<rect x="874.7" y="2560.1" width="10.1" height="19.8" fill="#2e9e86" />
<rect x="1118" y="2560.1" width="18.5" height="19.8" fill="#2e9e86" />
<rect x="134.8" y="2599.5" width="40.1" height="19.8" fill="#2e9e86" />
<rect x="221.9" y="2599.5" width="12.7" height="19.8" fill="#2e9e86" />
<rect x="229.8" y="2599.5" width="1.8" height="19.8" fill="#a8d8cc" />
<line x1="229" y1="2609.4" x2="231" y2="2609.4" stroke="#0000aa" stroke-width="2" stroke-dasharray="4 2"/>
<rect x="321.3" y="2599.5" width="4.6" height="19.8" fill="#2e9e86" />
<rect x="409.1" y="2599.5" width="15.8" height="19.8" fill="#2e9e86" />
<line x1="410" y1="2609.4" x2="422" y2="2609.4" stroke="#0000aa" stroke-width="2" stroke-dasharray="4 2"/>
<rect x="514.1" y="2599.5" width="27.8" height="19.8" fill="#2e9e86" />
<rect x="816.8" y="2599.5" width="17.6" height="19.8" fill="#2e9e86" />
<rect x="830.1" y="2599.5" width="1.8" height="19.8" fill="#a8d8cc" />
<line x1="817" y1="2609.4" x2="830" y2="2609.4" stroke="#0000aa" stroke-width="2" stroke-dasharray="4 2"/>
<rect x="1127.8" y="2599.5" width="12.8" height="19.8" fill="#2e9e86" />
<line x1="1128" y1="2609.4" x2="1138" y2="2609.4" stroke="#0000aa" stroke-width="2" stroke-dasharray="4 2"/>
<rect x="1228" y="2599.5" width="30.1" height="19.8" fill="#2e9e86" />
<rect x="1230.8" y="2599.5" width="1.8" height="19.8" fill="#a8d8cc" />
<line x1="1229" y1="2609.4" x2="1260" y2="2609.4" stroke="#0000aa" stroke-width="2" stroke-dasharray="4 2"/>
<rect x="823.8" y="2638.1" width="15.8" height="19.8" fill="#2e9e86" />
<rect x="829.8" y="2677.8" width="24.6" height="19.8" fill="#2e9e86" />
<rect x="927.4" y="2403.9" width="21.5" height="19.8" fill="#ff0000" />
<text x="376.7" y="2422.1" font-size="21.5" fill="#000" text-anchor="start" textLength="58.6" lengthAdjust="spacingAndGlyphs" >RNF5</text>
<text x="10.1" y="2456.5" font-size="21.5" fill="#000" text-anchor="start" textLength="60.4" lengthAdjust="spacingAndGlyphs" >GAS8</text>
<text x="630.4" y="2462" font-size="21.5" fill="#000" text-anchor="start" textLength="55.9" lengthAdjust="spacingAndGlyphs" >CEPT</text>
<text x="917.1" y="2442.2" font-size="21.5" fill="#000" text-anchor="start" textLength="51.3" lengthAdjust="spacingAndGlyphs" >AAT1</text>
<text x="26.4" y="2498.5" font-size="21.5" fill="#000" text-anchor="start" textLength="57.9" lengthAdjust="spacingAndGlyphs" >SMS1</text>
<text x="135.2" y="2498.5" font-size="21.5" fill="#000" text-anchor="start" textLength="42.5" lengthAdjust="spacingAndGlyphs" >PAP</text>
<text x="211.7" y="2498.5" font-size="21.5" fill="#000" text-anchor="start" textLength="66.2" lengthAdjust="spacingAndGlyphs" >KAS-II</text>
<text x="872.9" y="2501.3" font-size="21.5" fill="#000" text-anchor="start" textLength="53.7" lengthAdjust="spacingAndGlyphs" >DnaJ</text>
<text x="1015.3" y="2497.9" font-size="21.5" fill="#000" text-anchor="start" textLength="63.5" lengthAdjust="spacingAndGlyphs" >Sec14</text>
<text x="36.9" y="2533.5" font-size="21.5" fill="#000" text-anchor="start" textLength="61.9" lengthAdjust="spacingAndGlyphs" >SMS2</text>
<text x="218.4" y="2538.7" font-size="21.5" fill="#000" text-anchor="start" textLength="59" lengthAdjust="spacingAndGlyphs" >CRAL</text>
<text x="986.9" y="2539.7" font-size="21.5" fill="#000" text-anchor="start" textLength="108.3" lengthAdjust="spacingAndGlyphs" >CPW-WPC</text>
<text x="1230.5" y="2539.7" font-size="21.5" fill="#000" text-anchor="start" textLength="55.1" lengthAdjust="spacingAndGlyphs" >YTM1</text>
<text x="727.9" y="2578" font-size="21.5" fill="#000" text-anchor="start" textLength="76" lengthAdjust="spacingAndGlyphs" >DMAP1</text>
<text x="892.8" y="2577.8" font-size="21.5" fill="#000" text-anchor="start" textLength="49" lengthAdjust="spacingAndGlyphs" >GNA</text>
<text x="65.6" y="2618.1" font-size="21.5" fill="#000" text-anchor="start" textLength="44.4" lengthAdjust="spacingAndGlyphs" >Pol1</text>
<text x="776.5" y="2694.3" font-size="21.5" fill="#000" text-anchor="start" textLength="44.2" lengthAdjust="spacingAndGlyphs" >RAP</text>
</svg></body></html>
